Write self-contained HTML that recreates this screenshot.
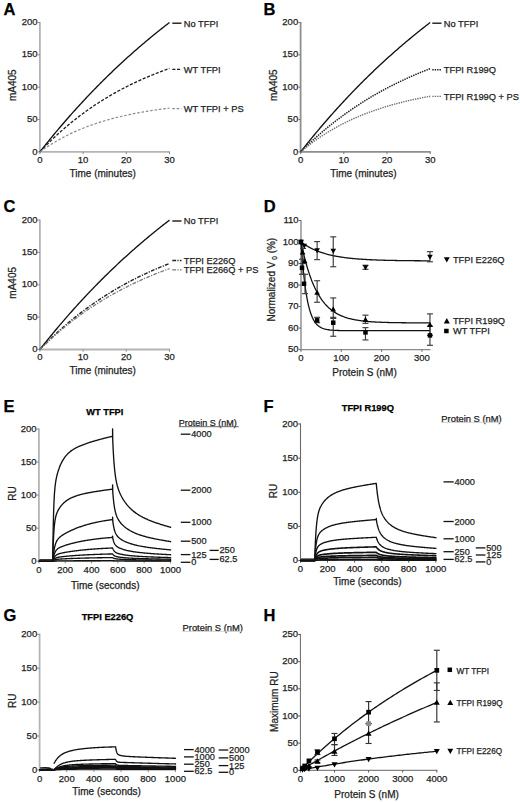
<!DOCTYPE html>
<html><head><meta charset="utf-8"><style>
html,body{margin:0;padding:0;background:#fff;}
svg{display:block;font-family:"Liberation Sans",sans-serif;}
</style></head><body>
<svg width="520" height="802" viewBox="0 0 520 802">
<rect width="520" height="802" fill="#fff"/>
<text x="3.4" y="14.8" font-size="16.5" text-anchor="start" font-weight="bold" fill="#000" stroke="#000" stroke-width="0.25">A</text>
<line x1="39.9" y1="21.9" x2="39.9" y2="152.5" stroke="#b4b4b4" stroke-width="1.8"/>
<line x1="37.7" y1="22.5" x2="39.9" y2="22.5" stroke="#8a8a8a" stroke-width="1"/>
<text x="37.5" y="25.12" font-size="9.5" text-anchor="end" font-weight="normal" fill="#1e1e1e" stroke="#1e1e1e" stroke-width="0.25">200</text>
<line x1="37.7" y1="54.85" x2="39.9" y2="54.85" stroke="#8a8a8a" stroke-width="1"/>
<text x="37.5" y="57.47" font-size="9.5" text-anchor="end" font-weight="normal" fill="#1e1e1e" stroke="#1e1e1e" stroke-width="0.25">150</text>
<line x1="37.7" y1="87.2" x2="39.9" y2="87.2" stroke="#8a8a8a" stroke-width="1"/>
<text x="37.5" y="89.82" font-size="9.5" text-anchor="end" font-weight="normal" fill="#1e1e1e" stroke="#1e1e1e" stroke-width="0.25">100</text>
<line x1="37.7" y1="119.55" x2="39.9" y2="119.55" stroke="#8a8a8a" stroke-width="1"/>
<text x="37.5" y="122.17" font-size="9.5" text-anchor="end" font-weight="normal" fill="#1e1e1e" stroke="#1e1e1e" stroke-width="0.25">50</text>
<line x1="37.7" y1="151.9" x2="39.9" y2="151.9" stroke="#8a8a8a" stroke-width="1"/>
<text x="37.5" y="154.52" font-size="9.5" text-anchor="end" font-weight="normal" fill="#1e1e1e" stroke="#1e1e1e" stroke-width="0.25">0</text>
<line x1="39.3" y1="151.9" x2="170.1" y2="151.9" stroke="#b4b4b4" stroke-width="1.8"/>
<line x1="39.9" y1="151.9" x2="39.9" y2="154.1" stroke="#8a8a8a" stroke-width="1"/>
<text x="39.9" y="162.7" font-size="9.5" text-anchor="middle" font-weight="normal" fill="#1e1e1e" stroke="#1e1e1e" stroke-width="0.25">0</text>
<line x1="83.1" y1="151.9" x2="83.1" y2="154.1" stroke="#8a8a8a" stroke-width="1"/>
<text x="83.1" y="162.7" font-size="9.5" text-anchor="middle" font-weight="normal" fill="#1e1e1e" stroke="#1e1e1e" stroke-width="0.25">10</text>
<line x1="126.3" y1="151.9" x2="126.3" y2="154.1" stroke="#8a8a8a" stroke-width="1"/>
<text x="126.3" y="162.7" font-size="9.5" text-anchor="middle" font-weight="normal" fill="#1e1e1e" stroke="#1e1e1e" stroke-width="0.25">20</text>
<line x1="169.5" y1="151.9" x2="169.5" y2="154.1" stroke="#8a8a8a" stroke-width="1"/>
<text x="169.5" y="162.7" font-size="9.5" text-anchor="middle" font-weight="normal" fill="#1e1e1e" stroke="#1e1e1e" stroke-width="0.25">30</text>
<text x="102.7" y="176.5" font-size="10" text-anchor="middle" font-weight="normal" fill="#1e1e1e" stroke="#1e1e1e" stroke-width="0.25">Time (minutes)</text>
<text transform="translate(16.2 85.2) rotate(-90)" font-size="10" text-anchor="middle" fill="#1e1e1e" stroke="#1e1e1e" stroke-width="0.25">mA405</text>
<path d="M39.9 151.9 L40.98 150.53 L42.06 149.16 L43.14 147.8 L44.22 146.44 L45.3 145.09 L46.38 143.75 L47.46 142.41 L48.54 141.07 L49.62 139.75 L50.7 138.42 L51.78 137.11 L52.86 135.8 L53.94 134.49 L55.02 133.19 L56.1 131.9 L57.18 130.61 L58.26 129.32 L59.34 128.05 L60.42 126.77 L61.5 125.51 L62.58 124.25 L63.66 122.99 L64.74 121.74 L65.82 120.49 L66.9 119.25 L67.98 118.02 L69.06 116.79 L70.14 115.56 L71.22 114.34 L72.3 113.13 L73.38 111.92 L74.46 110.72 L75.54 109.52 L76.62 108.32 L77.7 107.13 L78.78 105.95 L79.86 104.77 L80.94 103.6 L82.02 102.43 L83.1 101.26 L84.18 100.11 L85.26 98.95 L86.34 97.8 L87.42 96.66 L88.5 95.52 L89.58 94.39 L90.66 93.26 L91.74 92.13 L92.82 91.01 L93.9 89.89 L94.98 88.78 L96.06 87.68 L97.14 86.58 L98.22 85.48 L99.3 84.39 L100.38 83.3 L101.46 82.22 L102.54 81.14 L103.62 80.07 L104.7 79 L105.78 77.93 L106.86 76.87 L107.94 75.82 L109.02 74.77 L110.1 73.72 L111.18 72.68 L112.26 71.64 L113.34 70.61 L114.42 69.58 L115.5 68.55 L116.58 67.53 L117.66 66.52 L118.74 65.51 L119.82 64.5 L120.9 63.5 L121.98 62.5 L123.06 61.5 L124.14 60.51 L125.22 59.53 L126.3 58.55 L127.38 57.57 L128.46 56.59 L129.54 55.63 L130.62 54.66 L131.7 53.7 L132.78 52.74 L133.86 51.79 L134.94 50.84 L136.02 49.89 L137.1 48.95 L138.18 48.02 L139.26 47.08 L140.34 46.15 L141.42 45.23 L142.5 44.31 L143.58 43.39 L144.66 42.48 L145.74 41.57 L146.82 40.66 L147.9 39.76 L148.98 38.86 L150.06 37.97 L151.14 37.08 L152.22 36.19 L153.3 35.31 L154.38 34.43 L155.46 33.55 L156.54 32.68 L157.62 31.81 L158.7 30.95 L159.78 30.09 L160.86 29.23 L161.94 28.38 L163.02 27.53 L164.1 26.68 L165.18 25.84 L166.26 25 L167.34 24.17 L168.42 23.33 L169.5 22.51" fill="none" stroke="#111" stroke-width="1.35" stroke-linejoin="round"/>
<path d="M39.9 151.9 L40.98 150.75 L42.06 149.62 L43.14 148.49 L44.22 147.38 L45.3 146.27 L46.38 145.18 L47.46 144.1 L48.54 143.02 L49.62 141.96 L50.7 140.9 L51.78 139.86 L52.86 138.82 L53.94 137.8 L55.02 136.78 L56.1 135.77 L57.18 134.78 L58.26 133.79 L59.34 132.81 L60.42 131.84 L61.5 130.88 L62.58 129.92 L63.66 128.98 L64.74 128.04 L65.82 127.12 L66.9 126.2 L67.98 125.29 L69.06 124.39 L70.14 123.5 L71.22 122.61 L72.3 121.73 L73.38 120.87 L74.46 120.01 L75.54 119.15 L76.62 118.31 L77.7 117.47 L78.78 116.64 L79.86 115.82 L80.94 115.01 L82.02 114.2 L83.1 113.4 L84.18 112.61 L85.26 111.83 L86.34 111.05 L87.42 110.28 L88.5 109.52 L89.58 108.76 L90.66 108.01 L91.74 107.27 L92.82 106.53 L93.9 105.8 L94.98 105.08 L96.06 104.37 L97.14 103.66 L98.22 102.96 L99.3 102.26 L100.38 101.57 L101.46 100.89 L102.54 100.21 L103.62 99.54 L104.7 98.88 L105.78 98.22 L106.86 97.57 L107.94 96.92 L109.02 96.28 L110.1 95.65 L111.18 95.02 L112.26 94.4 L113.34 93.78 L114.42 93.17 L115.5 92.57 L116.58 91.97 L117.66 91.37 L118.74 90.78 L119.82 90.2 L120.9 89.62 L121.98 89.05 L123.06 88.48 L124.14 87.92 L125.22 87.36 L126.3 86.81 L127.38 86.26 L128.46 85.72 L129.54 85.18 L130.62 84.65 L131.7 84.13 L132.78 83.6 L133.86 83.09 L134.94 82.57 L136.02 82.07 L137.1 81.56 L138.18 81.06 L139.26 80.57 L140.34 80.08 L141.42 79.6 L142.5 79.12 L143.58 78.64 L144.66 78.17 L145.74 77.7 L146.82 77.24 L147.9 76.78 L148.98 76.32 L150.06 75.87 L151.14 75.43 L152.22 74.99 L153.3 74.55 L154.38 74.11 L155.46 73.68 L156.54 73.26 L157.62 72.84 L158.7 72.42 L159.78 72 L160.86 71.59 L161.94 71.19 L163.02 70.78 L164.1 70.38 L165.18 69.99 L166.26 69.6 L167.34 69.21 L168.42 68.82 L169.5 68.44" fill="none" stroke="#1a1a1a" stroke-width="1.3" stroke-dasharray="3.1 1.6" stroke-linejoin="round"/>
<path d="M39.9 151.9 L40.98 151.12 L42.06 150.35 L43.14 149.59 L44.22 148.84 L45.3 148.11 L46.38 147.38 L47.46 146.67 L48.54 145.97 L49.62 145.27 L50.7 144.59 L51.78 143.92 L52.86 143.26 L53.94 142.6 L55.02 141.96 L56.1 141.33 L57.18 140.7 L58.26 140.09 L59.34 139.48 L60.42 138.89 L61.5 138.3 L62.58 137.72 L63.66 137.15 L64.74 136.59 L65.82 136.04 L66.9 135.49 L67.98 134.95 L69.06 134.43 L70.14 133.9 L71.22 133.39 L72.3 132.89 L73.38 132.39 L74.46 131.9 L75.54 131.41 L76.62 130.94 L77.7 130.47 L78.78 130.01 L79.86 129.55 L80.94 129.1 L82.02 128.66 L83.1 128.23 L84.18 127.8 L85.26 127.37 L86.34 126.96 L87.42 126.55 L88.5 126.14 L89.58 125.75 L90.66 125.36 L91.74 124.97 L92.82 124.59 L93.9 124.21 L94.98 123.85 L96.06 123.48 L97.14 123.12 L98.22 122.77 L99.3 122.42 L100.38 122.08 L101.46 121.74 L102.54 121.41 L103.62 121.08 L104.7 120.76 L105.78 120.44 L106.86 120.13 L107.94 119.82 L109.02 119.52 L110.1 119.22 L111.18 118.93 L112.26 118.64 L113.34 118.35 L114.42 118.07 L115.5 117.79 L116.58 117.52 L117.66 117.25 L118.74 116.98 L119.82 116.72 L120.9 116.46 L121.98 116.21 L123.06 115.96 L124.14 115.71 L125.22 115.47 L126.3 115.23 L127.38 115 L128.46 114.77 L129.54 114.54 L130.62 114.31 L131.7 114.09 L132.78 113.87 L133.86 113.66 L134.94 113.45 L136.02 113.24 L137.1 113.03 L138.18 112.83 L139.26 112.63 L140.34 112.43 L141.42 112.24 L142.5 112.05 L143.58 111.86 L144.66 111.68 L145.74 111.49 L146.82 111.31 L147.9 111.14 L148.98 110.96 L150.06 110.79 L151.14 110.62 L152.22 110.45 L153.3 110.29 L154.38 110.13 L155.46 109.97 L156.54 109.81 L157.62 109.66 L158.7 109.51 L159.78 109.36 L160.86 109.21 L161.94 109.06 L163.02 108.92 L164.1 108.78 L165.18 108.64 L166.26 108.5 L167.34 108.37 L168.42 108.23 L169.5 108.1" fill="none" stroke="#8a8a8a" stroke-width="1.2" stroke-dasharray="2.6 1.8" stroke-linejoin="round"/>
<line x1="172.3" y1="23.2" x2="181.5" y2="23.2" stroke="#111" stroke-width="1.35"/>
<text x="183.8" y="26.55" font-size="9.3" text-anchor="start" font-weight="normal" fill="#1e1e1e" stroke="#1e1e1e" stroke-width="0.25">No TFPI</text>
<line x1="172.3" y1="69.3" x2="181.5" y2="69.3" stroke="#1a1a1a" stroke-width="1.3" stroke-dasharray="3.1 1.6"/>
<text x="183.8" y="72.65" font-size="9.3" text-anchor="start" font-weight="normal" fill="#1e1e1e" stroke="#1e1e1e" stroke-width="0.25">WT TFPI</text>
<line x1="172.3" y1="108.6" x2="181.5" y2="108.6" stroke="#8a8a8a" stroke-width="1.2" stroke-dasharray="2.6 1.8"/>
<text x="183.8" y="111.95" font-size="9.3" text-anchor="start" font-weight="normal" fill="#1e1e1e" stroke="#1e1e1e" stroke-width="0.25">WT TFPI + PS</text>
<text x="263.4" y="14.8" font-size="16.5" text-anchor="start" font-weight="bold" fill="#000" stroke="#000" stroke-width="0.25">B</text>
<line x1="300.6" y1="21.9" x2="300.6" y2="152.5" stroke="#8e8e8e" stroke-width="1.8"/>
<line x1="298.4" y1="22.5" x2="300.6" y2="22.5" stroke="#777" stroke-width="1"/>
<text x="298.2" y="25.12" font-size="9.5" text-anchor="end" font-weight="normal" fill="#1e1e1e" stroke="#1e1e1e" stroke-width="0.25">200</text>
<line x1="298.4" y1="54.85" x2="300.6" y2="54.85" stroke="#777" stroke-width="1"/>
<text x="298.2" y="57.47" font-size="9.5" text-anchor="end" font-weight="normal" fill="#1e1e1e" stroke="#1e1e1e" stroke-width="0.25">150</text>
<line x1="298.4" y1="87.2" x2="300.6" y2="87.2" stroke="#777" stroke-width="1"/>
<text x="298.2" y="89.82" font-size="9.5" text-anchor="end" font-weight="normal" fill="#1e1e1e" stroke="#1e1e1e" stroke-width="0.25">100</text>
<line x1="298.4" y1="119.55" x2="300.6" y2="119.55" stroke="#777" stroke-width="1"/>
<text x="298.2" y="122.17" font-size="9.5" text-anchor="end" font-weight="normal" fill="#1e1e1e" stroke="#1e1e1e" stroke-width="0.25">50</text>
<line x1="298.4" y1="151.9" x2="300.6" y2="151.9" stroke="#777" stroke-width="1"/>
<text x="298.2" y="154.52" font-size="9.5" text-anchor="end" font-weight="normal" fill="#1e1e1e" stroke="#1e1e1e" stroke-width="0.25">0</text>
<line x1="300" y1="151.9" x2="430.8" y2="151.9" stroke="#8e8e8e" stroke-width="1.8"/>
<line x1="300.6" y1="151.9" x2="300.6" y2="154.1" stroke="#777" stroke-width="1"/>
<text x="300.6" y="162.7" font-size="9.5" text-anchor="middle" font-weight="normal" fill="#1e1e1e" stroke="#1e1e1e" stroke-width="0.25">0</text>
<line x1="343.8" y1="151.9" x2="343.8" y2="154.1" stroke="#777" stroke-width="1"/>
<text x="343.8" y="162.7" font-size="9.5" text-anchor="middle" font-weight="normal" fill="#1e1e1e" stroke="#1e1e1e" stroke-width="0.25">10</text>
<line x1="387" y1="151.9" x2="387" y2="154.1" stroke="#777" stroke-width="1"/>
<text x="387" y="162.7" font-size="9.5" text-anchor="middle" font-weight="normal" fill="#1e1e1e" stroke="#1e1e1e" stroke-width="0.25">20</text>
<line x1="430.2" y1="151.9" x2="430.2" y2="154.1" stroke="#777" stroke-width="1"/>
<text x="430.2" y="162.7" font-size="9.5" text-anchor="middle" font-weight="normal" fill="#1e1e1e" stroke="#1e1e1e" stroke-width="0.25">30</text>
<text x="363.4" y="176.5" font-size="10" text-anchor="middle" font-weight="normal" fill="#1e1e1e" stroke="#1e1e1e" stroke-width="0.25">Time (minutes)</text>
<text transform="translate(277.2 85.2) rotate(-90)" font-size="10" text-anchor="middle" fill="#1e1e1e" stroke="#1e1e1e" stroke-width="0.25">mA405</text>
<path d="M300.6 151.9 L301.68 150.53 L302.76 149.16 L303.84 147.8 L304.92 146.44 L306 145.09 L307.08 143.75 L308.16 142.41 L309.24 141.07 L310.32 139.75 L311.4 138.42 L312.48 137.11 L313.56 135.8 L314.64 134.49 L315.72 133.19 L316.8 131.9 L317.88 130.61 L318.96 129.32 L320.04 128.05 L321.12 126.77 L322.2 125.51 L323.28 124.25 L324.36 122.99 L325.44 121.74 L326.52 120.49 L327.6 119.25 L328.68 118.02 L329.76 116.79 L330.84 115.56 L331.92 114.34 L333 113.13 L334.08 111.92 L335.16 110.72 L336.24 109.52 L337.32 108.32 L338.4 107.13 L339.48 105.95 L340.56 104.77 L341.64 103.6 L342.72 102.43 L343.8 101.26 L344.88 100.11 L345.96 98.95 L347.04 97.8 L348.12 96.66 L349.2 95.52 L350.28 94.39 L351.36 93.26 L352.44 92.13 L353.52 91.01 L354.6 89.89 L355.68 88.78 L356.76 87.68 L357.84 86.58 L358.92 85.48 L360 84.39 L361.08 83.3 L362.16 82.22 L363.24 81.14 L364.32 80.07 L365.4 79 L366.48 77.93 L367.56 76.87 L368.64 75.82 L369.72 74.77 L370.8 73.72 L371.88 72.68 L372.96 71.64 L374.04 70.61 L375.12 69.58 L376.2 68.55 L377.28 67.53 L378.36 66.52 L379.44 65.51 L380.52 64.5 L381.6 63.5 L382.68 62.5 L383.76 61.5 L384.84 60.51 L385.92 59.53 L387 58.55 L388.08 57.57 L389.16 56.59 L390.24 55.63 L391.32 54.66 L392.4 53.7 L393.48 52.74 L394.56 51.79 L395.64 50.84 L396.72 49.89 L397.8 48.95 L398.88 48.02 L399.96 47.08 L401.04 46.15 L402.12 45.23 L403.2 44.31 L404.28 43.39 L405.36 42.48 L406.44 41.57 L407.52 40.66 L408.6 39.76 L409.68 38.86 L410.76 37.97 L411.84 37.08 L412.92 36.19 L414 35.31 L415.08 34.43 L416.16 33.55 L417.24 32.68 L418.32 31.81 L419.4 30.95 L420.48 30.09 L421.56 29.23 L422.64 28.38 L423.72 27.53 L424.8 26.68 L425.88 25.84 L426.96 25 L428.04 24.17 L429.12 23.33 L430.2 22.51" fill="none" stroke="#111" stroke-width="1.35" stroke-linejoin="round"/>
<path d="M300.6 151.9 L301.68 150.83 L302.76 149.76 L303.84 148.7 L304.92 147.65 L306 146.61 L307.08 145.58 L308.16 144.55 L309.24 143.54 L310.32 142.53 L311.4 141.53 L312.48 140.54 L313.56 139.55 L314.64 138.58 L315.72 137.61 L316.8 136.65 L317.88 135.69 L318.96 134.75 L320.04 133.81 L321.12 132.88 L322.2 131.95 L323.28 131.04 L324.36 130.13 L325.44 129.23 L326.52 128.33 L327.6 127.45 L328.68 126.57 L329.76 125.69 L330.84 124.83 L331.92 123.97 L333 123.12 L334.08 122.27 L335.16 121.43 L336.24 120.6 L337.32 119.77 L338.4 118.96 L339.48 118.14 L340.56 117.34 L341.64 116.54 L342.72 115.74 L343.8 114.96 L344.88 114.18 L345.96 113.4 L347.04 112.63 L348.12 111.87 L349.2 111.12 L350.28 110.37 L351.36 109.62 L352.44 108.88 L353.52 108.15 L354.6 107.43 L355.68 106.71 L356.76 105.99 L357.84 105.28 L358.92 104.58 L360 103.88 L361.08 103.19 L362.16 102.5 L363.24 101.82 L364.32 101.14 L365.4 100.47 L366.48 99.81 L367.56 99.15 L368.64 98.49 L369.72 97.85 L370.8 97.2 L371.88 96.56 L372.96 95.93 L374.04 95.3 L375.12 94.68 L376.2 94.06 L377.28 93.44 L378.36 92.83 L379.44 92.23 L380.52 91.63 L381.6 91.03 L382.68 90.45 L383.76 89.86 L384.84 89.28 L385.92 88.7 L387 88.13 L388.08 87.57 L389.16 87 L390.24 86.45 L391.32 85.89 L392.4 85.34 L393.48 84.8 L394.56 84.26 L395.64 83.72 L396.72 83.19 L397.8 82.66 L398.88 82.14 L399.96 81.62 L401.04 81.11 L402.12 80.6 L403.2 80.09 L404.28 79.59 L405.36 79.09 L406.44 78.59 L407.52 78.1 L408.6 77.61 L409.68 77.13 L410.76 76.65 L411.84 76.18 L412.92 75.71 L414 75.24 L415.08 74.77 L416.16 74.31 L417.24 73.86 L418.32 73.4 L419.4 72.95 L420.48 72.51 L421.56 72.07 L422.64 71.63 L423.72 71.19 L424.8 70.76 L425.88 70.33 L426.96 69.91 L428.04 69.49 L429.12 69.07 L430.2 68.65" fill="none" stroke="#1a1a1a" stroke-width="1.5" stroke-dasharray="1.4 1.0" stroke-linejoin="round"/>
<path d="M300.6 151.9 L301.68 150.99 L302.76 150.09 L303.84 149.21 L304.92 148.33 L306 147.47 L307.08 146.61 L308.16 145.77 L309.24 144.94 L310.32 144.12 L311.4 143.31 L312.48 142.51 L313.56 141.72 L314.64 140.94 L315.72 140.18 L316.8 139.42 L317.88 138.67 L318.96 137.93 L320.04 137.2 L321.12 136.48 L322.2 135.77 L323.28 135.07 L324.36 134.37 L325.44 133.69 L326.52 133.02 L327.6 132.35 L328.68 131.69 L329.76 131.04 L330.84 130.4 L331.92 129.77 L333 129.15 L334.08 128.53 L335.16 127.92 L336.24 127.32 L337.32 126.73 L338.4 126.14 L339.48 125.57 L340.56 125 L341.64 124.43 L342.72 123.88 L343.8 123.33 L344.88 122.79 L345.96 122.26 L347.04 121.73 L348.12 121.21 L349.2 120.69 L350.28 120.19 L351.36 119.69 L352.44 119.19 L353.52 118.71 L354.6 118.22 L355.68 117.75 L356.76 117.28 L357.84 116.82 L358.92 116.36 L360 115.91 L361.08 115.46 L362.16 115.02 L363.24 114.59 L364.32 114.16 L365.4 113.74 L366.48 113.32 L367.56 112.91 L368.64 112.5 L369.72 112.1 L370.8 111.71 L371.88 111.32 L372.96 110.93 L374.04 110.55 L375.12 110.17 L376.2 109.8 L377.28 109.44 L378.36 109.07 L379.44 108.72 L380.52 108.37 L381.6 108.02 L382.68 107.67 L383.76 107.34 L384.84 107 L385.92 106.67 L387 106.35 L388.08 106.02 L389.16 105.71 L390.24 105.39 L391.32 105.08 L392.4 104.78 L393.48 104.48 L394.56 104.18 L395.64 103.89 L396.72 103.6 L397.8 103.31 L398.88 103.03 L399.96 102.75 L401.04 102.47 L402.12 102.2 L403.2 101.93 L404.28 101.67 L405.36 101.41 L406.44 101.15 L407.52 100.9 L408.6 100.64 L409.68 100.4 L410.76 100.15 L411.84 99.91 L412.92 99.67 L414 99.44 L415.08 99.2 L416.16 98.97 L417.24 98.75 L418.32 98.52 L419.4 98.3 L420.48 98.09 L421.56 97.87 L422.64 97.66 L423.72 97.45 L424.8 97.24 L425.88 97.04 L426.96 96.84 L428.04 96.64 L429.12 96.44 L430.2 96.25" fill="none" stroke="#707070" stroke-width="1.4" stroke-dasharray="1.4 1.0" stroke-linejoin="round"/>
<line x1="432.3" y1="23.2" x2="441.5" y2="23.2" stroke="#111" stroke-width="1.35"/>
<text x="443.8" y="26.55" font-size="9.3" text-anchor="start" font-weight="normal" fill="#1e1e1e" stroke="#1e1e1e" stroke-width="0.25">No TFPI</text>
<line x1="432.3" y1="69.8" x2="441.5" y2="69.8" stroke="#1a1a1a" stroke-width="1.5" stroke-dasharray="1.4 1.0"/>
<text x="443.8" y="73.15" font-size="9.3" text-anchor="start" font-weight="normal" fill="#1e1e1e" stroke="#1e1e1e" stroke-width="0.25">TFPI R199Q</text>
<line x1="432.3" y1="96.4" x2="441.5" y2="96.4" stroke="#707070" stroke-width="1.4" stroke-dasharray="1.4 1.0"/>
<text x="443.8" y="99.75" font-size="9.3" text-anchor="start" font-weight="normal" fill="#1e1e1e" stroke="#1e1e1e" stroke-width="0.25">TFPI R199Q + PS</text>
<text x="3.4" y="212.4" font-size="16.5" text-anchor="start" font-weight="bold" fill="#000" stroke="#000" stroke-width="0.25">C</text>
<line x1="39.9" y1="219.5" x2="39.9" y2="350.1" stroke="#b4b4b4" stroke-width="1.8"/>
<line x1="37.7" y1="220.1" x2="39.9" y2="220.1" stroke="#8a8a8a" stroke-width="1"/>
<text x="37.5" y="222.72" font-size="9.5" text-anchor="end" font-weight="normal" fill="#1e1e1e" stroke="#1e1e1e" stroke-width="0.25">200</text>
<line x1="37.7" y1="252.45" x2="39.9" y2="252.45" stroke="#8a8a8a" stroke-width="1"/>
<text x="37.5" y="255.07" font-size="9.5" text-anchor="end" font-weight="normal" fill="#1e1e1e" stroke="#1e1e1e" stroke-width="0.25">150</text>
<line x1="37.7" y1="284.8" x2="39.9" y2="284.8" stroke="#8a8a8a" stroke-width="1"/>
<text x="37.5" y="287.42" font-size="9.5" text-anchor="end" font-weight="normal" fill="#1e1e1e" stroke="#1e1e1e" stroke-width="0.25">100</text>
<line x1="37.7" y1="317.15" x2="39.9" y2="317.15" stroke="#8a8a8a" stroke-width="1"/>
<text x="37.5" y="319.77" font-size="9.5" text-anchor="end" font-weight="normal" fill="#1e1e1e" stroke="#1e1e1e" stroke-width="0.25">50</text>
<line x1="37.7" y1="349.5" x2="39.9" y2="349.5" stroke="#8a8a8a" stroke-width="1"/>
<text x="37.5" y="352.12" font-size="9.5" text-anchor="end" font-weight="normal" fill="#1e1e1e" stroke="#1e1e1e" stroke-width="0.25">0</text>
<line x1="39.3" y1="349.5" x2="170.1" y2="349.5" stroke="#b4b4b4" stroke-width="1.8"/>
<line x1="39.9" y1="349.5" x2="39.9" y2="351.7" stroke="#8a8a8a" stroke-width="1"/>
<text x="39.9" y="360.3" font-size="9.5" text-anchor="middle" font-weight="normal" fill="#1e1e1e" stroke="#1e1e1e" stroke-width="0.25">0</text>
<line x1="83.1" y1="349.5" x2="83.1" y2="351.7" stroke="#8a8a8a" stroke-width="1"/>
<text x="83.1" y="360.3" font-size="9.5" text-anchor="middle" font-weight="normal" fill="#1e1e1e" stroke="#1e1e1e" stroke-width="0.25">10</text>
<line x1="126.3" y1="349.5" x2="126.3" y2="351.7" stroke="#8a8a8a" stroke-width="1"/>
<text x="126.3" y="360.3" font-size="9.5" text-anchor="middle" font-weight="normal" fill="#1e1e1e" stroke="#1e1e1e" stroke-width="0.25">20</text>
<line x1="169.5" y1="349.5" x2="169.5" y2="351.7" stroke="#8a8a8a" stroke-width="1"/>
<text x="169.5" y="360.3" font-size="9.5" text-anchor="middle" font-weight="normal" fill="#1e1e1e" stroke="#1e1e1e" stroke-width="0.25">30</text>
<text x="102.7" y="374.1" font-size="10" text-anchor="middle" font-weight="normal" fill="#1e1e1e" stroke="#1e1e1e" stroke-width="0.25">Time (minutes)</text>
<text transform="translate(16.2 282.8) rotate(-90)" font-size="10" text-anchor="middle" fill="#1e1e1e" stroke="#1e1e1e" stroke-width="0.25">mA405</text>
<path d="M39.9 349.5 L40.98 348.13 L42.06 346.76 L43.14 345.4 L44.22 344.04 L45.3 342.69 L46.38 341.35 L47.46 340.01 L48.54 338.67 L49.62 337.35 L50.7 336.02 L51.78 334.71 L52.86 333.4 L53.94 332.09 L55.02 330.79 L56.1 329.5 L57.18 328.21 L58.26 326.92 L59.34 325.65 L60.42 324.37 L61.5 323.11 L62.58 321.85 L63.66 320.59 L64.74 319.34 L65.82 318.09 L66.9 316.85 L67.98 315.62 L69.06 314.39 L70.14 313.16 L71.22 311.94 L72.3 310.73 L73.38 309.52 L74.46 308.32 L75.54 307.12 L76.62 305.92 L77.7 304.73 L78.78 303.55 L79.86 302.37 L80.94 301.2 L82.02 300.03 L83.1 298.86 L84.18 297.71 L85.26 296.55 L86.34 295.4 L87.42 294.26 L88.5 293.12 L89.58 291.99 L90.66 290.86 L91.74 289.73 L92.82 288.61 L93.9 287.49 L94.98 286.38 L96.06 285.28 L97.14 284.18 L98.22 283.08 L99.3 281.99 L100.38 280.9 L101.46 279.82 L102.54 278.74 L103.62 277.67 L104.7 276.6 L105.78 275.53 L106.86 274.47 L107.94 273.42 L109.02 272.37 L110.1 271.32 L111.18 270.28 L112.26 269.24 L113.34 268.21 L114.42 267.18 L115.5 266.15 L116.58 265.13 L117.66 264.12 L118.74 263.11 L119.82 262.1 L120.9 261.1 L121.98 260.1 L123.06 259.1 L124.14 258.11 L125.22 257.13 L126.3 256.15 L127.38 255.17 L128.46 254.19 L129.54 253.23 L130.62 252.26 L131.7 251.3 L132.78 250.34 L133.86 249.39 L134.94 248.44 L136.02 247.49 L137.1 246.55 L138.18 245.62 L139.26 244.68 L140.34 243.75 L141.42 242.83 L142.5 241.91 L143.58 240.99 L144.66 240.08 L145.74 239.17 L146.82 238.26 L147.9 237.36 L148.98 236.46 L150.06 235.57 L151.14 234.68 L152.22 233.79 L153.3 232.91 L154.38 232.03 L155.46 231.15 L156.54 230.28 L157.62 229.41 L158.7 228.55 L159.78 227.69 L160.86 226.83 L161.94 225.98 L163.02 225.13 L164.1 224.28 L165.18 223.44 L166.26 222.6 L167.34 221.77 L168.42 220.93 L169.5 220.11" fill="none" stroke="#111" stroke-width="1.35" stroke-linejoin="round"/>
<path d="M39.9 349.5 L40.98 348.38 L42.06 347.26 L43.14 346.15 L44.22 345.06 L45.3 343.97 L46.38 342.89 L47.46 341.82 L48.54 340.76 L49.62 339.7 L50.7 338.66 L51.78 337.62 L52.86 336.6 L53.94 335.58 L55.02 334.57 L56.1 333.56 L57.18 332.57 L58.26 331.58 L59.34 330.61 L60.42 329.64 L61.5 328.68 L62.58 327.72 L63.66 326.78 L64.74 325.84 L65.82 324.91 L66.9 323.98 L67.98 323.07 L69.06 322.16 L70.14 321.26 L71.22 320.37 L72.3 319.48 L73.38 318.61 L74.46 317.73 L75.54 316.87 L76.62 316.01 L77.7 315.16 L78.78 314.32 L79.86 313.49 L80.94 312.66 L82.02 311.83 L83.1 311.02 L84.18 310.21 L85.26 309.41 L86.34 308.61 L87.42 307.82 L88.5 307.04 L89.58 306.27 L90.66 305.5 L91.74 304.73 L92.82 303.98 L93.9 303.23 L94.98 302.48 L96.06 301.74 L97.14 301.01 L98.22 300.28 L99.3 299.56 L100.38 298.85 L101.46 298.14 L102.54 297.44 L103.62 296.74 L104.7 296.05 L105.78 295.36 L106.86 294.68 L107.94 294.01 L109.02 293.34 L110.1 292.68 L111.18 292.02 L112.26 291.37 L113.34 290.72 L114.42 290.08 L115.5 289.44 L116.58 288.81 L117.66 288.18 L118.74 287.56 L119.82 286.95 L120.9 286.33 L121.98 285.73 L123.06 285.13 L124.14 284.53 L125.22 283.94 L126.3 283.35 L127.38 282.77 L128.46 282.2 L129.54 281.62 L130.62 281.06 L131.7 280.49 L132.78 279.94 L133.86 279.38 L134.94 278.84 L136.02 278.29 L137.1 277.75 L138.18 277.22 L139.26 276.68 L140.34 276.16 L141.42 275.64 L142.5 275.12 L143.58 274.6 L144.66 274.09 L145.74 273.59 L146.82 273.09 L147.9 272.59 L148.98 272.1 L150.06 271.61 L151.14 271.12 L152.22 270.64 L153.3 270.17 L154.38 269.69 L155.46 269.22 L156.54 268.76 L157.62 268.3 L158.7 267.84 L159.78 267.39 L160.86 266.94 L161.94 266.49 L163.02 266.05 L164.1 265.61 L165.18 265.17 L166.26 264.74 L167.34 264.31 L168.42 263.89 L169.5 263.47" fill="none" stroke="#222" stroke-width="1.4" stroke-dasharray="3.8 1.3 1.2 1.3" stroke-linejoin="round"/>
<path d="M39.9 349.5 L40.98 348.43 L42.06 347.37 L43.14 346.32 L44.22 345.27 L45.3 344.24 L46.38 343.21 L47.46 342.19 L48.54 341.18 L49.62 340.18 L50.7 339.19 L51.78 338.21 L52.86 337.23 L53.94 336.27 L55.02 335.31 L56.1 334.36 L57.18 333.42 L58.26 332.48 L59.34 331.56 L60.42 330.64 L61.5 329.73 L62.58 328.82 L63.66 327.93 L64.74 327.04 L65.82 326.16 L66.9 325.29 L67.98 324.42 L69.06 323.56 L70.14 322.71 L71.22 321.87 L72.3 321.03 L73.38 320.2 L74.46 319.38 L75.54 318.56 L76.62 317.75 L77.7 316.95 L78.78 316.16 L79.86 315.37 L80.94 314.59 L82.02 313.81 L83.1 313.04 L84.18 312.28 L85.26 311.52 L86.34 310.78 L87.42 310.03 L88.5 309.3 L89.58 308.57 L90.66 307.84 L91.74 307.12 L92.82 306.41 L93.9 305.71 L94.98 305.01 L96.06 304.31 L97.14 303.62 L98.22 302.94 L99.3 302.26 L100.38 301.59 L101.46 300.93 L102.54 300.27 L103.62 299.62 L104.7 298.97 L105.78 298.32 L106.86 297.69 L107.94 297.05 L109.02 296.43 L110.1 295.81 L111.18 295.19 L112.26 294.58 L113.34 293.97 L114.42 293.37 L115.5 292.78 L116.58 292.19 L117.66 291.6 L118.74 291.02 L119.82 290.45 L120.9 289.87 L121.98 289.31 L123.06 288.75 L124.14 288.19 L125.22 287.64 L126.3 287.09 L127.38 286.55 L128.46 286.01 L129.54 285.48 L130.62 284.95 L131.7 284.43 L132.78 283.91 L133.86 283.39 L134.94 282.88 L136.02 282.37 L137.1 281.87 L138.18 281.37 L139.26 280.88 L140.34 280.39 L141.42 279.9 L142.5 279.42 L143.58 278.94 L144.66 278.47 L145.74 278 L146.82 277.54 L147.9 277.07 L148.98 276.62 L150.06 276.16 L151.14 275.71 L152.22 275.27 L153.3 274.83 L154.38 274.39 L155.46 273.95 L156.54 273.52 L157.62 273.09 L158.7 272.67 L159.78 272.25 L160.86 271.83 L161.94 271.42 L163.02 271.01 L164.1 270.6 L165.18 270.2 L166.26 269.8 L167.34 269.4 L168.42 269.01 L169.5 268.62" fill="none" stroke="#7a7a7a" stroke-width="1.3" stroke-dasharray="3.8 1.3 1.2 1.3" stroke-linejoin="round"/>
<line x1="172.3" y1="221" x2="181.5" y2="221" stroke="#111" stroke-width="1.35"/>
<text x="183.8" y="224.35" font-size="9.3" text-anchor="start" font-weight="normal" fill="#1e1e1e" stroke="#1e1e1e" stroke-width="0.25">No TFPI</text>
<line x1="172.3" y1="260.5" x2="181.5" y2="260.5" stroke="#222" stroke-width="1.4" stroke-dasharray="3.8 1.3 1.2 1.3"/>
<text x="183.8" y="263.85" font-size="9.3" text-anchor="start" font-weight="normal" fill="#1e1e1e" stroke="#1e1e1e" stroke-width="0.25">TFPI E226Q</text>
<line x1="172.3" y1="269.8" x2="181.5" y2="269.8" stroke="#7a7a7a" stroke-width="1.3" stroke-dasharray="3.8 1.3 1.2 1.3"/>
<text x="183.8" y="273.15" font-size="9.3" text-anchor="start" font-weight="normal" fill="#1e1e1e" stroke="#1e1e1e" stroke-width="0.25">TFPI E266Q + PS</text>
<text x="263.8" y="211.6" font-size="16.5" text-anchor="start" font-weight="bold" fill="#000" stroke="#000" stroke-width="0.25">D</text>
<line x1="301" y1="219.88" x2="301" y2="350.2" stroke="#8a8a8a" stroke-width="1.4"/>
<line x1="298.8" y1="220.48" x2="301" y2="220.48" stroke="#666" stroke-width="1"/>
<text x="298.6" y="223.1" font-size="9.5" text-anchor="end" font-weight="normal" fill="#1e1e1e" stroke="#1e1e1e" stroke-width="0.25">110</text>
<line x1="298.8" y1="242" x2="301" y2="242" stroke="#666" stroke-width="1"/>
<text x="298.6" y="244.62" font-size="9.5" text-anchor="end" font-weight="normal" fill="#1e1e1e" stroke="#1e1e1e" stroke-width="0.25">100</text>
<line x1="298.8" y1="263.52" x2="301" y2="263.52" stroke="#666" stroke-width="1"/>
<text x="298.6" y="266.14" font-size="9.5" text-anchor="end" font-weight="normal" fill="#1e1e1e" stroke="#1e1e1e" stroke-width="0.25">90</text>
<line x1="298.8" y1="285.04" x2="301" y2="285.04" stroke="#666" stroke-width="1"/>
<text x="298.6" y="287.66" font-size="9.5" text-anchor="end" font-weight="normal" fill="#1e1e1e" stroke="#1e1e1e" stroke-width="0.25">80</text>
<line x1="298.8" y1="306.56" x2="301" y2="306.56" stroke="#666" stroke-width="1"/>
<text x="298.6" y="309.18" font-size="9.5" text-anchor="end" font-weight="normal" fill="#1e1e1e" stroke="#1e1e1e" stroke-width="0.25">70</text>
<line x1="298.8" y1="328.08" x2="301" y2="328.08" stroke="#666" stroke-width="1"/>
<text x="298.6" y="330.7" font-size="9.5" text-anchor="end" font-weight="normal" fill="#1e1e1e" stroke="#1e1e1e" stroke-width="0.25">60</text>
<line x1="298.8" y1="349.6" x2="301" y2="349.6" stroke="#666" stroke-width="1"/>
<text x="298.6" y="352.22" font-size="9.5" text-anchor="end" font-weight="normal" fill="#1e1e1e" stroke="#1e1e1e" stroke-width="0.25">50</text>
<line x1="300.4" y1="349.6" x2="430.56" y2="349.6" stroke="#8a8a8a" stroke-width="1.4"/>
<line x1="301" y1="349.6" x2="301" y2="351.8" stroke="#666" stroke-width="1"/>
<text x="301" y="361.1" font-size="9.5" text-anchor="middle" font-weight="normal" fill="#1e1e1e" stroke="#1e1e1e" stroke-width="0.25">0</text>
<line x1="341.3" y1="349.6" x2="341.3" y2="351.8" stroke="#666" stroke-width="1"/>
<text x="341.3" y="361.1" font-size="9.5" text-anchor="middle" font-weight="normal" fill="#1e1e1e" stroke="#1e1e1e" stroke-width="0.25">100</text>
<line x1="381.6" y1="349.6" x2="381.6" y2="351.8" stroke="#666" stroke-width="1"/>
<text x="381.6" y="361.1" font-size="9.5" text-anchor="middle" font-weight="normal" fill="#1e1e1e" stroke="#1e1e1e" stroke-width="0.25">200</text>
<line x1="421.9" y1="349.6" x2="421.9" y2="351.8" stroke="#666" stroke-width="1"/>
<text x="421.9" y="361.1" font-size="9.5" text-anchor="middle" font-weight="normal" fill="#1e1e1e" stroke="#1e1e1e" stroke-width="0.25">300</text>
<text x="364.5" y="375.7" font-size="10" text-anchor="middle" font-weight="normal" fill="#1e1e1e" stroke="#1e1e1e" stroke-width="0.25">Protein S (nM)</text>
<text transform="translate(274.5 279.7) rotate(-90)" font-size="10" text-anchor="middle" fill="#1e1e1e" stroke="#1e1e1e" stroke-width="0.25">Normalized V<tspan font-size="6.5" dy="2.2"> 0</tspan><tspan dy="-2.2"> (%)</tspan></text>
<path d="M301 242 L301.2 242.15 L301.4 242.3 L301.6 242.45 L301.81 242.6 L302.01 242.74 L302.21 242.89 L302.41 243.03 L302.61 243.17 L302.81 243.32 L303.01 243.46 L303.22 243.6 L303.42 243.73 L303.62 243.87 L303.82 244.01 L304.02 244.14 L304.22 244.28 L304.43 244.41 L304.63 244.54 L304.83 244.67 L305.03 244.8 L305.23 244.93 L305.43 245.06 L305.63 245.18 L305.84 245.31 L306.04 245.43 L306.24 245.56 L306.44 245.68 L306.64 245.8 L306.84 245.92 L307.05 246.04 L307.25 246.16 L307.45 246.28 L307.65 246.39 L307.85 246.51 L308.05 246.62 L308.25 246.74 L308.46 246.85 L308.66 246.96 L308.86 247.08 L309.06 247.19 L309.26 247.3 L309.46 247.4 L309.66 247.51 L309.87 247.62 L310.07 247.73 L310.27 247.83 L310.47 247.93 L310.67 248.04 L310.87 248.14 L311.07 248.24 L311.28 248.34 L311.48 248.44 L311.68 248.54 L311.88 248.64 L312.08 248.74 L312.28 248.84 L312.49 248.93 L312.69 249.03 L312.89 249.13 L313.09 249.22 L313.29 249.31 L313.49 249.41 L313.69 249.5 L313.9 249.59 L314.1 249.68 L314.3 249.77 L314.5 249.86 L314.7 249.95 L314.9 250.03 L315.11 250.12 L315.31 250.21 L315.51 250.29 L315.71 250.38 L315.91 250.46 L316.11 250.54 L316.31 250.63 L316.52 250.71 L316.72 250.79 L316.92 250.87 L317.12 250.95 L317.93 251.27 L318.73 251.57 L319.54 251.87 L320.34 252.15 L321.15 252.43 L321.96 252.7 L322.76 252.96 L323.57 253.21 L324.37 253.45 L325.18 253.69 L325.99 253.91 L326.79 254.14 L327.6 254.35 L328.4 254.56 L329.21 254.76 L330.02 254.95 L330.82 255.14 L331.63 255.32 L332.43 255.5 L333.24 255.67 L334.05 255.84 L334.85 256 L335.66 256.15 L336.46 256.3 L337.27 256.45 L338.08 256.59 L338.88 256.73 L339.69 256.86 L340.49 256.99 L341.3 257.11 L342.11 257.23 L342.91 257.35 L343.72 257.46 L344.52 257.57 L345.33 257.68 L346.14 257.78 L346.94 257.88 L347.75 257.98 L348.55 258.07 L349.36 258.16 L350.17 258.25 L350.97 258.33 L351.78 258.42 L352.58 258.49 L353.39 258.57 L354.2 258.65 L355 258.72 L355.81 258.79 L356.61 258.86 L357.42 258.92 L358.23 258.99 L359.03 259.05 L359.84 259.11 L360.64 259.16 L361.45 259.22 L362.26 259.27 L363.06 259.33 L363.87 259.38 L364.67 259.43 L365.48 259.47 L366.29 259.52 L367.09 259.56 L367.9 259.61 L368.7 259.65 L369.51 259.69 L370.32 259.73 L371.12 259.77 L371.93 259.8 L372.73 259.84 L373.54 259.87 L374.35 259.91 L375.15 259.94 L375.96 259.97 L376.76 260 L377.57 260.03 L378.38 260.06 L379.18 260.09 L379.99 260.11 L380.79 260.14 L381.6 260.17 L382.41 260.19 L383.21 260.21 L384.02 260.24 L384.82 260.26 L385.63 260.28 L386.44 260.3 L387.24 260.32 L388.05 260.34 L388.85 260.36 L389.66 260.38 L390.47 260.39 L391.27 260.41 L392.08 260.43 L392.88 260.44 L393.69 260.46 L394.5 260.47 L395.3 260.49 L396.11 260.5 L396.91 260.52 L397.72 260.53 L398.53 260.54 L399.33 260.56 L400.14 260.57 L400.94 260.58 L401.75 260.59 L402.56 260.6 L403.36 260.61 L404.17 260.62 L404.97 260.63 L405.78 260.64 L406.59 260.65 L407.39 260.66 L408.2 260.67 L409 260.68 L409.81 260.69 L410.62 260.69 L411.42 260.7 L412.23 260.71 L413.03 260.72 L413.84 260.72 L414.65 260.73 L415.45 260.74 L416.26 260.74 L417.06 260.75 L417.87 260.75 L418.68 260.76 L419.48 260.77 L420.29 260.77 L421.09 260.78 L421.9 260.78 L422.71 260.79 L423.51 260.79 L424.32 260.8 L425.12 260.8 L425.93 260.8 L426.74 260.81 L427.54 260.81 L428.35 260.82 L429.15 260.82 L429.96 260.82" fill="none" stroke="#111" stroke-width="1.3" stroke-linejoin="round"/>
<path d="M301 242 L301.2 242.98 L301.4 243.94 L301.6 244.9 L301.81 245.84 L302.01 246.77 L302.21 247.69 L302.41 248.6 L302.61 249.49 L302.81 250.38 L303.01 251.26 L303.22 252.12 L303.42 252.98 L303.62 253.82 L303.82 254.66 L304.02 255.48 L304.22 256.3 L304.43 257.1 L304.63 257.89 L304.83 258.68 L305.03 259.46 L305.23 260.22 L305.43 260.98 L305.63 261.73 L305.84 262.47 L306.04 263.2 L306.24 263.92 L306.44 264.63 L306.64 265.33 L306.84 266.03 L307.05 266.72 L307.25 267.39 L307.45 268.07 L307.65 268.73 L307.85 269.38 L308.05 270.03 L308.25 270.67 L308.46 271.3 L308.66 271.92 L308.86 272.54 L309.06 273.15 L309.26 273.75 L309.46 274.34 L309.66 274.93 L309.87 275.51 L310.07 276.08 L310.27 276.64 L310.47 277.2 L310.67 277.76 L310.87 278.3 L311.07 278.84 L311.28 279.37 L311.48 279.9 L311.68 280.42 L311.88 280.93 L312.08 281.44 L312.28 281.94 L312.49 282.43 L312.69 282.92 L312.89 283.41 L313.09 283.88 L313.29 284.35 L313.49 284.82 L313.69 285.28 L313.9 285.73 L314.1 286.18 L314.3 286.63 L314.5 287.06 L314.7 287.5 L314.9 287.93 L315.11 288.35 L315.31 288.77 L315.51 289.18 L315.71 289.59 L315.91 289.99 L316.11 290.39 L316.31 290.78 L316.52 291.17 L316.72 291.55 L316.92 291.93 L317.12 292.3 L317.93 293.76 L318.73 295.14 L319.54 296.46 L320.34 297.71 L321.15 298.91 L321.96 300.05 L322.76 301.13 L323.57 302.16 L324.37 303.15 L325.18 304.09 L325.99 304.98 L326.79 305.83 L327.6 306.64 L328.4 307.41 L329.21 308.15 L330.02 308.85 L330.82 309.52 L331.63 310.15 L332.43 310.76 L333.24 311.33 L334.05 311.88 L334.85 312.41 L335.66 312.91 L336.46 313.38 L337.27 313.83 L338.08 314.26 L338.88 314.67 L339.69 315.06 L340.49 315.44 L341.3 315.79 L342.11 316.13 L342.91 316.45 L343.72 316.76 L344.52 317.05 L345.33 317.33 L346.14 317.59 L346.94 317.85 L347.75 318.09 L348.55 318.32 L349.36 318.53 L350.17 318.74 L350.97 318.94 L351.78 319.13 L352.58 319.31 L353.39 319.48 L354.2 319.64 L355 319.8 L355.81 319.95 L356.61 320.09 L357.42 320.22 L358.23 320.35 L359.03 320.47 L359.84 320.59 L360.64 320.7 L361.45 320.8 L362.26 320.9 L363.06 321 L363.87 321.09 L364.67 321.17 L365.48 321.26 L366.29 321.34 L367.09 321.41 L367.9 321.48 L368.7 321.55 L369.51 321.62 L370.32 321.68 L371.12 321.74 L371.93 321.79 L372.73 321.84 L373.54 321.9 L374.35 321.94 L375.15 321.99 L375.96 322.03 L376.76 322.08 L377.57 322.12 L378.38 322.15 L379.18 322.19 L379.99 322.22 L380.79 322.26 L381.6 322.29 L382.41 322.32 L383.21 322.35 L384.02 322.37 L384.82 322.4 L385.63 322.42 L386.44 322.45 L387.24 322.47 L388.05 322.49 L388.85 322.51 L389.66 322.53 L390.47 322.55 L391.27 322.57 L392.08 322.58 L392.88 322.6 L393.69 322.61 L394.5 322.63 L395.3 322.64 L396.11 322.65 L396.91 322.67 L397.72 322.68 L398.53 322.69 L399.33 322.7 L400.14 322.71 L400.94 322.72 L401.75 322.73 L402.56 322.74 L403.36 322.75 L404.17 322.75 L404.97 322.76 L405.78 322.77 L406.59 322.78 L407.39 322.78 L408.2 322.79 L409 322.8 L409.81 322.8 L410.62 322.81 L411.42 322.81 L412.23 322.82 L413.03 322.82 L413.84 322.83 L414.65 322.83 L415.45 322.83 L416.26 322.84 L417.06 322.84 L417.87 322.84 L418.68 322.85 L419.48 322.85 L420.29 322.85 L421.09 322.86 L421.9 322.86 L422.71 322.86 L423.51 322.87 L424.32 322.87 L425.12 322.87 L425.93 322.87 L426.74 322.87 L427.54 322.88 L428.35 322.88 L429.15 322.88 L429.96 322.88" fill="none" stroke="#111" stroke-width="1.3" stroke-linejoin="round"/>
<path d="M301 242 L301.2 244.94 L301.4 247.79 L301.6 250.54 L301.81 253.2 L302.01 255.77 L302.21 258.25 L302.41 260.66 L302.61 262.98 L302.81 265.23 L303.01 267.4 L303.22 269.5 L303.42 271.53 L303.62 273.49 L303.82 275.39 L304.02 277.22 L304.22 278.99 L304.43 280.71 L304.63 282.37 L304.83 283.97 L305.03 285.52 L305.23 287.02 L305.43 288.47 L305.63 289.87 L305.84 291.22 L306.04 292.53 L306.24 293.79 L306.44 295.02 L306.64 296.2 L306.84 297.34 L307.05 298.45 L307.25 299.52 L307.45 300.55 L307.65 301.55 L307.85 302.52 L308.05 303.45 L308.25 304.36 L308.46 305.23 L308.66 306.07 L308.86 306.89 L309.06 307.68 L309.26 308.44 L309.46 309.18 L309.66 309.89 L309.87 310.58 L310.07 311.25 L310.27 311.89 L310.47 312.51 L310.67 313.12 L310.87 313.7 L311.07 314.26 L311.28 314.81 L311.48 315.33 L311.68 315.84 L311.88 316.33 L312.08 316.81 L312.28 317.27 L312.49 317.71 L312.69 318.14 L312.89 318.56 L313.09 318.96 L313.29 319.35 L313.49 319.72 L313.69 320.09 L313.9 320.44 L314.1 320.78 L314.3 321.1 L314.5 321.42 L314.7 321.73 L314.9 322.03 L315.11 322.31 L315.31 322.59 L315.51 322.86 L315.71 323.12 L315.91 323.37 L316.11 323.61 L316.31 323.84 L316.52 324.07 L316.72 324.29 L316.92 324.5 L317.12 324.7 L317.93 325.46 L318.73 326.11 L319.54 326.69 L320.34 327.19 L321.15 327.63 L321.96 328.01 L322.76 328.35 L323.57 328.64 L324.37 328.89 L325.18 329.12 L325.99 329.31 L326.79 329.48 L327.6 329.63 L328.4 329.76 L329.21 329.88 L330.02 329.98 L330.82 330.06 L331.63 330.14 L332.43 330.2 L333.24 330.26 L334.05 330.31 L334.85 330.36 L335.66 330.4 L336.46 330.43 L337.27 330.46 L338.08 330.48 L338.88 330.51 L339.69 330.53 L340.49 330.54 L341.3 330.56 L342.11 330.57 L342.91 330.58 L343.72 330.59 L344.52 330.6 L345.33 330.61 L346.14 330.62 L346.94 330.62 L347.75 330.63 L348.55 330.63 L349.36 330.64 L350.17 330.64 L350.97 330.64 L351.78 330.64 L352.58 330.65 L353.39 330.65 L354.2 330.65 L355 330.65 L355.81 330.65 L356.61 330.65 L357.42 330.66 L358.23 330.66 L359.03 330.66 L359.84 330.66 L360.64 330.66 L361.45 330.66 L362.26 330.66 L363.06 330.66 L363.87 330.66 L364.67 330.66 L365.48 330.66 L366.29 330.66 L367.09 330.66 L367.9 330.66 L368.7 330.66 L369.51 330.66 L370.32 330.66 L371.12 330.66 L371.93 330.66 L372.73 330.66 L373.54 330.66 L374.35 330.66 L375.15 330.66 L375.96 330.66 L376.76 330.66 L377.57 330.66 L378.38 330.66 L379.18 330.66 L379.99 330.66 L380.79 330.66 L381.6 330.66 L382.41 330.66 L383.21 330.66 L384.02 330.66 L384.82 330.66 L385.63 330.66 L386.44 330.66 L387.24 330.66 L388.05 330.66 L388.85 330.66 L389.66 330.66 L390.47 330.66 L391.27 330.66 L392.08 330.66 L392.88 330.66 L393.69 330.66 L394.5 330.66 L395.3 330.66 L396.11 330.66 L396.91 330.66 L397.72 330.66 L398.53 330.66 L399.33 330.66 L400.14 330.66 L400.94 330.66 L401.75 330.66 L402.56 330.66 L403.36 330.66 L404.17 330.66 L404.97 330.66 L405.78 330.66 L406.59 330.66 L407.39 330.66 L408.2 330.66 L409 330.66 L409.81 330.66 L410.62 330.66 L411.42 330.66 L412.23 330.66 L413.03 330.66 L413.84 330.66 L414.65 330.66 L415.45 330.66 L416.26 330.66 L417.06 330.66 L417.87 330.66 L418.68 330.66 L419.48 330.66 L420.29 330.66 L421.09 330.66 L421.9 330.66 L422.71 330.66 L423.51 330.66 L424.32 330.66 L425.12 330.66 L425.93 330.66 L426.74 330.66 L427.54 330.66 L428.35 330.66 L429.15 330.66 L429.96 330.66" fill="none" stroke="#111" stroke-width="1.3" stroke-linejoin="round"/>
<line x1="317.12" y1="241.57" x2="317.12" y2="259.65" stroke="#3a3a3a" stroke-width="1.15"/>
<line x1="314.12" y1="241.57" x2="320.12" y2="241.57" stroke="#3a3a3a" stroke-width="1.15"/>
<line x1="314.12" y1="259.65" x2="320.12" y2="259.65" stroke="#3a3a3a" stroke-width="1.15"/>
<line x1="333.24" y1="236.84" x2="333.24" y2="266.75" stroke="#3a3a3a" stroke-width="1.15"/>
<line x1="330.24" y1="236.84" x2="336.24" y2="236.84" stroke="#3a3a3a" stroke-width="1.15"/>
<line x1="330.24" y1="266.75" x2="336.24" y2="266.75" stroke="#3a3a3a" stroke-width="1.15"/>
<line x1="365.48" y1="265.24" x2="365.48" y2="269.33" stroke="#3a3a3a" stroke-width="1.15"/>
<line x1="362.48" y1="265.24" x2="368.48" y2="265.24" stroke="#3a3a3a" stroke-width="1.15"/>
<line x1="362.48" y1="269.33" x2="368.48" y2="269.33" stroke="#3a3a3a" stroke-width="1.15"/>
<line x1="429.96" y1="251.68" x2="429.96" y2="261.8" stroke="#3a3a3a" stroke-width="1.15"/>
<line x1="426.96" y1="251.68" x2="432.96" y2="251.68" stroke="#3a3a3a" stroke-width="1.15"/>
<line x1="426.96" y1="261.8" x2="432.96" y2="261.8" stroke="#3a3a3a" stroke-width="1.15"/>
<line x1="317.12" y1="280.74" x2="317.12" y2="302.26" stroke="#3a3a3a" stroke-width="1.15"/>
<line x1="314.12" y1="280.74" x2="320.12" y2="280.74" stroke="#3a3a3a" stroke-width="1.15"/>
<line x1="314.12" y1="302.26" x2="320.12" y2="302.26" stroke="#3a3a3a" stroke-width="1.15"/>
<line x1="333.24" y1="297.95" x2="333.24" y2="318.4" stroke="#3a3a3a" stroke-width="1.15"/>
<line x1="330.24" y1="297.95" x2="336.24" y2="297.95" stroke="#3a3a3a" stroke-width="1.15"/>
<line x1="330.24" y1="318.4" x2="336.24" y2="318.4" stroke="#3a3a3a" stroke-width="1.15"/>
<line x1="365.48" y1="315.17" x2="365.48" y2="323.35" stroke="#3a3a3a" stroke-width="1.15"/>
<line x1="362.48" y1="315.17" x2="368.48" y2="315.17" stroke="#3a3a3a" stroke-width="1.15"/>
<line x1="362.48" y1="323.35" x2="368.48" y2="323.35" stroke="#3a3a3a" stroke-width="1.15"/>
<line x1="429.96" y1="313.88" x2="429.96" y2="335.4" stroke="#3a3a3a" stroke-width="1.15"/>
<line x1="426.96" y1="313.88" x2="432.96" y2="313.88" stroke="#3a3a3a" stroke-width="1.15"/>
<line x1="426.96" y1="335.4" x2="432.96" y2="335.4" stroke="#3a3a3a" stroke-width="1.15"/>
<line x1="305.03" y1="274.28" x2="305.03" y2="293.65" stroke="#3a3a3a" stroke-width="1.15"/>
<line x1="302.03" y1="274.28" x2="308.03" y2="274.28" stroke="#3a3a3a" stroke-width="1.15"/>
<line x1="302.03" y1="293.65" x2="308.03" y2="293.65" stroke="#3a3a3a" stroke-width="1.15"/>
<line x1="317.12" y1="317.32" x2="317.12" y2="322.7" stroke="#3a3a3a" stroke-width="1.15"/>
<line x1="314.12" y1="317.32" x2="320.12" y2="317.32" stroke="#3a3a3a" stroke-width="1.15"/>
<line x1="314.12" y1="322.7" x2="320.12" y2="322.7" stroke="#3a3a3a" stroke-width="1.15"/>
<line x1="333.24" y1="317.32" x2="333.24" y2="336.26" stroke="#3a3a3a" stroke-width="1.15"/>
<line x1="330.24" y1="317.32" x2="336.24" y2="317.32" stroke="#3a3a3a" stroke-width="1.15"/>
<line x1="330.24" y1="336.26" x2="336.24" y2="336.26" stroke="#3a3a3a" stroke-width="1.15"/>
<line x1="365.48" y1="327.65" x2="365.48" y2="339.92" stroke="#3a3a3a" stroke-width="1.15"/>
<line x1="362.48" y1="327.65" x2="368.48" y2="327.65" stroke="#3a3a3a" stroke-width="1.15"/>
<line x1="362.48" y1="339.92" x2="368.48" y2="339.92" stroke="#3a3a3a" stroke-width="1.15"/>
<line x1="429.96" y1="326.14" x2="429.96" y2="345.3" stroke="#3a3a3a" stroke-width="1.15"/>
<line x1="426.96" y1="326.14" x2="432.96" y2="326.14" stroke="#3a3a3a" stroke-width="1.15"/>
<line x1="426.96" y1="345.3" x2="432.96" y2="345.3" stroke="#3a3a3a" stroke-width="1.15"/>
<line x1="302.01" y1="259.22" x2="302.01" y2="274.28" stroke="#3a3a3a" stroke-width="1.15"/>
<line x1="299.01" y1="259.22" x2="305.01" y2="259.22" stroke="#3a3a3a" stroke-width="1.15"/>
<line x1="299.01" y1="274.28" x2="305.01" y2="274.28" stroke="#3a3a3a" stroke-width="1.15"/>
<line x1="303.01" y1="248.46" x2="303.01" y2="263.52" stroke="#3a3a3a" stroke-width="1.15"/>
<line x1="300.01" y1="248.46" x2="306.01" y2="248.46" stroke="#3a3a3a" stroke-width="1.15"/>
<line x1="300.01" y1="263.52" x2="306.01" y2="263.52" stroke="#3a3a3a" stroke-width="1.15"/>
<path d="M301 244.81 L303.81 239.76 L298.19 239.76 Z" fill="#000"/>
<path d="M304.22 248.68 L307.03 243.63 L301.42 243.63 Z" fill="#000"/>
<path d="M317.12 253.2 L319.93 248.15 L314.31 248.15 Z" fill="#000"/>
<path d="M333.24 253.84 L336.05 248.79 L330.44 248.79 Z" fill="#000"/>
<path d="M365.48 270.2 L368.29 265.15 L362.68 265.15 Z" fill="#000"/>
<path d="M429.96 259.87 L432.77 254.82 L427.16 254.82 Z" fill="#000"/>
<path d="M301 239.19 L303.81 244.24 L298.19 244.24 Z" fill="#000"/>
<path d="M302.61 249.52 L305.42 254.57 L299.81 254.57 Z" fill="#000"/>
<path d="M304.63 258.13 L307.43 263.18 L301.82 263.18 Z" fill="#000"/>
<path d="M317.12 289.77 L319.93 294.82 L314.31 294.82 Z" fill="#000"/>
<path d="M333.24 306.34 L336.05 311.39 L330.44 311.39 Z" fill="#000"/>
<path d="M365.48 316.67 L368.29 321.72 L362.68 321.72 Z" fill="#000"/>
<path d="M429.96 321.83 L432.77 326.88 L427.16 326.88 Z" fill="#000"/>
<rect x="298.75" y="239.75" width="4.5" height="4.5" fill="#000"/>
<rect x="299.76" y="265.57" width="4.5" height="4.5" fill="#000"/>
<rect x="301.77" y="281.5" width="4.5" height="4.5" fill="#000"/>
<rect x="314.87" y="318.08" width="4.5" height="4.5" fill="#000"/>
<rect x="330.99" y="320.45" width="4.5" height="4.5" fill="#000"/>
<rect x="363.23" y="330.13" width="4.5" height="4.5" fill="#000"/>
<rect x="427.71" y="333.15" width="4.5" height="4.5" fill="#000"/>
<path d="M446.8 262.57 L449.77 257.22 L443.83 257.22 Z" fill="#000"/>
<text x="452.9" y="262.7" font-size="9.3" text-anchor="start" font-weight="normal" fill="#1e1e1e" stroke="#1e1e1e" stroke-width="0.25">TFPI E226Q</text>
<path d="M446.8 318.03 L449.77 323.38 L443.83 323.38 Z" fill="#000"/>
<text x="452.9" y="323.6" font-size="9.3" text-anchor="start" font-weight="normal" fill="#1e1e1e" stroke="#1e1e1e" stroke-width="0.25">TFPI R199Q</text>
<rect x="444.15" y="328.75" width="4.5" height="4.5" fill="#000"/>
<text x="452.9" y="333.9" font-size="9.3" text-anchor="start" font-weight="normal" fill="#1e1e1e" stroke="#1e1e1e" stroke-width="0.25">WT TFPI</text>
<text x="3.6" y="412.2" font-size="16.5" text-anchor="start" font-weight="bold" fill="#000" stroke="#000" stroke-width="0.25">E</text>
<line x1="38.9" y1="428.4" x2="38.9" y2="561.8" stroke="#b4b4b4" stroke-width="1.8"/>
<line x1="36.7" y1="429" x2="38.9" y2="429" stroke="#8a8a8a" stroke-width="1"/>
<text x="36.5" y="431.62" font-size="9.5" text-anchor="end" font-weight="normal" fill="#1e1e1e" stroke="#1e1e1e" stroke-width="0.25">200</text>
<line x1="36.7" y1="462.05" x2="38.9" y2="462.05" stroke="#8a8a8a" stroke-width="1"/>
<text x="36.5" y="464.67" font-size="9.5" text-anchor="end" font-weight="normal" fill="#1e1e1e" stroke="#1e1e1e" stroke-width="0.25">150</text>
<line x1="36.7" y1="495.1" x2="38.9" y2="495.1" stroke="#8a8a8a" stroke-width="1"/>
<text x="36.5" y="497.72" font-size="9.5" text-anchor="end" font-weight="normal" fill="#1e1e1e" stroke="#1e1e1e" stroke-width="0.25">100</text>
<line x1="36.7" y1="528.15" x2="38.9" y2="528.15" stroke="#8a8a8a" stroke-width="1"/>
<text x="36.5" y="530.77" font-size="9.5" text-anchor="end" font-weight="normal" fill="#1e1e1e" stroke="#1e1e1e" stroke-width="0.25">50</text>
<line x1="36.7" y1="561.2" x2="38.9" y2="561.2" stroke="#8a8a8a" stroke-width="1"/>
<text x="36.5" y="563.82" font-size="9.5" text-anchor="end" font-weight="normal" fill="#1e1e1e" stroke="#1e1e1e" stroke-width="0.25">0</text>
<line x1="38.3" y1="561.2" x2="171.1" y2="561.2" stroke="#b4b4b4" stroke-width="1.8"/>
<line x1="38.9" y1="561.2" x2="38.9" y2="563.4" stroke="#8a8a8a" stroke-width="1"/>
<text x="38.9" y="572.5" font-size="9.5" text-anchor="middle" font-weight="normal" fill="#1e1e1e" stroke="#1e1e1e" stroke-width="0.25">0</text>
<line x1="65.22" y1="561.2" x2="65.22" y2="563.4" stroke="#8a8a8a" stroke-width="1"/>
<text x="65.22" y="572.5" font-size="9.5" text-anchor="middle" font-weight="normal" fill="#1e1e1e" stroke="#1e1e1e" stroke-width="0.25">200</text>
<line x1="91.54" y1="561.2" x2="91.54" y2="563.4" stroke="#8a8a8a" stroke-width="1"/>
<text x="91.54" y="572.5" font-size="9.5" text-anchor="middle" font-weight="normal" fill="#1e1e1e" stroke="#1e1e1e" stroke-width="0.25">400</text>
<line x1="117.86" y1="561.2" x2="117.86" y2="563.4" stroke="#8a8a8a" stroke-width="1"/>
<text x="117.86" y="572.5" font-size="9.5" text-anchor="middle" font-weight="normal" fill="#1e1e1e" stroke="#1e1e1e" stroke-width="0.25">600</text>
<line x1="144.18" y1="561.2" x2="144.18" y2="563.4" stroke="#8a8a8a" stroke-width="1"/>
<text x="144.18" y="572.5" font-size="9.5" text-anchor="middle" font-weight="normal" fill="#1e1e1e" stroke="#1e1e1e" stroke-width="0.25">800</text>
<line x1="170.5" y1="561.2" x2="170.5" y2="563.4" stroke="#8a8a8a" stroke-width="1"/>
<text x="170.5" y="572.5" font-size="9.5" text-anchor="middle" font-weight="normal" fill="#1e1e1e" stroke="#1e1e1e" stroke-width="0.25">1000</text>
<text x="104.8" y="415.3" font-size="9.3" text-anchor="middle" font-weight="bold" fill="#000" stroke="#000" stroke-width="0.25">WT TFPI</text>
<path d="M38.9 561.2 L39.56 561.2 L40.22 561.2 L40.87 561.2 L41.53 561.2 L42.19 561.2 L42.85 561.2 L43.51 561.2 L44.16 561.2 L44.82 561.2 L45.48 561.2 L46.14 561.2 L46.8 561.2 L47.45 561.2 L48.11 561.2 L48.77 561.2 L49.43 561.2 L50.09 561.2 L50.74 561.2 L51.4 561.2 L52.06 561.2 L52.72 561.2 L52.85 550.7 L52.98 541.64 L53.11 533.81 L53.24 527.03 L53.38 521.15 L53.51 516.04 L53.64 511.58 L53.77 507.68 L53.9 504.27 L54.03 501.26 L54.17 498.61 L54.3 496.25 L54.43 494.16 L54.56 492.28 L54.69 490.6 L54.82 489.08 L54.96 487.7 L55.09 486.44 L55.22 485.29 L55.35 484.23 L55.48 483.25 L55.61 482.34 L55.74 481.49 L55.88 480.69 L56.01 479.93 L56.14 479.22 L56.27 478.54 L56.4 477.9 L56.53 477.28 L56.67 476.68 L56.8 476.11 L56.93 475.56 L57.06 475.03 L57.19 474.52 L57.32 474.02 L57.46 473.53 L57.59 473.06 L57.72 472.6 L57.85 472.16 L57.98 471.72 L58.11 471.29 L58.25 470.87 L58.38 470.46 L58.51 470.06 L58.64 469.67 L58.77 469.29 L58.9 468.91 L59.03 468.54 L59.17 468.18 L59.3 467.82 L59.43 467.47 L59.56 467.13 L59.69 466.79 L59.82 466.46 L59.96 466.14 L60.09 465.82 L60.22 465.5 L60.35 465.19 L60.48 464.89 L60.61 464.59 L61.27 463.17 L61.93 461.87 L62.59 460.66 L63.25 459.55 L63.9 458.52 L64.56 457.56 L65.22 456.67 L65.88 455.85 L66.54 455.08 L67.19 454.36 L67.85 453.68 L68.51 453.05 L69.17 452.46 L69.83 451.9 L70.48 451.37 L71.14 450.87 L71.8 450.4 L72.46 449.95 L73.12 449.52 L73.77 449.12 L74.43 448.73 L75.09 448.35 L75.75 448 L76.41 447.65 L77.06 447.32 L77.72 447 L78.38 446.69 L79.04 446.39 L79.7 446.1 L80.35 445.82 L81.01 445.55 L81.67 445.28 L82.33 445.02 L82.99 444.76 L83.64 444.51 L84.3 444.27 L84.96 444.03 L85.62 443.8 L86.28 443.56 L86.93 443.34 L87.59 443.12 L88.25 442.9 L88.91 442.68 L89.57 442.47 L90.22 442.26 L90.88 442.05 L91.54 441.85 L92.2 441.64 L92.86 441.44 L93.51 441.25 L94.17 441.05 L94.83 440.86 L95.49 440.67 L96.15 440.48 L96.8 440.29 L97.46 440.11 L98.12 439.92 L98.78 439.74 L99.44 439.56 L100.09 439.38 L100.75 439.21 L101.41 439.03 L102.07 438.86 L102.73 438.69 L103.38 438.52 L104.04 438.35 L104.7 438.18 L105.36 438.01 L106.02 437.85 L106.67 437.69 L107.33 437.52 L107.99 437.36 L108.65 437.2 L109.31 437.04 L109.96 436.89 L110.62 436.73 L111.28 436.58 L111.94 436.42 L112.6 436.27 L112.6 429 L112.73 439.62 L112.86 442.75 L112.99 445.66 L113.12 448.38 L113.25 450.93 L113.39 453.3 L113.52 455.53 L113.65 457.61 L113.78 459.56 L113.91 461.39 L114.04 463.1 L114.18 464.72 L114.31 466.23 L114.44 467.66 L114.57 469 L114.7 470.27 L114.83 471.47 L114.96 472.6 L115.1 473.67 L115.23 474.69 L115.36 475.65 L115.49 476.56 L115.62 477.43 L115.75 478.25 L115.89 479.04 L116.02 479.79 L116.15 480.51 L116.28 481.19 L116.41 481.85 L116.54 482.48 L116.68 483.08 L116.81 483.66 L116.94 484.22 L117.07 484.75 L117.2 485.27 L117.33 485.77 L117.47 486.26 L117.6 486.72 L117.73 487.18 L117.86 487.61 L117.99 488.04 L118.12 488.45 L118.25 488.86 L118.39 489.25 L118.52 489.63 L118.65 490 L118.78 490.37 L118.91 490.72 L119.04 491.07 L119.18 491.4 L119.31 491.74 L119.44 492.06 L119.57 492.38 L119.7 492.69 L119.83 493 L119.97 493.3 L120.1 493.59 L120.23 493.88 L120.36 494.17 L120.49 494.45 L121.15 495.79 L121.81 497.04 L122.47 498.21 L123.12 499.31 L123.78 500.35 L124.44 501.34 L125.1 502.28 L125.76 503.17 L126.41 504.03 L127.07 504.85 L127.73 505.63 L128.39 506.37 L129.05 507.09 L129.7 507.77 L130.36 508.43 L131.02 509.06 L131.68 509.67 L132.34 510.26 L132.99 510.82 L133.65 511.36 L134.31 511.88 L134.97 512.38 L135.63 512.87 L136.28 513.34 L136.94 513.79 L137.6 514.23 L138.26 514.66 L138.92 515.07 L139.57 515.47 L140.23 515.85 L140.89 516.23 L141.55 516.6 L142.21 516.95 L142.86 517.3 L143.52 517.63 L144.18 517.96 L144.84 518.28 L145.5 518.59 L146.15 518.9 L146.81 519.2 L147.47 519.49 L148.13 519.78 L148.79 520.05 L149.44 520.33 L150.1 520.6 L150.76 520.86 L151.42 521.12 L152.08 521.37 L152.73 521.62 L153.39 521.87 L154.05 522.11 L154.71 522.35 L155.37 522.58 L156.02 522.81 L156.68 523.04 L157.34 523.26 L158 523.48 L158.66 523.7 L159.31 523.92 L159.97 524.13 L160.63 524.34 L161.29 524.54 L161.95 524.75 L162.6 524.95 L163.26 525.15 L163.92 525.35 L164.58 525.55 L165.24 525.74 L165.89 525.93 L166.55 526.12 L167.21 526.31 L167.87 526.5 L168.53 526.68 L169.18 526.87 L169.84 527.05 L170.5 527.23 L171.16 527.41" fill="none" stroke="#111" stroke-width="1.35" stroke-linejoin="round"/>
<path d="M38.9 561.2 L39.56 561.2 L40.22 561.2 L40.87 561.2 L41.53 561.2 L42.19 561.2 L42.85 561.2 L43.51 561.2 L44.16 561.2 L44.82 561.2 L45.48 561.2 L46.14 561.2 L46.8 561.2 L47.45 561.2 L48.11 561.2 L48.77 561.2 L49.43 561.2 L50.09 561.2 L50.74 561.2 L51.4 561.2 L52.06 561.2 L52.72 561.2 L52.85 556.16 L52.98 551.69 L53.11 547.71 L53.24 544.17 L53.38 541.01 L53.51 538.2 L53.64 535.68 L53.77 533.42 L53.9 531.4 L54.03 529.58 L54.17 527.95 L54.3 526.47 L54.43 525.14 L54.56 523.93 L54.69 522.83 L54.82 521.83 L54.96 520.91 L55.09 520.08 L55.22 519.3 L55.35 518.59 L55.48 517.94 L55.61 517.33 L55.74 516.76 L55.88 516.23 L56.01 515.73 L56.14 515.26 L56.27 514.82 L56.4 514.41 L56.53 514.01 L56.67 513.64 L56.8 513.28 L56.93 512.93 L57.06 512.61 L57.19 512.29 L57.32 511.99 L57.46 511.69 L57.59 511.41 L57.72 511.13 L57.85 510.87 L57.98 510.61 L58.11 510.36 L58.25 510.11 L58.38 509.87 L58.51 509.64 L58.64 509.41 L58.77 509.19 L58.9 508.97 L59.03 508.75 L59.17 508.54 L59.3 508.34 L59.43 508.13 L59.56 507.93 L59.69 507.74 L59.82 507.55 L59.96 507.36 L60.09 507.17 L60.22 506.99 L60.35 506.81 L60.48 506.63 L60.61 506.46 L61.27 505.63 L61.93 504.85 L62.59 504.13 L63.25 503.45 L63.9 502.82 L64.56 502.23 L65.22 501.67 L65.88 501.15 L66.54 500.66 L67.19 500.19 L67.85 499.76 L68.51 499.35 L69.17 498.96 L69.83 498.59 L70.48 498.25 L71.14 497.92 L71.8 497.6 L72.46 497.31 L73.12 497.03 L73.77 496.76 L74.43 496.5 L75.09 496.26 L75.75 496.02 L76.41 495.8 L77.06 495.58 L77.72 495.37 L78.38 495.18 L79.04 494.98 L79.7 494.8 L80.35 494.62 L81.01 494.45 L81.67 494.28 L82.33 494.12 L82.99 493.96 L83.64 493.81 L84.3 493.66 L84.96 493.52 L85.62 493.37 L86.28 493.24 L86.93 493.1 L87.59 492.97 L88.25 492.84 L88.91 492.72 L89.57 492.59 L90.22 492.47 L90.88 492.35 L91.54 492.24 L92.2 492.12 L92.86 492.01 L93.51 491.9 L94.17 491.79 L94.83 491.68 L95.49 491.57 L96.15 491.46 L96.8 491.36 L97.46 491.26 L98.12 491.16 L98.78 491.06 L99.44 490.96 L100.09 490.86 L100.75 490.76 L101.41 490.66 L102.07 490.57 L102.73 490.47 L103.38 490.38 L104.04 490.29 L104.7 490.2 L105.36 490.11 L106.02 490.02 L106.67 489.93 L107.33 489.84 L107.99 489.75 L108.65 489.66 L109.31 489.57 L109.96 489.49 L110.62 489.4 L111.28 489.32 L111.94 489.23 L112.6 489.15 L112.6 484.85 L112.73 491.08 L112.86 492.89 L112.99 494.57 L113.12 496.14 L113.25 497.6 L113.39 498.97 L113.52 500.26 L113.65 501.46 L113.78 502.58 L113.91 503.64 L114.04 504.63 L114.18 505.56 L114.31 506.43 L114.44 507.25 L114.57 508.03 L114.7 508.76 L114.83 509.45 L114.96 510.1 L115.1 510.72 L115.23 511.31 L115.36 511.86 L115.49 512.39 L115.62 512.89 L115.75 513.36 L115.89 513.82 L116.02 514.25 L116.15 514.66 L116.28 515.06 L116.41 515.44 L116.54 515.8 L116.68 516.15 L116.81 516.48 L116.94 516.8 L117.07 517.11 L117.2 517.41 L117.33 517.7 L117.47 517.98 L117.6 518.25 L117.73 518.51 L117.86 518.76 L117.99 519.01 L118.12 519.25 L118.25 519.48 L118.39 519.7 L118.52 519.92 L118.65 520.14 L118.78 520.35 L118.91 520.55 L119.04 520.75 L119.18 520.95 L119.31 521.14 L119.44 521.33 L119.57 521.51 L119.7 521.69 L119.83 521.87 L119.97 522.04 L120.1 522.21 L120.23 522.38 L120.36 522.54 L120.49 522.7 L121.15 523.48 L121.81 524.2 L122.47 524.87 L123.12 525.51 L123.78 526.11 L124.44 526.68 L125.1 527.22 L125.76 527.74 L126.41 528.23 L127.07 528.7 L127.73 529.15 L128.39 529.58 L129.05 529.99 L129.7 530.39 L130.36 530.77 L131.02 531.13 L131.68 531.48 L132.34 531.82 L132.99 532.14 L133.65 532.46 L134.31 532.76 L134.97 533.05 L135.63 533.33 L136.28 533.6 L136.94 533.86 L137.6 534.11 L138.26 534.36 L138.92 534.59 L139.57 534.82 L140.23 535.05 L140.89 535.26 L141.55 535.48 L142.21 535.68 L142.86 535.88 L143.52 536.07 L144.18 536.26 L144.84 536.45 L145.5 536.63 L146.15 536.8 L146.81 536.98 L147.47 537.14 L148.13 537.31 L148.79 537.47 L149.44 537.63 L150.1 537.78 L150.76 537.94 L151.42 538.08 L152.08 538.23 L152.73 538.38 L153.39 538.52 L154.05 538.66 L154.71 538.79 L155.37 538.93 L156.02 539.06 L156.68 539.19 L157.34 539.32 L158 539.45 L158.66 539.57 L159.31 539.7 L159.97 539.82 L160.63 539.94 L161.29 540.06 L161.95 540.18 L162.6 540.29 L163.26 540.41 L163.92 540.52 L164.58 540.64 L165.24 540.75 L165.89 540.86 L166.55 540.97 L167.21 541.08 L167.87 541.19 L168.53 541.29 L169.18 541.4 L169.84 541.5 L170.5 541.61 L171.16 541.71" fill="none" stroke="#111" stroke-width="1.35" stroke-linejoin="round"/>
<path d="M38.9 561.2 L39.56 561.2 L40.22 561.2 L40.87 561.2 L41.53 561.2 L42.19 561.2 L42.85 561.2 L43.51 561.2 L44.16 561.2 L44.82 561.2 L45.48 561.2 L46.14 561.2 L46.8 561.2 L47.45 561.2 L48.11 561.2 L48.77 561.2 L49.43 561.2 L50.09 561.2 L50.74 561.2 L51.4 561.2 L52.06 561.2 L52.72 561.2 L52.85 559.77 L52.98 558.43 L53.11 557.18 L53.24 556 L53.38 554.9 L53.51 553.87 L53.64 552.9 L53.77 552 L53.9 551.14 L54.03 550.34 L54.17 549.59 L54.3 548.88 L54.43 548.22 L54.56 547.59 L54.69 547 L54.82 546.44 L54.96 545.92 L55.09 545.42 L55.22 544.95 L55.35 544.51 L55.48 544.09 L55.61 543.7 L55.74 543.32 L55.88 542.97 L56.01 542.63 L56.14 542.31 L56.27 542.01 L56.4 541.72 L56.53 541.44 L56.67 541.18 L56.8 540.92 L56.93 540.68 L57.06 540.45 L57.19 540.23 L57.32 540.02 L57.46 539.82 L57.59 539.62 L57.72 539.44 L57.85 539.26 L57.98 539.08 L58.11 538.91 L58.25 538.75 L58.38 538.59 L58.51 538.44 L58.64 538.3 L58.77 538.15 L58.9 538.01 L59.03 537.88 L59.17 537.75 L59.3 537.62 L59.43 537.49 L59.56 537.37 L59.69 537.25 L59.82 537.13 L59.96 537.02 L60.09 536.91 L60.22 536.8 L60.35 536.69 L60.48 536.58 L60.61 536.48 L61.27 535.98 L61.93 535.52 L62.59 535.08 L63.25 534.66 L63.9 534.26 L64.56 533.87 L65.22 533.49 L65.88 533.12 L66.54 532.76 L67.19 532.41 L67.85 532.07 L68.51 531.74 L69.17 531.41 L69.83 531.09 L70.48 530.77 L71.14 530.47 L71.8 530.16 L72.46 529.87 L73.12 529.58 L73.77 529.29 L74.43 529.02 L75.09 528.74 L75.75 528.48 L76.41 528.21 L77.06 527.96 L77.72 527.7 L78.38 527.46 L79.04 527.22 L79.7 526.98 L80.35 526.75 L81.01 526.52 L81.67 526.3 L82.33 526.08 L82.99 525.86 L83.64 525.65 L84.3 525.44 L84.96 525.24 L85.62 525.04 L86.28 524.85 L86.93 524.66 L87.59 524.47 L88.25 524.29 L88.91 524.11 L89.57 523.94 L90.22 523.76 L90.88 523.59 L91.54 523.43 L92.2 523.27 L92.86 523.11 L93.51 522.95 L94.17 522.8 L94.83 522.65 L95.49 522.5 L96.15 522.36 L96.8 522.22 L97.46 522.08 L98.12 521.94 L98.78 521.81 L99.44 521.68 L100.09 521.55 L100.75 521.43 L101.41 521.31 L102.07 521.19 L102.73 521.07 L103.38 520.95 L104.04 520.84 L104.7 520.73 L105.36 520.62 L106.02 520.51 L106.67 520.41 L107.33 520.31 L107.99 520.21 L108.65 520.11 L109.31 520.01 L109.96 519.92 L110.62 519.82 L111.28 519.73 L111.94 519.64 L112.6 519.56 L112.6 517.24 L112.73 520.67 L112.86 521.72 L112.99 522.69 L113.12 523.59 L113.25 524.44 L113.39 525.23 L113.52 525.98 L113.65 526.67 L113.78 527.32 L113.91 527.93 L114.04 528.5 L114.18 529.04 L114.31 529.54 L114.44 530.02 L114.57 530.47 L114.7 530.89 L114.83 531.29 L114.96 531.67 L115.1 532.02 L115.23 532.36 L115.36 532.68 L115.49 532.99 L115.62 533.28 L115.75 533.55 L115.89 533.81 L116.02 534.06 L116.15 534.3 L116.28 534.53 L116.41 534.75 L116.54 534.96 L116.68 535.16 L116.81 535.35 L116.94 535.54 L117.07 535.72 L117.2 535.89 L117.33 536.06 L117.47 536.22 L117.6 536.37 L117.73 536.53 L117.86 536.67 L117.99 536.81 L118.12 536.95 L118.25 537.09 L118.39 537.22 L118.52 537.34 L118.65 537.47 L118.78 537.59 L118.91 537.71 L119.04 537.82 L119.18 537.93 L119.31 538.05 L119.44 538.15 L119.57 538.26 L119.7 538.36 L119.83 538.47 L119.97 538.57 L120.1 538.66 L120.23 538.76 L120.36 538.86 L120.49 538.95 L121.15 539.4 L121.81 539.81 L122.47 540.2 L123.12 540.57 L123.78 540.92 L124.44 541.25 L125.1 541.56 L125.76 541.86 L126.41 542.14 L127.07 542.42 L127.73 542.68 L128.39 542.92 L129.05 543.16 L129.7 543.39 L130.36 543.61 L131.02 543.82 L131.68 544.02 L132.34 544.22 L132.99 544.41 L133.65 544.59 L134.31 544.76 L134.97 544.93 L135.63 545.09 L136.28 545.25 L136.94 545.4 L137.6 545.54 L138.26 545.69 L138.92 545.82 L139.57 545.96 L140.23 546.08 L140.89 546.21 L141.55 546.33 L142.21 546.45 L142.86 546.57 L143.52 546.68 L144.18 546.79 L144.84 546.89 L145.5 547 L146.15 547.1 L146.81 547.2 L147.47 547.3 L148.13 547.39 L148.79 547.48 L149.44 547.58 L150.1 547.67 L150.76 547.75 L151.42 547.84 L152.08 547.92 L152.73 548.01 L153.39 548.09 L154.05 548.17 L154.71 548.25 L155.37 548.33 L156.02 548.4 L156.68 548.48 L157.34 548.55 L158 548.63 L158.66 548.7 L159.31 548.77 L159.97 548.84 L160.63 548.91 L161.29 548.98 L161.95 549.05 L162.6 549.12 L163.26 549.18 L163.92 549.25 L164.58 549.32 L165.24 549.38 L165.89 549.44 L166.55 549.51 L167.21 549.57 L167.87 549.63 L168.53 549.69 L169.18 549.76 L169.84 549.82 L170.5 549.88 L171.16 549.94" fill="none" stroke="#111" stroke-width="1.35" stroke-linejoin="round"/>
<path d="M38.9 561.2 L39.56 561.2 L40.22 561.2 L40.87 561.2 L41.53 561.2 L42.19 561.2 L42.85 561.2 L43.51 561.2 L44.16 561.2 L44.82 561.2 L45.48 561.2 L46.14 561.2 L46.8 561.2 L47.45 561.2 L48.11 561.2 L48.77 561.2 L49.43 561.2 L50.09 561.2 L50.74 561.2 L51.4 561.2 L52.06 561.2 L52.72 561.2 L52.85 560.38 L52.98 559.62 L53.11 558.9 L53.24 558.23 L53.38 557.6 L53.51 557.01 L53.64 556.46 L53.77 555.94 L53.9 555.45 L54.03 555 L54.17 554.56 L54.3 554.16 L54.43 553.78 L54.56 553.42 L54.69 553.08 L54.82 552.77 L54.96 552.47 L55.09 552.18 L55.22 551.92 L55.35 551.66 L55.48 551.43 L55.61 551.2 L55.74 550.98 L55.88 550.78 L56.01 550.59 L56.14 550.41 L56.27 550.23 L56.4 550.07 L56.53 549.91 L56.67 549.76 L56.8 549.61 L56.93 549.48 L57.06 549.34 L57.19 549.22 L57.32 549.1 L57.46 548.98 L57.59 548.87 L57.72 548.76 L57.85 548.66 L57.98 548.56 L58.11 548.47 L58.25 548.37 L58.38 548.28 L58.51 548.2 L58.64 548.11 L58.77 548.03 L58.9 547.95 L59.03 547.87 L59.17 547.8 L59.3 547.72 L59.43 547.65 L59.56 547.58 L59.69 547.52 L59.82 547.45 L59.96 547.38 L60.09 547.32 L60.22 547.26 L60.35 547.19 L60.48 547.13 L60.61 547.07 L61.27 546.79 L61.93 546.53 L62.59 546.27 L63.25 546.04 L63.9 545.8 L64.56 545.58 L65.22 545.37 L65.88 545.16 L66.54 544.95 L67.19 544.75 L67.85 544.56 L68.51 544.36 L69.17 544.18 L69.83 543.99 L70.48 543.81 L71.14 543.64 L71.8 543.47 L72.46 543.3 L73.12 543.13 L73.77 542.97 L74.43 542.81 L75.09 542.65 L75.75 542.5 L76.41 542.35 L77.06 542.2 L77.72 542.06 L78.38 541.92 L79.04 541.78 L79.7 541.65 L80.35 541.51 L81.01 541.38 L81.67 541.25 L82.33 541.13 L82.99 541.01 L83.64 540.89 L84.3 540.77 L84.96 540.65 L85.62 540.54 L86.28 540.43 L86.93 540.32 L87.59 540.21 L88.25 540.11 L88.91 540.01 L89.57 539.91 L90.22 539.81 L90.88 539.71 L91.54 539.62 L92.2 539.52 L92.86 539.43 L93.51 539.34 L94.17 539.26 L94.83 539.17 L95.49 539.09 L96.15 539.01 L96.8 538.92 L97.46 538.85 L98.12 538.77 L98.78 538.69 L99.44 538.62 L100.09 538.54 L100.75 538.47 L101.41 538.4 L102.07 538.33 L102.73 538.27 L103.38 538.2 L104.04 538.14 L104.7 538.07 L105.36 538.01 L106.02 537.95 L106.67 537.89 L107.33 537.83 L107.99 537.77 L108.65 537.72 L109.31 537.66 L109.96 537.61 L110.62 537.56 L111.28 537.5 L111.94 537.45 L112.6 537.4 L112.6 536.08 L112.73 538.04 L112.86 538.64 L112.99 539.19 L113.12 539.71 L113.25 540.2 L113.39 540.65 L113.52 541.07 L113.65 541.47 L113.78 541.84 L113.91 542.19 L114.04 542.52 L114.18 542.82 L114.31 543.11 L114.44 543.38 L114.57 543.64 L114.7 543.88 L114.83 544.11 L114.96 544.32 L115.1 544.53 L115.23 544.72 L115.36 544.9 L115.49 545.08 L115.62 545.24 L115.75 545.4 L115.89 545.55 L116.02 545.69 L116.15 545.83 L116.28 545.96 L116.41 546.09 L116.54 546.2 L116.68 546.32 L116.81 546.43 L116.94 546.54 L117.07 546.64 L117.2 546.74 L117.33 546.83 L117.47 546.92 L117.6 547.01 L117.73 547.1 L117.86 547.18 L117.99 547.26 L118.12 547.34 L118.25 547.42 L118.39 547.49 L118.52 547.57 L118.65 547.64 L118.78 547.71 L118.91 547.78 L119.04 547.84 L119.18 547.91 L119.31 547.97 L119.44 548.03 L119.57 548.09 L119.7 548.15 L119.83 548.21 L119.97 548.27 L120.1 548.32 L120.23 548.38 L120.36 548.43 L120.49 548.49 L121.15 548.74 L121.81 548.98 L122.47 549.2 L123.12 549.41 L123.78 549.61 L124.44 549.8 L125.1 549.98 L125.76 550.15 L126.41 550.31 L127.07 550.47 L127.73 550.61 L128.39 550.76 L129.05 550.89 L129.7 551.02 L130.36 551.15 L131.02 551.27 L131.68 551.39 L132.34 551.5 L132.99 551.6 L133.65 551.71 L134.31 551.81 L134.97 551.9 L135.63 551.99 L136.28 552.08 L136.94 552.17 L137.6 552.25 L138.26 552.33 L138.92 552.41 L139.57 552.49 L140.23 552.56 L140.89 552.63 L141.55 552.7 L142.21 552.77 L142.86 552.84 L143.52 552.9 L144.18 552.96 L144.84 553.03 L145.5 553.08 L146.15 553.14 L146.81 553.2 L147.47 553.26 L148.13 553.31 L148.79 553.36 L149.44 553.42 L150.1 553.47 L150.76 553.52 L151.42 553.57 L152.08 553.61 L152.73 553.66 L153.39 553.71 L154.05 553.75 L154.71 553.8 L155.37 553.84 L156.02 553.89 L156.68 553.93 L157.34 553.97 L158 554.02 L158.66 554.06 L159.31 554.1 L159.97 554.14 L160.63 554.18 L161.29 554.22 L161.95 554.26 L162.6 554.3 L163.26 554.33 L163.92 554.37 L164.58 554.41 L165.24 554.45 L165.89 554.48 L166.55 554.52 L167.21 554.55 L167.87 554.59 L168.53 554.63 L169.18 554.66 L169.84 554.7 L170.5 554.73 L171.16 554.76" fill="none" stroke="#111" stroke-width="1.35" stroke-linejoin="round"/>
<path d="M38.9 561.2 L39.56 561.2 L40.22 561.2 L40.87 561.2 L41.53 561.2 L42.19 561.2 L42.85 561.2 L43.51 561.2 L44.16 561.2 L44.82 561.2 L45.48 561.2 L46.14 561.2 L46.8 561.2 L47.45 561.2 L48.11 561.2 L48.77 561.2 L49.43 561.2 L50.09 561.2 L50.74 561.2 L51.4 561.2 L52.06 561.2 L52.72 561.2 L52.85 560.75 L52.98 560.32 L53.11 559.92 L53.24 559.55 L53.38 559.2 L53.51 558.87 L53.64 558.57 L53.77 558.28 L53.9 558.01 L54.03 557.75 L54.17 557.51 L54.3 557.29 L54.43 557.08 L54.56 556.88 L54.69 556.69 L54.82 556.51 L54.96 556.35 L55.09 556.19 L55.22 556.04 L55.35 555.9 L55.48 555.77 L55.61 555.64 L55.74 555.52 L55.88 555.41 L56.01 555.3 L56.14 555.2 L56.27 555.11 L56.4 555.01 L56.53 554.93 L56.67 554.84 L56.8 554.76 L56.93 554.69 L57.06 554.61 L57.19 554.54 L57.32 554.48 L57.46 554.41 L57.59 554.35 L57.72 554.29 L57.85 554.23 L57.98 554.18 L58.11 554.13 L58.25 554.07 L58.38 554.02 L58.51 553.98 L58.64 553.93 L58.77 553.88 L58.9 553.84 L59.03 553.8 L59.17 553.75 L59.3 553.71 L59.43 553.67 L59.56 553.64 L59.69 553.6 L59.82 553.56 L59.96 553.52 L60.09 553.49 L60.22 553.45 L60.35 553.42 L60.48 553.39 L60.61 553.35 L61.27 553.19 L61.93 553.05 L62.59 552.91 L63.25 552.78 L63.9 552.65 L64.56 552.52 L65.22 552.4 L65.88 552.29 L66.54 552.17 L67.19 552.06 L67.85 551.95 L68.51 551.85 L69.17 551.74 L69.83 551.64 L70.48 551.54 L71.14 551.44 L71.8 551.35 L72.46 551.25 L73.12 551.16 L73.77 551.07 L74.43 550.98 L75.09 550.9 L75.75 550.81 L76.41 550.73 L77.06 550.65 L77.72 550.57 L78.38 550.49 L79.04 550.41 L79.7 550.34 L80.35 550.26 L81.01 550.19 L81.67 550.12 L82.33 550.05 L82.99 549.98 L83.64 549.91 L84.3 549.85 L84.96 549.79 L85.62 549.72 L86.28 549.66 L86.93 549.6 L87.59 549.54 L88.25 549.48 L88.91 549.43 L89.57 549.37 L90.22 549.32 L90.88 549.26 L91.54 549.21 L92.2 549.16 L92.86 549.11 L93.51 549.06 L94.17 549.01 L94.83 548.96 L95.49 548.92 L96.15 548.87 L96.8 548.82 L97.46 548.78 L98.12 548.74 L98.78 548.7 L99.44 548.65 L100.09 548.61 L100.75 548.57 L101.41 548.54 L102.07 548.5 L102.73 548.46 L103.38 548.42 L104.04 548.39 L104.7 548.35 L105.36 548.32 L106.02 548.28 L106.67 548.25 L107.33 548.22 L107.99 548.19 L108.65 548.15 L109.31 548.12 L109.96 548.09 L110.62 548.06 L111.28 548.04 L111.94 548.01 L112.6 547.98 L112.73 548.33 L112.86 548.67 L112.99 548.97 L113.12 549.26 L113.25 549.53 L113.39 549.78 L113.52 550.02 L113.65 550.24 L113.78 550.44 L113.91 550.64 L114.04 550.82 L114.18 550.99 L114.31 551.15 L114.44 551.3 L114.57 551.44 L114.7 551.58 L114.83 551.7 L114.96 551.82 L115.1 551.94 L115.23 552.05 L115.36 552.15 L115.49 552.24 L115.62 552.34 L115.75 552.42 L115.89 552.51 L116.02 552.59 L116.15 552.66 L116.28 552.73 L116.41 552.8 L116.54 552.87 L116.68 552.93 L116.81 552.99 L116.94 553.05 L117.07 553.11 L117.2 553.17 L117.33 553.22 L117.47 553.27 L117.6 553.32 L117.73 553.37 L117.86 553.41 L117.99 553.46 L118.12 553.5 L118.25 553.54 L118.39 553.59 L118.52 553.63 L118.65 553.67 L118.78 553.7 L118.91 553.74 L119.04 553.78 L119.18 553.81 L119.31 553.85 L119.44 553.88 L119.57 553.92 L119.7 553.95 L119.83 553.98 L119.97 554.01 L120.1 554.05 L120.23 554.08 L120.36 554.11 L120.49 554.14 L121.15 554.28 L121.81 554.41 L122.47 554.53 L123.12 554.65 L123.78 554.76 L124.44 554.87 L125.1 554.96 L125.76 555.06 L126.41 555.15 L127.07 555.24 L127.73 555.32 L128.39 555.4 L129.05 555.47 L129.7 555.55 L130.36 555.62 L131.02 555.68 L131.68 555.75 L132.34 555.81 L132.99 555.87 L133.65 555.93 L134.31 555.98 L134.97 556.03 L135.63 556.09 L136.28 556.14 L136.94 556.18 L137.6 556.23 L138.26 556.27 L138.92 556.32 L139.57 556.36 L140.23 556.4 L140.89 556.44 L141.55 556.48 L142.21 556.52 L142.86 556.55 L143.52 556.59 L144.18 556.62 L144.84 556.66 L145.5 556.69 L146.15 556.72 L146.81 556.76 L147.47 556.79 L148.13 556.82 L148.79 556.85 L149.44 556.88 L150.1 556.9 L150.76 556.93 L151.42 556.96 L152.08 556.99 L152.73 557.01 L153.39 557.04 L154.05 557.06 L154.71 557.09 L155.37 557.11 L156.02 557.14 L156.68 557.16 L157.34 557.19 L158 557.21 L158.66 557.23 L159.31 557.25 L159.97 557.28 L160.63 557.3 L161.29 557.32 L161.95 557.34 L162.6 557.36 L163.26 557.39 L163.92 557.41 L164.58 557.43 L165.24 557.45 L165.89 557.47 L166.55 557.49 L167.21 557.51 L167.87 557.53 L168.53 557.55 L169.18 557.57 L169.84 557.59 L170.5 557.61 L171.16 557.62" fill="none" stroke="#111" stroke-width="1.35" stroke-linejoin="round"/>
<path d="M38.9 561.2 L39.56 561.2 L40.22 561.2 L40.87 561.2 L41.53 561.2 L42.19 561.2 L42.85 561.2 L43.51 561.2 L44.16 561.2 L44.82 561.2 L45.48 561.2 L46.14 561.2 L46.8 561.2 L47.45 561.2 L48.11 561.2 L48.77 561.2 L49.43 561.2 L50.09 561.2 L50.74 561.2 L51.4 561.2 L52.06 561.2 L52.72 561.2 L52.85 560.95 L52.98 560.72 L53.11 560.5 L53.24 560.29 L53.38 560.1 L53.51 559.92 L53.64 559.75 L53.77 559.59 L53.9 559.44 L54.03 559.3 L54.17 559.17 L54.3 559.05 L54.43 558.93 L54.56 558.82 L54.69 558.72 L54.82 558.62 L54.96 558.53 L55.09 558.45 L55.22 558.36 L55.35 558.29 L55.48 558.21 L55.61 558.14 L55.74 558.08 L55.88 558.02 L56.01 557.96 L56.14 557.9 L56.27 557.85 L56.4 557.8 L56.53 557.75 L56.67 557.7 L56.8 557.66 L56.93 557.62 L57.06 557.58 L57.19 557.54 L57.32 557.5 L57.46 557.47 L57.59 557.43 L57.72 557.4 L57.85 557.37 L57.98 557.34 L58.11 557.31 L58.25 557.28 L58.38 557.25 L58.51 557.23 L58.64 557.2 L58.77 557.18 L58.9 557.15 L59.03 557.13 L59.17 557.1 L59.3 557.08 L59.43 557.06 L59.56 557.04 L59.69 557.02 L59.82 557 L59.96 556.98 L60.09 556.96 L60.22 556.94 L60.35 556.92 L60.48 556.9 L60.61 556.88 L61.27 556.8 L61.93 556.72 L62.59 556.64 L63.25 556.57 L63.9 556.5 L64.56 556.43 L65.22 556.36 L65.88 556.3 L66.54 556.24 L67.19 556.17 L67.85 556.11 L68.51 556.06 L69.17 556 L69.83 555.94 L70.48 555.89 L71.14 555.83 L71.8 555.78 L72.46 555.73 L73.12 555.68 L73.77 555.63 L74.43 555.58 L75.09 555.53 L75.75 555.49 L76.41 555.44 L77.06 555.4 L77.72 555.35 L78.38 555.31 L79.04 555.27 L79.7 555.22 L80.35 555.18 L81.01 555.14 L81.67 555.11 L82.33 555.07 L82.99 555.03 L83.64 554.99 L84.3 554.96 L84.96 554.92 L85.62 554.89 L86.28 554.85 L86.93 554.82 L87.59 554.79 L88.25 554.76 L88.91 554.72 L89.57 554.69 L90.22 554.66 L90.88 554.63 L91.54 554.61 L92.2 554.58 L92.86 554.55 L93.51 554.52 L94.17 554.5 L94.83 554.47 L95.49 554.44 L96.15 554.42 L96.8 554.39 L97.46 554.37 L98.12 554.35 L98.78 554.32 L99.44 554.3 L100.09 554.28 L100.75 554.26 L101.41 554.23 L102.07 554.21 L102.73 554.19 L103.38 554.17 L104.04 554.15 L104.7 554.13 L105.36 554.11 L106.02 554.1 L106.67 554.08 L107.33 554.06 L107.99 554.04 L108.65 554.03 L109.31 554.01 L109.96 553.99 L110.62 553.98 L111.28 553.96 L111.94 553.94 L112.6 553.93 L112.73 554.12 L112.86 554.31 L112.99 554.48 L113.12 554.63 L113.25 554.78 L113.39 554.92 L113.52 555.05 L113.65 555.17 L113.78 555.28 L113.91 555.39 L114.04 555.49 L114.18 555.58 L114.31 555.67 L114.44 555.76 L114.57 555.83 L114.7 555.91 L114.83 555.98 L114.96 556.04 L115.1 556.11 L115.23 556.16 L115.36 556.22 L115.49 556.27 L115.62 556.32 L115.75 556.37 L115.89 556.42 L116.02 556.46 L116.15 556.5 L116.28 556.54 L116.41 556.58 L116.54 556.62 L116.68 556.65 L116.81 556.69 L116.94 556.72 L117.07 556.75 L117.2 556.78 L117.33 556.81 L117.47 556.84 L117.6 556.87 L117.73 556.89 L117.86 556.92 L117.99 556.94 L118.12 556.97 L118.25 556.99 L118.39 557.01 L118.52 557.03 L118.65 557.06 L118.78 557.08 L118.91 557.1 L119.04 557.12 L119.18 557.14 L119.31 557.16 L119.44 557.18 L119.57 557.19 L119.7 557.21 L119.83 557.23 L119.97 557.25 L120.1 557.27 L120.23 557.28 L120.36 557.3 L120.49 557.32 L121.15 557.39 L121.81 557.47 L122.47 557.53 L123.12 557.6 L123.78 557.66 L124.44 557.72 L125.1 557.77 L125.76 557.82 L126.41 557.87 L127.07 557.92 L127.73 557.97 L128.39 558.01 L129.05 558.05 L129.7 558.09 L130.36 558.13 L131.02 558.17 L131.68 558.2 L132.34 558.24 L132.99 558.27 L133.65 558.3 L134.31 558.33 L134.97 558.36 L135.63 558.39 L136.28 558.41 L136.94 558.44 L137.6 558.47 L138.26 558.49 L138.92 558.52 L139.57 558.54 L140.23 558.56 L140.89 558.58 L141.55 558.6 L142.21 558.62 L142.86 558.64 L143.52 558.66 L144.18 558.68 L144.84 558.7 L145.5 558.72 L146.15 558.74 L146.81 558.76 L147.47 558.77 L148.13 558.79 L148.79 558.81 L149.44 558.82 L150.1 558.84 L150.76 558.85 L151.42 558.87 L152.08 558.88 L152.73 558.9 L153.39 558.91 L154.05 558.92 L154.71 558.94 L155.37 558.95 L156.02 558.97 L156.68 558.98 L157.34 558.99 L158 559 L158.66 559.02 L159.31 559.03 L159.97 559.04 L160.63 559.05 L161.29 559.07 L161.95 559.08 L162.6 559.09 L163.26 559.1 L163.92 559.11 L164.58 559.12 L165.24 559.14 L165.89 559.15 L166.55 559.16 L167.21 559.17 L167.87 559.18 L168.53 559.19 L169.18 559.2 L169.84 559.21 L170.5 559.22 L171.16 559.23" fill="none" stroke="#111" stroke-width="1.35" stroke-linejoin="round"/>
<path d="M38.9 561.2 L39.56 561.2 L40.22 561.2 L40.87 561.2 L41.53 561.2 L42.19 561.2 L42.85 561.2 L43.51 561.2 L44.16 561.2 L44.82 561.2 L45.48 561.2 L46.14 561.2 L46.8 561.2 L47.45 561.2 L48.11 561.2 L48.77 561.2 L49.43 561.2 L50.09 561.2 L50.74 561.2 L51.4 561.2 L52.06 561.2 L52.72 561.2 L52.85 561.08 L52.98 560.96 L53.11 560.85 L53.24 560.75 L53.38 560.65 L53.51 560.56 L53.64 560.48 L53.77 560.4 L53.9 560.32 L54.03 560.25 L54.17 560.19 L54.3 560.12 L54.43 560.07 L54.56 560.01 L54.69 559.96 L54.82 559.91 L54.96 559.87 L55.09 559.82 L55.22 559.78 L55.35 559.74 L55.48 559.71 L55.61 559.67 L55.74 559.64 L55.88 559.61 L56.01 559.58 L56.14 559.55 L56.27 559.52 L56.4 559.5 L56.53 559.47 L56.67 559.45 L56.8 559.43 L56.93 559.41 L57.06 559.39 L57.19 559.37 L57.32 559.35 L57.46 559.33 L57.59 559.32 L57.72 559.3 L57.85 559.28 L57.98 559.27 L58.11 559.25 L58.25 559.24 L58.38 559.23 L58.51 559.21 L58.64 559.2 L58.77 559.19 L58.9 559.18 L59.03 559.16 L59.17 559.15 L59.3 559.14 L59.43 559.13 L59.56 559.12 L59.69 559.11 L59.82 559.1 L59.96 559.09 L60.09 559.08 L60.22 559.07 L60.35 559.06 L60.48 559.05 L60.61 559.04 L61.27 559 L61.93 558.96 L62.59 558.92 L63.25 558.88 L63.9 558.85 L64.56 558.81 L65.22 558.78 L65.88 558.75 L66.54 558.72 L67.19 558.69 L67.85 558.66 L68.51 558.63 L69.17 558.6 L69.83 558.57 L70.48 558.54 L71.14 558.52 L71.8 558.49 L72.46 558.46 L73.12 558.44 L73.77 558.41 L74.43 558.39 L75.09 558.37 L75.75 558.34 L76.41 558.32 L77.06 558.3 L77.72 558.28 L78.38 558.25 L79.04 558.23 L79.7 558.21 L80.35 558.19 L81.01 558.17 L81.67 558.15 L82.33 558.13 L82.99 558.11 L83.64 558.1 L84.3 558.08 L84.96 558.06 L85.62 558.04 L86.28 558.03 L86.93 558.01 L87.59 557.99 L88.25 557.98 L88.91 557.96 L89.57 557.95 L90.22 557.93 L90.88 557.92 L91.54 557.9 L92.2 557.89 L92.86 557.87 L93.51 557.86 L94.17 557.85 L94.83 557.83 L95.49 557.82 L96.15 557.81 L96.8 557.8 L97.46 557.78 L98.12 557.77 L98.78 557.76 L99.44 557.75 L100.09 557.74 L100.75 557.73 L101.41 557.72 L102.07 557.71 L102.73 557.7 L103.38 557.69 L104.04 557.68 L104.7 557.67 L105.36 557.66 L106.02 557.65 L106.67 557.64 L107.33 557.63 L107.99 557.62 L108.65 557.61 L109.31 557.6 L109.96 557.6 L110.62 557.59 L111.28 557.58 L111.94 557.57 L112.6 557.56 L112.73 557.66 L112.86 557.75 L112.99 557.84 L113.12 557.92 L113.25 557.99 L113.39 558.06 L113.52 558.12 L113.65 558.19 L113.78 558.24 L113.91 558.3 L114.04 558.35 L114.18 558.39 L114.31 558.44 L114.44 558.48 L114.57 558.52 L114.7 558.55 L114.83 558.59 L114.96 558.62 L115.1 558.65 L115.23 558.68 L115.36 558.71 L115.49 558.74 L115.62 558.76 L115.75 558.79 L115.89 558.81 L116.02 558.83 L116.15 558.85 L116.28 558.87 L116.41 558.89 L116.54 558.91 L116.68 558.93 L116.81 558.94 L116.94 558.96 L117.07 558.98 L117.2 558.99 L117.33 559.01 L117.47 559.02 L117.6 559.03 L117.73 559.05 L117.86 559.06 L117.99 559.07 L118.12 559.08 L118.25 559.09 L118.39 559.11 L118.52 559.12 L118.65 559.13 L118.78 559.14 L118.91 559.15 L119.04 559.16 L119.18 559.17 L119.31 559.18 L119.44 559.19 L119.57 559.2 L119.7 559.21 L119.83 559.22 L119.97 559.22 L120.1 559.23 L120.23 559.24 L120.36 559.25 L120.49 559.26 L121.15 559.3 L121.81 559.33 L122.47 559.37 L123.12 559.4 L123.78 559.43 L124.44 559.46 L125.1 559.49 L125.76 559.51 L126.41 559.54 L127.07 559.56 L127.73 559.58 L128.39 559.6 L129.05 559.63 L129.7 559.65 L130.36 559.66 L131.02 559.68 L131.68 559.7 L132.34 559.72 L132.99 559.73 L133.65 559.75 L134.31 559.76 L134.97 559.78 L135.63 559.79 L136.28 559.81 L136.94 559.82 L137.6 559.83 L138.26 559.85 L138.92 559.86 L139.57 559.87 L140.23 559.88 L140.89 559.89 L141.55 559.9 L142.21 559.91 L142.86 559.92 L143.52 559.93 L144.18 559.94 L144.84 559.95 L145.5 559.96 L146.15 559.97 L146.81 559.98 L147.47 559.99 L148.13 559.99 L148.79 560 L149.44 560.01 L150.1 560.02 L150.76 560.03 L151.42 560.03 L152.08 560.04 L152.73 560.05 L153.39 560.06 L154.05 560.06 L154.71 560.07 L155.37 560.08 L156.02 560.08 L156.68 560.09 L157.34 560.1 L158 560.1 L158.66 560.11 L159.31 560.11 L159.97 560.12 L160.63 560.13 L161.29 560.13 L161.95 560.14 L162.6 560.15 L163.26 560.15 L163.92 560.16 L164.58 560.16 L165.24 560.17 L165.89 560.17 L166.55 560.18 L167.21 560.18 L167.87 560.19 L168.53 560.2 L169.18 560.2 L169.84 560.21 L170.5 560.21 L171.16 560.22" fill="none" stroke="#111" stroke-width="1.35" stroke-linejoin="round"/>
<path d="M38.9 561.2 L39.56 561.2 L40.22 561.2 L40.87 561.2 L41.53 561.2 L42.19 561.2 L42.85 561.2 L43.51 561.2 L44.16 561.2 L44.82 561.2 L45.48 561.2 L46.14 561.2 L46.8 561.2 L47.45 561.2 L48.11 561.2 L48.77 561.2 L49.43 561.2 L50.09 561.2 L50.74 561.2 L51.4 561.2 L52.06 561.2 L52.72 561.2 L52.85 561.18 L52.98 561.16 L53.11 561.15 L53.24 561.13 L53.38 561.12 L53.51 561.11 L53.64 561.09 L53.77 561.08 L53.9 561.07 L54.03 561.06 L54.17 561.05 L54.3 561.04 L54.43 561.04 L54.56 561.03 L54.69 561.02 L54.82 561.01 L54.96 561.01 L55.09 561 L55.22 560.99 L55.35 560.99 L55.48 560.98 L55.61 560.98 L55.74 560.97 L55.88 560.97 L56.01 560.96 L56.14 560.96 L56.27 560.96 L56.4 560.95 L56.53 560.95 L56.67 560.95 L56.8 560.94 L56.93 560.94 L57.06 560.94 L57.19 560.93 L57.32 560.93 L57.46 560.93 L57.59 560.93 L57.72 560.92 L57.85 560.92 L57.98 560.92 L58.11 560.92 L58.25 560.91 L58.38 560.91 L58.51 560.91 L58.64 560.91 L58.77 560.91 L58.9 560.91 L59.03 560.9 L59.17 560.9 L59.3 560.9 L59.43 560.9 L59.56 560.9 L59.69 560.9 L59.82 560.89 L59.96 560.89 L60.09 560.89 L60.22 560.89 L60.35 560.89 L60.48 560.89 L60.61 560.89 L61.27 560.88 L61.93 560.87 L62.59 560.87 L63.25 560.86 L63.9 560.86 L64.56 560.85 L65.22 560.85 L65.88 560.84 L66.54 560.84 L67.19 560.83 L67.85 560.83 L68.51 560.83 L69.17 560.82 L69.83 560.82 L70.48 560.81 L71.14 560.81 L71.8 560.81 L72.46 560.8 L73.12 560.8 L73.77 560.79 L74.43 560.79 L75.09 560.79 L75.75 560.78 L76.41 560.78 L77.06 560.78 L77.72 560.77 L78.38 560.77 L79.04 560.77 L79.7 560.77 L80.35 560.76 L81.01 560.76 L81.67 560.76 L82.33 560.75 L82.99 560.75 L83.64 560.75 L84.3 560.75 L84.96 560.74 L85.62 560.74 L86.28 560.74 L86.93 560.74 L87.59 560.73 L88.25 560.73 L88.91 560.73 L89.57 560.73 L90.22 560.72 L90.88 560.72 L91.54 560.72 L92.2 560.72 L92.86 560.72 L93.51 560.71 L94.17 560.71 L94.83 560.71 L95.49 560.71 L96.15 560.71 L96.8 560.7 L97.46 560.7 L98.12 560.7 L98.78 560.7 L99.44 560.7 L100.09 560.7 L100.75 560.69 L101.41 560.69 L102.07 560.69 L102.73 560.69 L103.38 560.69 L104.04 560.69 L104.7 560.69 L105.36 560.68 L106.02 560.68 L106.67 560.68 L107.33 560.68 L107.99 560.68 L108.65 560.68 L109.31 560.68 L109.96 560.68 L110.62 560.67 L111.28 560.67 L111.94 560.67 L112.6 560.67 L112.73 560.69 L112.86 560.7 L112.99 560.71 L113.12 560.72 L113.25 560.73 L113.39 560.74 L113.52 560.75 L113.65 560.76 L113.78 560.77 L113.91 560.78 L114.04 560.78 L114.18 560.79 L114.31 560.8 L114.44 560.8 L114.57 560.81 L114.7 560.82 L114.83 560.82 L114.96 560.82 L115.1 560.83 L115.23 560.83 L115.36 560.84 L115.49 560.84 L115.62 560.85 L115.75 560.85 L115.89 560.85 L116.02 560.86 L116.15 560.86 L116.28 560.86 L116.41 560.86 L116.54 560.87 L116.68 560.87 L116.81 560.87 L116.94 560.87 L117.07 560.88 L117.2 560.88 L117.33 560.88 L117.47 560.88 L117.6 560.88 L117.73 560.89 L117.86 560.89 L117.99 560.89 L118.12 560.89 L118.25 560.89 L118.39 560.9 L118.52 560.9 L118.65 560.9 L118.78 560.9 L118.91 560.9 L119.04 560.9 L119.18 560.9 L119.31 560.91 L119.44 560.91 L119.57 560.91 L119.7 560.91 L119.83 560.91 L119.97 560.91 L120.1 560.91 L120.23 560.92 L120.36 560.92 L120.49 560.92 L121.15 560.92 L121.81 560.93 L122.47 560.93 L123.12 560.94 L123.78 560.94 L124.44 560.95 L125.1 560.95 L125.76 560.95 L126.41 560.96 L127.07 560.96 L127.73 560.96 L128.39 560.97 L129.05 560.97 L129.7 560.97 L130.36 560.98 L131.02 560.98 L131.68 560.98 L132.34 560.98 L132.99 560.99 L133.65 560.99 L134.31 560.99 L134.97 560.99 L135.63 561 L136.28 561 L136.94 561 L137.6 561 L138.26 561 L138.92 561 L139.57 561.01 L140.23 561.01 L140.89 561.01 L141.55 561.01 L142.21 561.01 L142.86 561.01 L143.52 561.02 L144.18 561.02 L144.84 561.02 L145.5 561.02 L146.15 561.02 L146.81 561.02 L147.47 561.02 L148.13 561.02 L148.79 561.03 L149.44 561.03 L150.1 561.03 L150.76 561.03 L151.42 561.03 L152.08 561.03 L152.73 561.03 L153.39 561.03 L154.05 561.03 L154.71 561.04 L155.37 561.04 L156.02 561.04 L156.68 561.04 L157.34 561.04 L158 561.04 L158.66 561.04 L159.31 561.04 L159.97 561.04 L160.63 561.04 L161.29 561.04 L161.95 561.05 L162.6 561.05 L163.26 561.05 L163.92 561.05 L164.58 561.05 L165.24 561.05 L165.89 561.05 L166.55 561.05 L167.21 561.05 L167.87 561.05 L168.53 561.05 L169.18 561.05 L169.84 561.06 L170.5 561.06 L171.16 561.06" fill="none" stroke="#111" stroke-width="1.35" stroke-linejoin="round"/>
<line x1="39.4" y1="560" x2="52.59" y2="560" stroke="#222" stroke-width="1.8"/>
<text x="178.8" y="426.3" font-size="9" text-anchor="start" font-weight="normal" fill="#1e1e1e" stroke="#1e1e1e" stroke-width="0.25">Protein S (nM)</text>
<line x1="178.8" y1="426.7" x2="238.8" y2="426.7" stroke="#444" stroke-width="0.8"/>
<line x1="180.8" y1="434.2" x2="190.4" y2="434.2" stroke="#111" stroke-width="1.3"/>
<text x="191.2" y="437.2" font-size="9.2" text-anchor="start" font-weight="normal" fill="#1e1e1e" stroke="#1e1e1e" stroke-width="0.25">4000</text>
<line x1="180.8" y1="490.2" x2="190.4" y2="490.2" stroke="#111" stroke-width="1.3"/>
<text x="191.2" y="493.2" font-size="9.2" text-anchor="start" font-weight="normal" fill="#1e1e1e" stroke="#1e1e1e" stroke-width="0.25">2000</text>
<line x1="180.8" y1="522.3" x2="190.4" y2="522.3" stroke="#111" stroke-width="1.3"/>
<text x="191.2" y="525.3" font-size="9.2" text-anchor="start" font-weight="normal" fill="#1e1e1e" stroke="#1e1e1e" stroke-width="0.25">1000</text>
<line x1="180.8" y1="541.2" x2="190.4" y2="541.2" stroke="#111" stroke-width="1.3"/>
<text x="191.2" y="544.2" font-size="9.2" text-anchor="start" font-weight="normal" fill="#1e1e1e" stroke="#1e1e1e" stroke-width="0.25">500</text>
<line x1="180.8" y1="554.6" x2="190.4" y2="554.6" stroke="#111" stroke-width="1.3"/>
<text x="191.2" y="557.6" font-size="9.2" text-anchor="start" font-weight="normal" fill="#1e1e1e" stroke="#1e1e1e" stroke-width="0.25">125</text>
<line x1="180.8" y1="562.3" x2="190.4" y2="562.3" stroke="#111" stroke-width="1.3"/>
<text x="191.2" y="565.3" font-size="9.2" text-anchor="start" font-weight="normal" fill="#1e1e1e" stroke="#1e1e1e" stroke-width="0.25">0</text>
<line x1="209.6" y1="550.4" x2="218.7" y2="550.4" stroke="#111" stroke-width="1.3"/>
<text x="219.5" y="553.4" font-size="9.2" text-anchor="start" font-weight="normal" fill="#1e1e1e" stroke="#1e1e1e" stroke-width="0.25">250</text>
<line x1="209.6" y1="559.4" x2="218.7" y2="559.4" stroke="#111" stroke-width="1.3"/>
<text x="219.5" y="562.4" font-size="9.2" text-anchor="start" font-weight="normal" fill="#1e1e1e" stroke="#1e1e1e" stroke-width="0.25">62.5</text>
<text transform="translate(16 493.6) rotate(-90)" font-size="10" text-anchor="middle" fill="#1e1e1e" stroke="#1e1e1e" stroke-width="0.25">RU</text>
<text x="105.2" y="589.2" font-size="10" text-anchor="middle" font-weight="normal" fill="#1e1e1e" stroke="#1e1e1e" stroke-width="0.25">Time (seconds)</text>
<text x="263.6" y="411.6" font-size="16.5" text-anchor="start" font-weight="bold" fill="#000" stroke="#000" stroke-width="0.25">F</text>
<line x1="300.5" y1="423.4" x2="300.5" y2="561.1" stroke="#6a6a6a" stroke-width="1.1"/>
<line x1="298.3" y1="424" x2="300.5" y2="424" stroke="#555" stroke-width="1"/>
<text x="298.1" y="426.62" font-size="9.5" text-anchor="end" font-weight="normal" fill="#1e1e1e" stroke="#1e1e1e" stroke-width="0.25">200</text>
<line x1="298.3" y1="458.12" x2="300.5" y2="458.12" stroke="#555" stroke-width="1"/>
<text x="298.1" y="460.75" font-size="9.5" text-anchor="end" font-weight="normal" fill="#1e1e1e" stroke="#1e1e1e" stroke-width="0.25">150</text>
<line x1="298.3" y1="492.25" x2="300.5" y2="492.25" stroke="#555" stroke-width="1"/>
<text x="298.1" y="494.87" font-size="9.5" text-anchor="end" font-weight="normal" fill="#1e1e1e" stroke="#1e1e1e" stroke-width="0.25">100</text>
<line x1="298.3" y1="526.38" x2="300.5" y2="526.38" stroke="#555" stroke-width="1"/>
<text x="298.1" y="529" font-size="9.5" text-anchor="end" font-weight="normal" fill="#1e1e1e" stroke="#1e1e1e" stroke-width="0.25">50</text>
<line x1="298.3" y1="560.5" x2="300.5" y2="560.5" stroke="#555" stroke-width="1"/>
<text x="298.1" y="563.12" font-size="9.5" text-anchor="end" font-weight="normal" fill="#1e1e1e" stroke="#1e1e1e" stroke-width="0.25">0</text>
<line x1="299.9" y1="560.5" x2="436.4" y2="560.5" stroke="#6a6a6a" stroke-width="1.1"/>
<line x1="300.5" y1="560.5" x2="300.5" y2="562.7" stroke="#555" stroke-width="1"/>
<text x="300.5" y="571.5" font-size="9.5" text-anchor="middle" font-weight="normal" fill="#1e1e1e" stroke="#1e1e1e" stroke-width="0.25">0</text>
<line x1="327.56" y1="560.5" x2="327.56" y2="562.7" stroke="#555" stroke-width="1"/>
<text x="327.56" y="571.5" font-size="9.5" text-anchor="middle" font-weight="normal" fill="#1e1e1e" stroke="#1e1e1e" stroke-width="0.25">200</text>
<line x1="354.62" y1="560.5" x2="354.62" y2="562.7" stroke="#555" stroke-width="1"/>
<text x="354.62" y="571.5" font-size="9.5" text-anchor="middle" font-weight="normal" fill="#1e1e1e" stroke="#1e1e1e" stroke-width="0.25">400</text>
<line x1="381.68" y1="560.5" x2="381.68" y2="562.7" stroke="#555" stroke-width="1"/>
<text x="381.68" y="571.5" font-size="9.5" text-anchor="middle" font-weight="normal" fill="#1e1e1e" stroke="#1e1e1e" stroke-width="0.25">600</text>
<line x1="408.74" y1="560.5" x2="408.74" y2="562.7" stroke="#555" stroke-width="1"/>
<text x="408.74" y="571.5" font-size="9.5" text-anchor="middle" font-weight="normal" fill="#1e1e1e" stroke="#1e1e1e" stroke-width="0.25">800</text>
<line x1="435.8" y1="560.5" x2="435.8" y2="562.7" stroke="#555" stroke-width="1"/>
<text x="435.8" y="571.5" font-size="9.5" text-anchor="middle" font-weight="normal" fill="#1e1e1e" stroke="#1e1e1e" stroke-width="0.25">1000</text>
<text x="367.8" y="410.8" font-size="9.3" text-anchor="middle" font-weight="bold" fill="#000" stroke="#000" stroke-width="0.25">TFPI R199Q</text>
<path d="M300.5 560.5 L301.18 560.5 L301.85 560.5 L302.53 560.5 L303.21 560.5 L303.88 560.5 L304.56 560.5 L305.24 560.5 L305.91 560.5 L306.59 560.5 L307.26 560.5 L307.94 560.5 L308.62 560.5 L309.29 560.5 L309.97 560.5 L310.65 560.5 L311.32 560.5 L312 560.5 L312.68 560.5 L313.35 560.5 L314.03 560.5 L314.71 560.5 L314.84 556.18 L314.98 552.23 L315.11 548.63 L315.25 545.34 L315.38 542.33 L315.52 539.58 L315.65 537.06 L315.79 534.76 L315.92 532.64 L316.06 530.69 L316.19 528.9 L316.33 527.26 L316.47 525.74 L316.6 524.34 L316.74 523.05 L316.87 521.85 L317.01 520.74 L317.14 519.71 L317.28 518.75 L317.41 517.86 L317.55 517.03 L317.68 516.25 L317.82 515.53 L317.95 514.85 L318.09 514.21 L318.22 513.61 L318.36 513.04 L318.49 512.5 L318.63 511.99 L318.77 511.51 L318.9 511.06 L319.04 510.62 L319.17 510.21 L319.31 509.81 L319.44 509.43 L319.58 509.07 L319.71 508.72 L319.85 508.38 L319.98 508.06 L320.12 507.75 L320.25 507.45 L320.39 507.16 L320.52 506.88 L320.66 506.6 L320.8 506.34 L320.93 506.08 L321.07 505.83 L321.2 505.58 L321.34 505.35 L321.47 505.11 L321.61 504.89 L321.74 504.66 L321.88 504.45 L322.01 504.23 L322.15 504.02 L322.28 503.82 L322.42 503.62 L322.55 503.42 L322.69 503.23 L322.82 503.04 L323.5 502.14 L324.18 501.3 L324.85 500.53 L325.53 499.8 L326.21 499.12 L326.88 498.48 L327.56 497.88 L328.24 497.32 L328.91 496.78 L329.59 496.27 L330.27 495.8 L330.94 495.34 L331.62 494.91 L332.3 494.5 L332.97 494.12 L333.65 493.75 L334.32 493.39 L335 493.06 L335.68 492.74 L336.35 492.43 L337.03 492.14 L337.71 491.86 L338.38 491.59 L339.06 491.33 L339.74 491.08 L340.41 490.84 L341.09 490.61 L341.77 490.38 L342.44 490.17 L343.12 489.96 L343.8 489.75 L344.47 489.56 L345.15 489.36 L345.83 489.18 L346.5 489 L347.18 488.82 L347.86 488.65 L348.53 488.48 L349.21 488.32 L349.88 488.16 L350.56 488 L351.24 487.85 L351.91 487.7 L352.59 487.55 L353.27 487.4 L353.94 487.26 L354.62 487.12 L355.3 486.98 L355.97 486.84 L356.65 486.71 L357.33 486.58 L358 486.45 L358.68 486.32 L359.36 486.19 L360.03 486.07 L360.71 485.94 L361.38 485.82 L362.06 485.7 L362.74 485.58 L363.41 485.46 L364.09 485.34 L364.77 485.22 L365.44 485.11 L366.12 484.99 L366.8 484.88 L367.47 484.77 L368.15 484.66 L368.83 484.54 L369.5 484.43 L370.18 484.33 L370.86 484.22 L371.53 484.11 L372.21 484 L372.89 483.9 L373.56 483.79 L374.24 483.69 L374.92 483.58 L375.59 483.48 L376.27 483.38 L376.4 484.88 L376.54 486.31 L376.67 487.68 L376.81 488.98 L376.94 490.22 L377.08 491.41 L377.22 492.55 L377.35 493.63 L377.49 494.67 L377.62 495.66 L377.76 496.61 L377.89 497.52 L378.03 498.39 L378.16 499.23 L378.3 500.03 L378.43 500.8 L378.57 501.53 L378.7 502.24 L378.84 502.92 L378.97 503.58 L379.11 504.21 L379.24 504.82 L379.38 505.4 L379.52 505.97 L379.65 506.51 L379.79 507.04 L379.92 507.55 L380.06 508.04 L380.19 508.51 L380.33 508.97 L380.46 509.41 L380.6 509.84 L380.73 510.26 L380.87 510.66 L381 511.05 L381.14 511.43 L381.27 511.8 L381.41 512.16 L381.54 512.5 L381.68 512.84 L381.82 513.17 L381.95 513.49 L382.09 513.8 L382.22 514.11 L382.36 514.4 L382.49 514.69 L382.63 514.97 L382.76 515.25 L382.9 515.52 L383.03 515.78 L383.17 516.04 L383.3 516.29 L383.44 516.53 L383.57 516.77 L383.71 517.01 L383.84 517.24 L383.98 517.46 L384.12 517.68 L384.25 517.9 L384.39 518.11 L385.06 519.12 L385.74 520.03 L386.42 520.87 L387.09 521.65 L387.77 522.38 L388.44 523.05 L389.12 523.68 L389.8 524.28 L390.47 524.83 L391.15 525.35 L391.83 525.85 L392.5 526.32 L393.18 526.76 L393.86 527.18 L394.53 527.57 L395.21 527.95 L395.89 528.31 L396.56 528.65 L397.24 528.98 L397.92 529.29 L398.59 529.59 L399.27 529.87 L399.95 530.14 L400.62 530.4 L401.3 530.66 L401.98 530.9 L402.65 531.13 L403.33 531.35 L404 531.56 L404.68 531.77 L405.36 531.97 L406.03 532.17 L406.71 532.35 L407.39 532.54 L408.06 532.71 L408.74 532.88 L409.42 533.05 L410.09 533.21 L410.77 533.37 L411.45 533.52 L412.12 533.67 L412.8 533.82 L413.48 533.96 L414.15 534.1 L414.83 534.24 L415.5 534.38 L416.18 534.51 L416.86 534.64 L417.53 534.77 L418.21 534.89 L418.89 535.01 L419.56 535.14 L420.24 535.26 L420.92 535.37 L421.59 535.49 L422.27 535.6 L422.95 535.72 L423.62 535.83 L424.3 535.94 L424.98 536.05 L425.65 536.16 L426.33 536.26 L427.01 536.37 L427.68 536.48 L428.36 536.58 L429.03 536.68 L429.71 536.78 L430.39 536.88 L431.06 536.99 L431.74 537.08 L432.42 537.18 L433.09 537.28 L433.77 537.38 L434.45 537.47 L435.12 537.57 L435.8 537.67 L436.48 537.76" fill="none" stroke="#111" stroke-width="1.35" stroke-linejoin="round"/>
<path d="M300.5 560.5 L301.18 560.5 L301.85 560.5 L302.53 560.5 L303.21 560.5 L303.88 560.5 L304.56 560.5 L305.24 560.5 L305.91 560.5 L306.59 560.5 L307.26 560.5 L307.94 560.5 L308.62 560.5 L309.29 560.5 L309.97 560.5 L310.65 560.5 L311.32 560.5 L312 560.5 L312.68 560.5 L313.35 560.5 L314.03 560.5 L314.71 560.5 L314.84 558.2 L314.98 556.11 L315.11 554.2 L315.25 552.45 L315.38 550.85 L315.52 549.39 L315.65 548.06 L315.79 546.83 L315.92 545.71 L316.06 544.67 L316.19 543.72 L316.33 542.85 L316.47 542.04 L316.6 541.3 L316.74 540.61 L316.87 539.98 L317.01 539.39 L317.14 538.84 L317.28 538.33 L317.41 537.86 L317.55 537.42 L317.68 537.01 L317.82 536.62 L317.95 536.26 L318.09 535.92 L318.22 535.6 L318.36 535.3 L318.49 535.01 L318.63 534.74 L318.77 534.49 L318.9 534.25 L319.04 534.02 L319.17 533.8 L319.31 533.59 L319.44 533.38 L319.58 533.19 L319.71 533.01 L319.85 532.83 L319.98 532.66 L320.12 532.49 L320.25 532.33 L320.39 532.18 L320.52 532.03 L320.66 531.88 L320.8 531.74 L320.93 531.6 L321.07 531.47 L321.2 531.34 L321.34 531.21 L321.47 531.09 L321.61 530.97 L321.74 530.85 L321.88 530.74 L322.01 530.62 L322.15 530.51 L322.28 530.4 L322.42 530.3 L322.55 530.19 L322.69 530.09 L322.82 529.99 L323.5 529.51 L324.18 529.07 L324.85 528.66 L325.53 528.27 L326.21 527.91 L326.88 527.57 L327.56 527.25 L328.24 526.95 L328.91 526.67 L329.59 526.4 L330.27 526.14 L330.94 525.9 L331.62 525.67 L332.3 525.46 L332.97 525.25 L333.65 525.06 L334.32 524.87 L335 524.69 L335.68 524.52 L336.35 524.36 L337.03 524.2 L337.71 524.05 L338.38 523.91 L339.06 523.77 L339.74 523.64 L340.41 523.51 L341.09 523.39 L341.77 523.27 L342.44 523.15 L343.12 523.04 L343.8 522.94 L344.47 522.83 L345.15 522.73 L345.83 522.63 L346.5 522.53 L347.18 522.44 L347.86 522.35 L348.53 522.26 L349.21 522.17 L349.88 522.09 L350.56 522 L351.24 521.92 L351.91 521.84 L352.59 521.76 L353.27 521.69 L353.94 521.61 L354.62 521.54 L355.3 521.46 L355.97 521.39 L356.65 521.32 L357.33 521.25 L358 521.18 L358.68 521.11 L359.36 521.04 L360.03 520.98 L360.71 520.91 L361.38 520.85 L362.06 520.78 L362.74 520.72 L363.41 520.65 L364.09 520.59 L364.77 520.53 L365.44 520.47 L366.12 520.41 L366.8 520.35 L367.47 520.29 L368.15 520.23 L368.83 520.17 L369.5 520.11 L370.18 520.05 L370.86 520 L371.53 519.94 L372.21 519.88 L372.89 519.83 L373.56 519.77 L374.24 519.71 L374.92 519.66 L375.59 519.6 L376.27 519.55 L376.27 518.53 L376.4 520.35 L376.54 521.11 L376.67 521.83 L376.81 522.53 L376.94 523.19 L377.08 523.82 L377.22 524.42 L377.35 524.99 L377.49 525.54 L377.62 526.07 L377.76 526.58 L377.89 527.06 L378.03 527.52 L378.16 527.96 L378.3 528.39 L378.43 528.8 L378.57 529.19 L378.7 529.57 L378.84 529.93 L378.97 530.28 L379.11 530.61 L379.24 530.93 L379.38 531.25 L379.52 531.55 L379.65 531.83 L379.79 532.11 L379.92 532.38 L380.06 532.64 L380.19 532.89 L380.33 533.14 L380.46 533.37 L380.6 533.6 L380.73 533.82 L380.87 534.04 L381 534.24 L381.14 534.44 L381.27 534.64 L381.41 534.83 L381.54 535.02 L381.68 535.19 L381.82 535.37 L381.95 535.54 L382.09 535.71 L382.22 535.87 L382.36 536.02 L382.49 536.18 L382.63 536.33 L382.76 536.47 L382.9 536.62 L383.03 536.76 L383.17 536.89 L383.3 537.02 L383.44 537.15 L383.57 537.28 L383.71 537.41 L383.84 537.53 L383.98 537.65 L384.12 537.77 L384.25 537.88 L384.39 537.99 L385.06 538.53 L385.74 539.01 L386.42 539.46 L387.09 539.87 L387.77 540.26 L388.44 540.62 L389.12 540.95 L389.8 541.27 L390.47 541.56 L391.15 541.84 L391.83 542.1 L392.5 542.35 L393.18 542.58 L393.86 542.81 L394.53 543.02 L395.21 543.22 L395.89 543.41 L396.56 543.59 L397.24 543.76 L397.92 543.93 L398.59 544.09 L399.27 544.24 L399.95 544.38 L400.62 544.52 L401.3 544.65 L401.98 544.78 L402.65 544.9 L403.33 545.02 L404 545.14 L404.68 545.25 L405.36 545.35 L406.03 545.46 L406.71 545.56 L407.39 545.65 L408.06 545.75 L408.74 545.84 L409.42 545.92 L410.09 546.01 L410.77 546.09 L411.45 546.18 L412.12 546.26 L412.8 546.33 L413.48 546.41 L414.15 546.48 L414.83 546.56 L415.5 546.63 L416.18 546.7 L416.86 546.77 L417.53 546.84 L418.21 546.9 L418.89 546.97 L419.56 547.03 L420.24 547.1 L420.92 547.16 L421.59 547.22 L422.27 547.28 L422.95 547.34 L423.62 547.4 L424.3 547.46 L424.98 547.52 L425.65 547.57 L426.33 547.63 L427.01 547.69 L427.68 547.74 L428.36 547.8 L429.03 547.85 L429.71 547.91 L430.39 547.96 L431.06 548.01 L431.74 548.07 L432.42 548.12 L433.09 548.17 L433.77 548.22 L434.45 548.27 L435.12 548.33 L435.8 548.38 L436.48 548.43" fill="none" stroke="#111" stroke-width="1.35" stroke-linejoin="round"/>
<path d="M300.5 560.5 L301.18 560.5 L301.85 560.5 L302.53 560.5 L303.21 560.5 L303.88 560.5 L304.56 560.5 L305.24 560.5 L305.91 560.5 L306.59 560.5 L307.26 560.5 L307.94 560.5 L308.62 560.5 L309.29 560.5 L309.97 560.5 L310.65 560.5 L311.32 560.5 L312 560.5 L312.68 560.5 L313.35 560.5 L314.03 560.5 L314.71 560.5 L314.84 559.2 L314.98 558.01 L315.11 556.93 L315.25 555.94 L315.38 555.03 L315.52 554.21 L315.65 553.45 L315.79 552.75 L315.92 552.12 L316.06 551.53 L316.19 550.99 L316.33 550.5 L316.47 550.04 L316.6 549.62 L316.74 549.23 L316.87 548.87 L317.01 548.54 L317.14 548.23 L317.28 547.94 L317.41 547.67 L317.55 547.42 L317.68 547.19 L317.82 546.97 L317.95 546.76 L318.09 546.57 L318.22 546.39 L318.36 546.22 L318.49 546.06 L318.63 545.91 L318.77 545.76 L318.9 545.62 L319.04 545.49 L319.17 545.37 L319.31 545.25 L319.44 545.13 L319.58 545.03 L319.71 544.92 L319.85 544.82 L319.98 544.72 L320.12 544.63 L320.25 544.54 L320.39 544.45 L320.52 544.37 L320.66 544.28 L320.8 544.2 L320.93 544.13 L321.07 544.05 L321.2 543.98 L321.34 543.9 L321.47 543.83 L321.61 543.77 L321.74 543.7 L321.88 543.63 L322.01 543.57 L322.15 543.51 L322.28 543.45 L322.42 543.39 L322.55 543.33 L322.69 543.27 L322.82 543.21 L323.5 542.94 L324.18 542.69 L324.85 542.45 L325.53 542.24 L326.21 542.03 L326.88 541.84 L327.56 541.66 L328.24 541.49 L328.91 541.33 L329.59 541.18 L330.27 541.03 L330.94 540.9 L331.62 540.77 L332.3 540.64 L332.97 540.53 L333.65 540.41 L334.32 540.31 L335 540.21 L335.68 540.11 L336.35 540.02 L337.03 539.93 L337.71 539.85 L338.38 539.77 L339.06 539.69 L339.74 539.61 L340.41 539.54 L341.09 539.47 L341.77 539.4 L342.44 539.34 L343.12 539.27 L343.8 539.21 L344.47 539.15 L345.15 539.1 L345.83 539.04 L346.5 538.99 L347.18 538.93 L347.86 538.88 L348.53 538.83 L349.21 538.78 L349.88 538.73 L350.56 538.69 L351.24 538.64 L351.91 538.59 L352.59 538.55 L353.27 538.51 L353.94 538.46 L354.62 538.42 L355.3 538.38 L355.97 538.34 L356.65 538.3 L357.33 538.26 L358 538.22 L358.68 538.18 L359.36 538.14 L360.03 538.1 L360.71 538.07 L361.38 538.03 L362.06 537.99 L362.74 537.96 L363.41 537.92 L364.09 537.89 L364.77 537.85 L365.44 537.82 L366.12 537.78 L366.8 537.75 L367.47 537.71 L368.15 537.68 L368.83 537.65 L369.5 537.61 L370.18 537.58 L370.86 537.55 L371.53 537.52 L372.21 537.48 L372.89 537.45 L373.56 537.42 L374.24 537.39 L374.92 537.36 L375.59 537.33 L376.27 537.29 L376.4 537.75 L376.54 538.18 L376.67 538.59 L376.81 538.98 L376.94 539.36 L377.08 539.71 L377.22 540.05 L377.35 540.38 L377.49 540.69 L377.62 540.99 L377.76 541.28 L377.89 541.55 L378.03 541.81 L378.16 542.06 L378.3 542.3 L378.43 542.54 L378.57 542.76 L378.7 542.97 L378.84 543.18 L378.97 543.37 L379.11 543.56 L379.24 543.75 L379.38 543.92 L379.52 544.09 L379.65 544.26 L379.79 544.41 L379.92 544.57 L380.06 544.71 L380.19 544.86 L380.33 544.99 L380.46 545.13 L380.6 545.26 L380.73 545.38 L380.87 545.5 L381 545.62 L381.14 545.74 L381.27 545.85 L381.41 545.95 L381.54 546.06 L381.68 546.16 L381.82 546.26 L381.95 546.36 L382.09 546.45 L382.22 546.54 L382.36 546.63 L382.49 546.72 L382.63 546.8 L382.76 546.88 L382.9 546.97 L383.03 547.04 L383.17 547.12 L383.3 547.2 L383.44 547.27 L383.57 547.34 L383.71 547.41 L383.84 547.48 L383.98 547.55 L384.12 547.62 L384.25 547.68 L384.39 547.75 L385.06 548.05 L385.74 548.32 L386.42 548.58 L387.09 548.81 L387.77 549.03 L388.44 549.23 L389.12 549.42 L389.8 549.6 L390.47 549.77 L391.15 549.93 L391.83 550.07 L392.5 550.21 L393.18 550.35 L393.86 550.47 L394.53 550.59 L395.21 550.71 L395.89 550.81 L396.56 550.92 L397.24 551.02 L397.92 551.11 L398.59 551.2 L399.27 551.28 L399.95 551.37 L400.62 551.44 L401.3 551.52 L401.98 551.59 L402.65 551.66 L403.33 551.73 L404 551.79 L404.68 551.86 L405.36 551.92 L406.03 551.97 L406.71 552.03 L407.39 552.09 L408.06 552.14 L408.74 552.19 L409.42 552.24 L410.09 552.29 L410.77 552.34 L411.45 552.38 L412.12 552.43 L412.8 552.47 L413.48 552.52 L414.15 552.56 L414.83 552.6 L415.5 552.64 L416.18 552.68 L416.86 552.72 L417.53 552.76 L418.21 552.79 L418.89 552.83 L419.56 552.87 L420.24 552.9 L420.92 552.94 L421.59 552.97 L422.27 553.01 L422.95 553.04 L423.62 553.08 L424.3 553.11 L424.98 553.14 L425.65 553.18 L426.33 553.21 L427.01 553.24 L427.68 553.27 L428.36 553.3 L429.03 553.33 L429.71 553.36 L430.39 553.39 L431.06 553.42 L431.74 553.45 L432.42 553.48 L433.09 553.51 L433.77 553.54 L434.45 553.57 L435.12 553.6 L435.8 553.63 L436.48 553.66" fill="none" stroke="#111" stroke-width="1.35" stroke-linejoin="round"/>
<path d="M300.5 560.5 L301.18 560.5 L301.85 560.5 L302.53 560.5 L303.21 560.5 L303.88 560.5 L304.56 560.5 L305.24 560.5 L305.91 560.5 L306.59 560.5 L307.26 560.5 L307.94 560.5 L308.62 560.5 L309.29 560.5 L309.97 560.5 L310.65 560.5 L311.32 560.5 L312 560.5 L312.68 560.5 L313.35 560.5 L314.03 560.5 L314.71 560.5 L314.84 559.83 L314.98 559.21 L315.11 558.64 L315.25 558.11 L315.38 557.63 L315.52 557.17 L315.65 556.75 L315.79 556.36 L315.92 556 L316.06 555.66 L316.19 555.35 L316.33 555.06 L316.47 554.78 L316.6 554.53 L316.74 554.3 L316.87 554.07 L317.01 553.87 L317.14 553.68 L317.28 553.5 L317.41 553.33 L317.55 553.17 L317.68 553.02 L317.82 552.88 L317.95 552.75 L318.09 552.62 L318.22 552.5 L318.36 552.39 L318.49 552.29 L318.63 552.19 L318.77 552.09 L318.9 552 L319.04 551.92 L319.17 551.84 L319.31 551.76 L319.44 551.68 L319.58 551.61 L319.71 551.54 L319.85 551.48 L319.98 551.42 L320.12 551.35 L320.25 551.3 L320.39 551.24 L320.52 551.19 L320.66 551.13 L320.8 551.08 L320.93 551.03 L321.07 550.99 L321.2 550.94 L321.34 550.89 L321.47 550.85 L321.61 550.81 L321.74 550.77 L321.88 550.73 L322.01 550.69 L322.15 550.65 L322.28 550.61 L322.42 550.57 L322.55 550.54 L322.69 550.5 L322.82 550.47 L323.5 550.3 L324.18 550.15 L324.85 550.01 L325.53 549.88 L326.21 549.76 L326.88 549.64 L327.56 549.53 L328.24 549.43 L328.91 549.33 L329.59 549.23 L330.27 549.15 L330.94 549.06 L331.62 548.98 L332.3 548.9 L332.97 548.83 L333.65 548.76 L334.32 548.69 L335 548.63 L335.68 548.57 L336.35 548.51 L337.03 548.45 L337.71 548.4 L338.38 548.35 L339.06 548.3 L339.74 548.25 L340.41 548.2 L341.09 548.16 L341.77 548.12 L342.44 548.07 L343.12 548.03 L343.8 548 L344.47 547.96 L345.15 547.92 L345.83 547.89 L346.5 547.85 L347.18 547.82 L347.86 547.79 L348.53 547.75 L349.21 547.72 L349.88 547.69 L350.56 547.66 L351.24 547.64 L351.91 547.61 L352.59 547.58 L353.27 547.55 L353.94 547.53 L354.62 547.5 L355.3 547.48 L355.97 547.45 L356.65 547.43 L357.33 547.4 L358 547.38 L358.68 547.36 L359.36 547.34 L360.03 547.31 L360.71 547.29 L361.38 547.27 L362.06 547.25 L362.74 547.23 L363.41 547.21 L364.09 547.19 L364.77 547.17 L365.44 547.15 L366.12 547.13 L366.8 547.11 L367.47 547.09 L368.15 547.07 L368.83 547.05 L369.5 547.03 L370.18 547.01 L370.86 546.99 L371.53 546.97 L372.21 546.96 L372.89 546.94 L373.56 546.92 L374.24 546.9 L374.92 546.88 L375.59 546.87 L376.27 546.85 L376.4 547.07 L376.54 547.28 L376.67 547.48 L376.81 547.68 L376.94 547.86 L377.08 548.04 L377.22 548.21 L377.35 548.37 L377.49 548.52 L377.62 548.67 L377.76 548.81 L377.89 548.95 L378.03 549.08 L378.16 549.21 L378.3 549.33 L378.43 549.44 L378.57 549.56 L378.7 549.66 L378.84 549.77 L378.97 549.87 L379.11 549.96 L379.24 550.06 L379.38 550.14 L379.52 550.23 L379.65 550.32 L379.79 550.4 L379.92 550.47 L380.06 550.55 L380.19 550.62 L380.33 550.69 L380.46 550.76 L380.6 550.83 L380.73 550.9 L380.87 550.96 L381 551.02 L381.14 551.08 L381.27 551.14 L381.41 551.19 L381.54 551.25 L381.68 551.3 L381.82 551.36 L381.95 551.41 L382.09 551.46 L382.22 551.5 L382.36 551.55 L382.49 551.6 L382.63 551.64 L382.76 551.69 L382.9 551.73 L383.03 551.77 L383.17 551.81 L383.3 551.86 L383.44 551.89 L383.57 551.93 L383.71 551.97 L383.84 552.01 L383.98 552.05 L384.12 552.08 L384.25 552.12 L384.39 552.15 L385.06 552.32 L385.74 552.47 L386.42 552.61 L387.09 552.74 L387.77 552.86 L388.44 552.98 L389.12 553.08 L389.8 553.18 L390.47 553.28 L391.15 553.37 L391.83 553.45 L392.5 553.53 L393.18 553.61 L393.86 553.68 L394.53 553.75 L395.21 553.82 L395.89 553.88 L396.56 553.94 L397.24 554 L397.92 554.06 L398.59 554.11 L399.27 554.16 L399.95 554.21 L400.62 554.26 L401.3 554.31 L401.98 554.35 L402.65 554.39 L403.33 554.44 L404 554.48 L404.68 554.51 L405.36 554.55 L406.03 554.59 L406.71 554.62 L407.39 554.66 L408.06 554.69 L408.74 554.73 L409.42 554.76 L410.09 554.79 L410.77 554.82 L411.45 554.85 L412.12 554.88 L412.8 554.91 L413.48 554.94 L414.15 554.96 L414.83 554.99 L415.5 555.02 L416.18 555.04 L416.86 555.07 L417.53 555.1 L418.21 555.12 L418.89 555.15 L419.56 555.17 L420.24 555.19 L420.92 555.22 L421.59 555.24 L422.27 555.27 L422.95 555.29 L423.62 555.31 L424.3 555.33 L424.98 555.36 L425.65 555.38 L426.33 555.4 L427.01 555.42 L427.68 555.44 L428.36 555.47 L429.03 555.49 L429.71 555.51 L430.39 555.53 L431.06 555.55 L431.74 555.57 L432.42 555.59 L433.09 555.61 L433.77 555.63 L434.45 555.65 L435.12 555.67 L435.8 555.69 L436.48 555.71" fill="none" stroke="#111" stroke-width="1.6" stroke-linejoin="round"/>
<path d="M300.5 560.5 L301.18 560.5 L301.85 560.5 L302.53 560.5 L303.21 560.5 L303.88 560.5 L304.56 560.5 L305.24 560.5 L305.91 560.5 L306.59 560.5 L307.26 560.5 L307.94 560.5 L308.62 560.5 L309.29 560.5 L309.97 560.5 L310.65 560.5 L311.32 560.5 L312 560.5 L312.68 560.5 L313.35 560.5 L314.03 560.5 L314.71 560.5 L314.84 560.1 L314.98 559.73 L315.11 559.39 L315.25 559.07 L315.38 558.78 L315.52 558.5 L315.65 558.25 L315.79 558.02 L315.92 557.8 L316.06 557.6 L316.19 557.41 L316.33 557.23 L316.47 557.07 L316.6 556.92 L316.74 556.78 L316.87 556.64 L317.01 556.52 L317.14 556.41 L317.28 556.3 L317.41 556.2 L317.55 556.1 L317.68 556.01 L317.82 555.93 L317.95 555.85 L318.09 555.77 L318.22 555.7 L318.36 555.64 L318.49 555.57 L318.63 555.51 L318.77 555.46 L318.9 555.4 L319.04 555.35 L319.17 555.3 L319.31 555.25 L319.44 555.21 L319.58 555.17 L319.71 555.13 L319.85 555.09 L319.98 555.05 L320.12 555.01 L320.25 554.98 L320.39 554.94 L320.52 554.91 L320.66 554.88 L320.8 554.85 L320.93 554.82 L321.07 554.79 L321.2 554.76 L321.34 554.74 L321.47 554.71 L321.61 554.68 L321.74 554.66 L321.88 554.64 L322.01 554.61 L322.15 554.59 L322.28 554.57 L322.42 554.54 L322.55 554.52 L322.69 554.5 L322.82 554.48 L323.5 554.38 L324.18 554.29 L324.85 554.21 L325.53 554.13 L326.21 554.05 L326.88 553.98 L327.56 553.92 L328.24 553.86 L328.91 553.8 L329.59 553.74 L330.27 553.69 L330.94 553.64 L331.62 553.59 L332.3 553.54 L332.97 553.5 L333.65 553.46 L334.32 553.42 L335 553.38 L335.68 553.34 L336.35 553.31 L337.03 553.27 L337.71 553.24 L338.38 553.21 L339.06 553.18 L339.74 553.15 L340.41 553.12 L341.09 553.1 L341.77 553.07 L342.44 553.04 L343.12 553.02 L343.8 553 L344.47 552.97 L345.15 552.95 L345.83 552.93 L346.5 552.91 L347.18 552.89 L347.86 552.87 L348.53 552.85 L349.21 552.83 L349.88 552.82 L350.56 552.8 L351.24 552.78 L351.91 552.76 L352.59 552.75 L353.27 552.73 L353.94 552.72 L354.62 552.7 L355.3 552.69 L355.97 552.67 L356.65 552.66 L357.33 552.64 L358 552.63 L358.68 552.62 L359.36 552.6 L360.03 552.59 L360.71 552.57 L361.38 552.56 L362.06 552.55 L362.74 552.54 L363.41 552.52 L364.09 552.51 L364.77 552.5 L365.44 552.49 L366.12 552.48 L366.8 552.46 L367.47 552.45 L368.15 552.44 L368.83 552.43 L369.5 552.42 L370.18 552.41 L370.86 552.4 L371.53 552.38 L372.21 552.37 L372.89 552.36 L373.56 552.35 L374.24 552.34 L374.92 552.33 L375.59 552.32 L376.27 552.31 L376.4 552.44 L376.54 552.57 L376.67 552.69 L376.81 552.81 L376.94 552.92 L377.08 553.02 L377.22 553.12 L377.35 553.22 L377.49 553.31 L377.62 553.4 L377.76 553.49 L377.89 553.57 L378.03 553.65 L378.16 553.72 L378.3 553.8 L378.43 553.87 L378.57 553.93 L378.7 554 L378.84 554.06 L378.97 554.12 L379.11 554.18 L379.24 554.23 L379.38 554.29 L379.52 554.34 L379.65 554.39 L379.79 554.44 L379.92 554.48 L380.06 554.53 L380.19 554.57 L380.33 554.62 L380.46 554.66 L380.6 554.7 L380.73 554.74 L380.87 554.78 L381 554.81 L381.14 554.85 L381.27 554.88 L381.41 554.92 L381.54 554.95 L381.68 554.98 L381.82 555.01 L381.95 555.04 L382.09 555.07 L382.22 555.1 L382.36 555.13 L382.49 555.16 L382.63 555.19 L382.76 555.21 L382.9 555.24 L383.03 555.26 L383.17 555.29 L383.3 555.31 L383.44 555.34 L383.57 555.36 L383.71 555.38 L383.84 555.41 L383.98 555.43 L384.12 555.45 L384.25 555.47 L384.39 555.49 L385.06 555.59 L385.74 555.68 L386.42 555.77 L387.09 555.84 L387.77 555.92 L388.44 555.99 L389.12 556.05 L389.8 556.11 L390.47 556.17 L391.15 556.22 L391.83 556.27 L392.5 556.32 L393.18 556.37 L393.86 556.41 L394.53 556.45 L395.21 556.49 L395.89 556.53 L396.56 556.57 L397.24 556.6 L397.92 556.64 L398.59 556.67 L399.27 556.7 L399.95 556.73 L400.62 556.76 L401.3 556.78 L401.98 556.81 L402.65 556.84 L403.33 556.86 L404 556.89 L404.68 556.91 L405.36 556.93 L406.03 556.95 L406.71 556.97 L407.39 557 L408.06 557.02 L408.74 557.04 L409.42 557.05 L410.09 557.07 L410.77 557.09 L411.45 557.11 L412.12 557.13 L412.8 557.14 L413.48 557.16 L414.15 557.18 L414.83 557.19 L415.5 557.21 L416.18 557.23 L416.86 557.24 L417.53 557.26 L418.21 557.27 L418.89 557.29 L419.56 557.3 L420.24 557.32 L420.92 557.33 L421.59 557.35 L422.27 557.36 L422.95 557.37 L423.62 557.39 L424.3 557.4 L424.98 557.41 L425.65 557.43 L426.33 557.44 L427.01 557.45 L427.68 557.47 L428.36 557.48 L429.03 557.49 L429.71 557.5 L430.39 557.52 L431.06 557.53 L431.74 557.54 L432.42 557.55 L433.09 557.57 L433.77 557.58 L434.45 557.59 L435.12 557.6 L435.8 557.61 L436.48 557.63" fill="none" stroke="#111" stroke-width="1.7" stroke-linejoin="round"/>
<path d="M300.5 560.5 L301.18 560.5 L301.85 560.5 L302.53 560.5 L303.21 560.5 L303.88 560.5 L304.56 560.5 L305.24 560.5 L305.91 560.5 L306.59 560.5 L307.26 560.5 L307.94 560.5 L308.62 560.5 L309.29 560.5 L309.97 560.5 L310.65 560.5 L311.32 560.5 L312 560.5 L312.68 560.5 L313.35 560.5 L314.03 560.5 L314.71 560.5 L314.84 560.25 L314.98 560.02 L315.11 559.8 L315.25 559.61 L315.38 559.42 L315.52 559.25 L315.65 559.09 L315.79 558.95 L315.92 558.81 L316.06 558.69 L316.19 558.57 L316.33 558.46 L316.47 558.36 L316.6 558.26 L316.74 558.17 L316.87 558.09 L317.01 558.01 L317.14 557.94 L317.28 557.87 L317.41 557.81 L317.55 557.75 L317.68 557.69 L317.82 557.64 L317.95 557.59 L318.09 557.55 L318.22 557.5 L318.36 557.46 L318.49 557.42 L318.63 557.38 L318.77 557.35 L318.9 557.31 L319.04 557.28 L319.17 557.25 L319.31 557.22 L319.44 557.19 L319.58 557.17 L319.71 557.14 L319.85 557.12 L319.98 557.09 L320.12 557.07 L320.25 557.05 L320.39 557.03 L320.52 557.01 L320.66 556.99 L320.8 556.97 L320.93 556.95 L321.07 556.93 L321.2 556.91 L321.34 556.9 L321.47 556.88 L321.61 556.87 L321.74 556.85 L321.88 556.83 L322.01 556.82 L322.15 556.81 L322.28 556.79 L322.42 556.78 L322.55 556.76 L322.69 556.75 L322.82 556.74 L323.5 556.68 L324.18 556.62 L324.85 556.57 L325.53 556.52 L326.21 556.47 L326.88 556.43 L327.56 556.39 L328.24 556.35 L328.91 556.31 L329.59 556.28 L330.27 556.24 L330.94 556.21 L331.62 556.18 L332.3 556.15 L332.97 556.12 L333.65 556.1 L334.32 556.07 L335 556.05 L335.68 556.03 L336.35 556 L337.03 555.98 L337.71 555.96 L338.38 555.94 L339.06 555.92 L339.74 555.91 L340.41 555.89 L341.09 555.87 L341.77 555.86 L342.44 555.84 L343.12 555.83 L343.8 555.81 L344.47 555.8 L345.15 555.78 L345.83 555.77 L346.5 555.76 L347.18 555.74 L347.86 555.73 L348.53 555.72 L349.21 555.71 L349.88 555.7 L350.56 555.69 L351.24 555.68 L351.91 555.67 L352.59 555.66 L353.27 555.65 L353.94 555.64 L354.62 555.63 L355.3 555.62 L355.97 555.61 L356.65 555.6 L357.33 555.59 L358 555.58 L358.68 555.57 L359.36 555.56 L360.03 555.56 L360.71 555.55 L361.38 555.54 L362.06 555.53 L362.74 555.52 L363.41 555.52 L364.09 555.51 L364.77 555.5 L365.44 555.49 L366.12 555.48 L366.8 555.48 L367.47 555.47 L368.15 555.46 L368.83 555.46 L369.5 555.45 L370.18 555.44 L370.86 555.43 L371.53 555.43 L372.21 555.42 L372.89 555.41 L373.56 555.41 L374.24 555.4 L374.92 555.39 L375.59 555.39 L376.27 555.38 L376.4 555.46 L376.54 555.54 L376.67 555.62 L376.81 555.69 L376.94 555.76 L377.08 555.83 L377.22 555.89 L377.35 555.95 L377.49 556.01 L377.62 556.06 L377.76 556.12 L377.89 556.17 L378.03 556.22 L378.16 556.26 L378.3 556.31 L378.43 556.35 L378.57 556.4 L378.7 556.44 L378.84 556.47 L378.97 556.51 L379.11 556.55 L379.24 556.58 L379.38 556.62 L379.52 556.65 L379.65 556.68 L379.79 556.71 L379.92 556.74 L380.06 556.77 L380.19 556.8 L380.33 556.82 L380.46 556.85 L380.6 556.87 L380.73 556.9 L380.87 556.92 L381 556.95 L381.14 556.97 L381.27 556.99 L381.41 557.01 L381.54 557.03 L381.68 557.05 L381.82 557.07 L381.95 557.09 L382.09 557.11 L382.22 557.13 L382.36 557.14 L382.49 557.16 L382.63 557.18 L382.76 557.2 L382.9 557.21 L383.03 557.23 L383.17 557.24 L383.3 557.26 L383.44 557.27 L383.57 557.29 L383.71 557.3 L383.84 557.32 L383.98 557.33 L384.12 557.34 L384.25 557.36 L384.39 557.37 L385.06 557.43 L385.74 557.49 L386.42 557.54 L387.09 557.59 L387.77 557.64 L388.44 557.68 L389.12 557.72 L389.8 557.76 L390.47 557.79 L391.15 557.83 L391.83 557.86 L392.5 557.89 L393.18 557.92 L393.86 557.94 L394.53 557.97 L395.21 558 L395.89 558.02 L396.56 558.04 L397.24 558.06 L397.92 558.08 L398.59 558.1 L399.27 558.12 L399.95 558.14 L400.62 558.16 L401.3 558.18 L401.98 558.19 L402.65 558.21 L403.33 558.23 L404 558.24 L404.68 558.26 L405.36 558.27 L406.03 558.28 L406.71 558.3 L407.39 558.31 L408.06 558.32 L408.74 558.33 L409.42 558.35 L410.09 558.36 L410.77 558.37 L411.45 558.38 L412.12 558.39 L412.8 558.4 L413.48 558.41 L414.15 558.42 L414.83 558.43 L415.5 558.44 L416.18 558.45 L416.86 558.46 L417.53 558.47 L418.21 558.48 L418.89 558.49 L419.56 558.5 L420.24 558.51 L420.92 558.52 L421.59 558.53 L422.27 558.54 L422.95 558.55 L423.62 558.55 L424.3 558.56 L424.98 558.57 L425.65 558.58 L426.33 558.59 L427.01 558.6 L427.68 558.6 L428.36 558.61 L429.03 558.62 L429.71 558.63 L430.39 558.64 L431.06 558.64 L431.74 558.65 L432.42 558.66 L433.09 558.67 L433.77 558.67 L434.45 558.68 L435.12 558.69 L435.8 558.7 L436.48 558.7" fill="none" stroke="#111" stroke-width="1.7" stroke-linejoin="round"/>
<path d="M300.5 560.5 L301.18 560.5 L301.85 560.5 L302.53 560.5 L303.21 560.5 L303.88 560.5 L304.56 560.5 L305.24 560.5 L305.91 560.5 L306.59 560.5 L307.26 560.5 L307.94 560.5 L308.62 560.5 L309.29 560.5 L309.97 560.5 L310.65 560.5 L311.32 560.5 L312 560.5 L312.68 560.5 L313.35 560.5 L314.03 560.5 L314.71 560.5 L314.84 560.35 L314.98 560.21 L315.11 560.08 L315.25 559.96 L315.38 559.85 L315.52 559.75 L315.65 559.66 L315.79 559.57 L315.92 559.49 L316.06 559.41 L316.19 559.34 L316.33 559.27 L316.47 559.21 L316.6 559.16 L316.74 559.1 L316.87 559.05 L317.01 559.01 L317.14 558.96 L317.28 558.92 L317.41 558.89 L317.55 558.85 L317.68 558.82 L317.82 558.79 L317.95 558.76 L318.09 558.73 L318.22 558.7 L318.36 558.68 L318.49 558.65 L318.63 558.63 L318.77 558.61 L318.9 558.59 L319.04 558.57 L319.17 558.55 L319.31 558.53 L319.44 558.52 L319.58 558.5 L319.71 558.48 L319.85 558.47 L319.98 558.46 L320.12 558.44 L320.25 558.43 L320.39 558.42 L320.52 558.4 L320.66 558.39 L320.8 558.38 L320.93 558.37 L321.07 558.36 L321.2 558.35 L321.34 558.34 L321.47 558.33 L321.61 558.32 L321.74 558.31 L321.88 558.3 L322.01 558.29 L322.15 558.28 L322.28 558.27 L322.42 558.27 L322.55 558.26 L322.69 558.25 L322.82 558.24 L323.5 558.21 L324.18 558.17 L324.85 558.14 L325.53 558.11 L326.21 558.08 L326.88 558.06 L327.56 558.03 L328.24 558.01 L328.91 557.99 L329.59 557.97 L330.27 557.95 L330.94 557.93 L331.62 557.91 L332.3 557.89 L332.97 557.87 L333.65 557.86 L334.32 557.84 L335 557.83 L335.68 557.82 L336.35 557.8 L337.03 557.79 L337.71 557.78 L338.38 557.77 L339.06 557.75 L339.74 557.74 L340.41 557.73 L341.09 557.72 L341.77 557.71 L342.44 557.7 L343.12 557.7 L343.8 557.69 L344.47 557.68 L345.15 557.67 L345.83 557.66 L346.5 557.65 L347.18 557.65 L347.86 557.64 L348.53 557.63 L349.21 557.63 L349.88 557.62 L350.56 557.61 L351.24 557.61 L351.91 557.6 L352.59 557.59 L353.27 557.59 L353.94 557.58 L354.62 557.58 L355.3 557.57 L355.97 557.56 L356.65 557.56 L357.33 557.55 L358 557.55 L358.68 557.54 L359.36 557.54 L360.03 557.53 L360.71 557.53 L361.38 557.52 L362.06 557.52 L362.74 557.51 L363.41 557.51 L364.09 557.5 L364.77 557.5 L365.44 557.5 L366.12 557.49 L366.8 557.49 L367.47 557.48 L368.15 557.48 L368.83 557.47 L369.5 557.47 L370.18 557.47 L370.86 557.46 L371.53 557.46 L372.21 557.45 L372.89 557.45 L373.56 557.44 L374.24 557.44 L374.92 557.44 L375.59 557.43 L376.27 557.43 L376.4 557.48 L376.54 557.53 L376.67 557.57 L376.81 557.61 L376.94 557.66 L377.08 557.7 L377.22 557.73 L377.35 557.77 L377.49 557.81 L377.62 557.84 L377.76 557.87 L377.89 557.9 L378.03 557.93 L378.16 557.96 L378.3 557.99 L378.43 558.01 L378.57 558.04 L378.7 558.06 L378.84 558.08 L378.97 558.11 L379.11 558.13 L379.24 558.15 L379.38 558.17 L379.52 558.19 L379.65 558.21 L379.79 558.23 L379.92 558.24 L380.06 558.26 L380.19 558.28 L380.33 558.29 L380.46 558.31 L380.6 558.32 L380.73 558.34 L380.87 558.35 L381 558.37 L381.14 558.38 L381.27 558.39 L381.41 558.41 L381.54 558.42 L381.68 558.43 L381.82 558.44 L381.95 558.45 L382.09 558.47 L382.22 558.48 L382.36 558.49 L382.49 558.5 L382.63 558.51 L382.76 558.52 L382.9 558.53 L383.03 558.54 L383.17 558.55 L383.3 558.55 L383.44 558.56 L383.57 558.57 L383.71 558.58 L383.84 558.59 L383.98 558.6 L384.12 558.61 L384.25 558.61 L384.39 558.62 L385.06 558.66 L385.74 558.69 L386.42 558.72 L387.09 558.75 L387.77 558.78 L388.44 558.81 L389.12 558.83 L389.8 558.85 L390.47 558.88 L391.15 558.9 L391.83 558.91 L392.5 558.93 L393.18 558.95 L393.86 558.97 L394.53 558.98 L395.21 559 L395.89 559.01 L396.56 559.03 L397.24 559.04 L397.92 559.05 L398.59 559.06 L399.27 559.07 L399.95 559.09 L400.62 559.1 L401.3 559.11 L401.98 559.12 L402.65 559.13 L403.33 559.14 L404 559.14 L404.68 559.15 L405.36 559.16 L406.03 559.17 L406.71 559.18 L407.39 559.19 L408.06 559.19 L408.74 559.2 L409.42 559.21 L410.09 559.21 L410.77 559.22 L411.45 559.23 L412.12 559.24 L412.8 559.24 L413.48 559.25 L414.15 559.25 L414.83 559.26 L415.5 559.27 L416.18 559.27 L416.86 559.28 L417.53 559.28 L418.21 559.29 L418.89 559.3 L419.56 559.3 L420.24 559.31 L420.92 559.31 L421.59 559.32 L422.27 559.32 L422.95 559.33 L423.62 559.33 L424.3 559.34 L424.98 559.34 L425.65 559.35 L426.33 559.35 L427.01 559.36 L427.68 559.36 L428.36 559.37 L429.03 559.37 L429.71 559.38 L430.39 559.38 L431.06 559.39 L431.74 559.39 L432.42 559.4 L433.09 559.4 L433.77 559.4 L434.45 559.41 L435.12 559.41 L435.8 559.42 L436.48 559.42" fill="none" stroke="#111" stroke-width="1.7" stroke-linejoin="round"/>
<path d="M300.5 560.5 L301.18 560.5 L301.85 560.5 L302.53 560.5 L303.21 560.5 L303.88 560.5 L304.56 560.5 L305.24 560.5 L305.91 560.5 L306.59 560.5 L307.26 560.5 L307.94 560.5 L308.62 560.5 L309.29 560.5 L309.97 560.5 L310.65 560.5 L311.32 560.5 L312 560.5 L312.68 560.5 L313.35 560.5 L314.03 560.5 L314.71 560.5 L314.84 560.46 L314.98 560.42 L315.11 560.39 L315.25 560.36 L315.38 560.33 L315.52 560.3 L315.65 560.28 L315.79 560.25 L315.92 560.23 L316.06 560.21 L316.19 560.19 L316.33 560.17 L316.47 560.16 L316.6 560.14 L316.74 560.13 L316.87 560.11 L317.01 560.1 L317.14 560.09 L317.28 560.08 L317.41 560.07 L317.55 560.06 L317.68 560.05 L317.82 560.04 L317.95 560.03 L318.09 560.03 L318.22 560.02 L318.36 560.01 L318.49 560.01 L318.63 560 L318.77 560 L318.9 559.99 L319.04 559.99 L319.17 559.98 L319.31 559.98 L319.44 559.97 L319.58 559.97 L319.71 559.96 L319.85 559.96 L319.98 559.95 L320.12 559.95 L320.25 559.95 L320.39 559.94 L320.52 559.94 L320.66 559.94 L320.8 559.93 L320.93 559.93 L321.07 559.93 L321.2 559.93 L321.34 559.92 L321.47 559.92 L321.61 559.92 L321.74 559.92 L321.88 559.91 L322.01 559.91 L322.15 559.91 L322.28 559.91 L322.42 559.9 L322.55 559.9 L322.69 559.9 L322.82 559.9 L323.5 559.89 L324.18 559.88 L324.85 559.87 L325.53 559.86 L326.21 559.86 L326.88 559.85 L327.56 559.84 L328.24 559.84 L328.91 559.83 L329.59 559.82 L330.27 559.82 L330.94 559.81 L331.62 559.81 L332.3 559.8 L332.97 559.8 L333.65 559.8 L334.32 559.79 L335 559.79 L335.68 559.78 L336.35 559.78 L337.03 559.78 L337.71 559.77 L338.38 559.77 L339.06 559.77 L339.74 559.76 L340.41 559.76 L341.09 559.76 L341.77 559.76 L342.44 559.75 L343.12 559.75 L343.8 559.75 L344.47 559.75 L345.15 559.75 L345.83 559.74 L346.5 559.74 L347.18 559.74 L347.86 559.74 L348.53 559.74 L349.21 559.73 L349.88 559.73 L350.56 559.73 L351.24 559.73 L351.91 559.73 L352.59 559.72 L353.27 559.72 L353.94 559.72 L354.62 559.72 L355.3 559.72 L355.97 559.72 L356.65 559.72 L357.33 559.71 L358 559.71 L358.68 559.71 L359.36 559.71 L360.03 559.71 L360.71 559.71 L361.38 559.71 L362.06 559.7 L362.74 559.7 L363.41 559.7 L364.09 559.7 L364.77 559.7 L365.44 559.7 L366.12 559.7 L366.8 559.7 L367.47 559.7 L368.15 559.69 L368.83 559.69 L369.5 559.69 L370.18 559.69 L370.86 559.69 L371.53 559.69 L372.21 559.69 L372.89 559.69 L373.56 559.69 L374.24 559.68 L374.92 559.68 L375.59 559.68 L376.27 559.68 L376.4 559.69 L376.54 559.71 L376.67 559.72 L376.81 559.73 L376.94 559.74 L377.08 559.75 L377.22 559.76 L377.35 559.77 L377.49 559.78 L377.62 559.79 L377.76 559.8 L377.89 559.81 L378.03 559.81 L378.16 559.82 L378.3 559.83 L378.43 559.84 L378.57 559.84 L378.7 559.85 L378.84 559.86 L378.97 559.86 L379.11 559.87 L379.24 559.87 L379.38 559.88 L379.52 559.88 L379.65 559.89 L379.79 559.89 L379.92 559.9 L380.06 559.9 L380.19 559.91 L380.33 559.91 L380.46 559.92 L380.6 559.92 L380.73 559.92 L380.87 559.93 L381 559.93 L381.14 559.93 L381.27 559.94 L381.41 559.94 L381.54 559.94 L381.68 559.95 L381.82 559.95 L381.95 559.95 L382.09 559.96 L382.22 559.96 L382.36 559.96 L382.49 559.97 L382.63 559.97 L382.76 559.97 L382.9 559.97 L383.03 559.98 L383.17 559.98 L383.3 559.98 L383.44 559.98 L383.57 559.99 L383.71 559.99 L383.84 559.99 L383.98 559.99 L384.12 559.99 L384.25 560 L384.39 560 L385.06 560.01 L385.74 560.02 L386.42 560.03 L387.09 560.03 L387.77 560.04 L388.44 560.05 L389.12 560.05 L389.8 560.06 L390.47 560.07 L391.15 560.07 L391.83 560.08 L392.5 560.08 L393.18 560.09 L393.86 560.09 L394.53 560.1 L395.21 560.1 L395.89 560.1 L396.56 560.11 L397.24 560.11 L397.92 560.11 L398.59 560.12 L399.27 560.12 L399.95 560.12 L400.62 560.13 L401.3 560.13 L401.98 560.13 L402.65 560.13 L403.33 560.14 L404 560.14 L404.68 560.14 L405.36 560.14 L406.03 560.15 L406.71 560.15 L407.39 560.15 L408.06 560.15 L408.74 560.15 L409.42 560.16 L410.09 560.16 L410.77 560.16 L411.45 560.16 L412.12 560.16 L412.8 560.16 L413.48 560.17 L414.15 560.17 L414.83 560.17 L415.5 560.17 L416.18 560.17 L416.86 560.17 L417.53 560.18 L418.21 560.18 L418.89 560.18 L419.56 560.18 L420.24 560.18 L420.92 560.18 L421.59 560.18 L422.27 560.19 L422.95 560.19 L423.62 560.19 L424.3 560.19 L424.98 560.19 L425.65 560.19 L426.33 560.19 L427.01 560.2 L427.68 560.2 L428.36 560.2 L429.03 560.2 L429.71 560.2 L430.39 560.2 L431.06 560.2 L431.74 560.2 L432.42 560.21 L433.09 560.21 L433.77 560.21 L434.45 560.21 L435.12 560.21 L435.8 560.21 L436.48 560.21" fill="none" stroke="#111" stroke-width="1.7" stroke-linejoin="round"/>
<line x1="301" y1="559.3" x2="314.57" y2="559.3" stroke="#222" stroke-width="1.8"/>
<text x="441.3" y="422" font-size="9.4" text-anchor="start" font-weight="normal" fill="#1e1e1e" stroke="#1e1e1e" stroke-width="0.25">Protein S (nM)</text>
<line x1="441.3" y1="422.4" x2="501" y2="422.4" stroke="#c8c8c8" stroke-width="0.8"/>
<line x1="443.5" y1="481.9" x2="453.7" y2="481.9" stroke="#111" stroke-width="1.3"/>
<text x="454.5" y="484.9" font-size="9.2" text-anchor="start" font-weight="normal" fill="#1e1e1e" stroke="#1e1e1e" stroke-width="0.25">4000</text>
<line x1="443.5" y1="521.5" x2="453.7" y2="521.5" stroke="#111" stroke-width="1.3"/>
<text x="454.5" y="524.5" font-size="9.2" text-anchor="start" font-weight="normal" fill="#1e1e1e" stroke="#1e1e1e" stroke-width="0.25">2000</text>
<line x1="443.5" y1="538.8" x2="453.7" y2="538.8" stroke="#111" stroke-width="1.3"/>
<text x="454.5" y="541.8" font-size="9.2" text-anchor="start" font-weight="normal" fill="#1e1e1e" stroke="#1e1e1e" stroke-width="0.25">1000</text>
<line x1="443.5" y1="551.7" x2="453.7" y2="551.7" stroke="#111" stroke-width="1.3"/>
<text x="454.5" y="554.7" font-size="9.2" text-anchor="start" font-weight="normal" fill="#1e1e1e" stroke="#1e1e1e" stroke-width="0.25">250</text>
<line x1="443.5" y1="559.4" x2="453.7" y2="559.4" stroke="#111" stroke-width="1.3"/>
<text x="454.5" y="562.4" font-size="9.2" text-anchor="start" font-weight="normal" fill="#1e1e1e" stroke="#1e1e1e" stroke-width="0.25">62.5</text>
<line x1="475.8" y1="547.9" x2="485.4" y2="547.9" stroke="#111" stroke-width="1.3"/>
<text x="486.2" y="550.9" font-size="9.2" text-anchor="start" font-weight="normal" fill="#1e1e1e" stroke="#1e1e1e" stroke-width="0.25">500</text>
<line x1="475.8" y1="555" x2="485.4" y2="555" stroke="#111" stroke-width="1.3"/>
<text x="486.2" y="558" font-size="9.2" text-anchor="start" font-weight="normal" fill="#1e1e1e" stroke="#1e1e1e" stroke-width="0.25">125</text>
<line x1="475.8" y1="561.9" x2="485.4" y2="561.9" stroke="#111" stroke-width="1.3"/>
<text x="486.2" y="564.9" font-size="9.2" text-anchor="start" font-weight="normal" fill="#1e1e1e" stroke="#1e1e1e" stroke-width="0.25">0</text>
<text transform="translate(276.9 491) rotate(-90)" font-size="10" text-anchor="middle" fill="#1e1e1e" stroke="#1e1e1e" stroke-width="0.25">RU</text>
<text x="367.4" y="584.8" font-size="10" text-anchor="middle" font-weight="normal" fill="#1e1e1e" stroke="#1e1e1e" stroke-width="0.25">Time (seconds)</text>
<text x="3.6" y="621.4" font-size="16.5" text-anchor="start" font-weight="bold" fill="#000" stroke="#000" stroke-width="0.25">G</text>
<line x1="39.6" y1="633.7" x2="39.6" y2="770.5" stroke="#b4b4b4" stroke-width="1.8"/>
<line x1="37.4" y1="634.3" x2="39.6" y2="634.3" stroke="#8a8a8a" stroke-width="1"/>
<text x="37.2" y="636.92" font-size="9.5" text-anchor="end" font-weight="normal" fill="#1e1e1e" stroke="#1e1e1e" stroke-width="0.25">200</text>
<line x1="37.4" y1="668.2" x2="39.6" y2="668.2" stroke="#8a8a8a" stroke-width="1"/>
<text x="37.2" y="670.82" font-size="9.5" text-anchor="end" font-weight="normal" fill="#1e1e1e" stroke="#1e1e1e" stroke-width="0.25">150</text>
<line x1="37.4" y1="702.1" x2="39.6" y2="702.1" stroke="#8a8a8a" stroke-width="1"/>
<text x="37.2" y="704.72" font-size="9.5" text-anchor="end" font-weight="normal" fill="#1e1e1e" stroke="#1e1e1e" stroke-width="0.25">100</text>
<line x1="37.4" y1="736" x2="39.6" y2="736" stroke="#8a8a8a" stroke-width="1"/>
<text x="37.2" y="738.62" font-size="9.5" text-anchor="end" font-weight="normal" fill="#1e1e1e" stroke="#1e1e1e" stroke-width="0.25">50</text>
<line x1="37.4" y1="769.9" x2="39.6" y2="769.9" stroke="#8a8a8a" stroke-width="1"/>
<text x="37.2" y="772.52" font-size="9.5" text-anchor="end" font-weight="normal" fill="#1e1e1e" stroke="#1e1e1e" stroke-width="0.25">0</text>
<line x1="39" y1="769.9" x2="176" y2="769.9" stroke="#b4b4b4" stroke-width="1.8"/>
<line x1="39.6" y1="769.9" x2="39.6" y2="772.1" stroke="#8a8a8a" stroke-width="1"/>
<text x="39.6" y="781.5" font-size="9.5" text-anchor="middle" font-weight="normal" fill="#1e1e1e" stroke="#1e1e1e" stroke-width="0.25">0</text>
<line x1="66.76" y1="769.9" x2="66.76" y2="772.1" stroke="#8a8a8a" stroke-width="1"/>
<text x="66.76" y="781.5" font-size="9.5" text-anchor="middle" font-weight="normal" fill="#1e1e1e" stroke="#1e1e1e" stroke-width="0.25">200</text>
<line x1="93.92" y1="769.9" x2="93.92" y2="772.1" stroke="#8a8a8a" stroke-width="1"/>
<text x="93.92" y="781.5" font-size="9.5" text-anchor="middle" font-weight="normal" fill="#1e1e1e" stroke="#1e1e1e" stroke-width="0.25">400</text>
<line x1="121.08" y1="769.9" x2="121.08" y2="772.1" stroke="#8a8a8a" stroke-width="1"/>
<text x="121.08" y="781.5" font-size="9.5" text-anchor="middle" font-weight="normal" fill="#1e1e1e" stroke="#1e1e1e" stroke-width="0.25">600</text>
<line x1="148.24" y1="769.9" x2="148.24" y2="772.1" stroke="#8a8a8a" stroke-width="1"/>
<text x="148.24" y="781.5" font-size="9.5" text-anchor="middle" font-weight="normal" fill="#1e1e1e" stroke="#1e1e1e" stroke-width="0.25">800</text>
<line x1="175.4" y1="769.9" x2="175.4" y2="772.1" stroke="#8a8a8a" stroke-width="1"/>
<text x="175.4" y="781.5" font-size="9.5" text-anchor="middle" font-weight="normal" fill="#1e1e1e" stroke="#1e1e1e" stroke-width="0.25">1000</text>
<text x="107.5" y="620.2" font-size="9.3" text-anchor="middle" font-weight="bold" fill="#000" stroke="#000" stroke-width="0.25">TFPI E226Q</text>
<path d="M53.86 763.8 L53.99 763.53 L54.13 763.27 L54.27 763.01 L54.4 762.76 L54.54 762.51 L54.67 762.27 L54.81 762.03 L54.95 761.8 L55.08 761.57 L55.22 761.35 L55.35 761.13 L55.49 760.92 L55.62 760.71 L55.76 760.51 L55.9 760.3 L56.03 760.11 L56.17 759.92 L56.3 759.73 L56.44 759.54 L56.58 759.36 L56.71 759.18 L56.85 759.01 L56.98 758.84 L57.12 758.67 L57.25 758.51 L57.39 758.35 L57.53 758.19 L57.66 758.03 L57.8 757.88 L57.93 757.73 L58.07 757.59 L58.2 757.44 L58.34 757.3 L58.48 757.17 L58.61 757.03 L58.75 756.9 L58.88 756.77 L59.02 756.64 L59.16 756.51 L59.29 756.39 L59.43 756.27 L59.56 756.15 L59.7 756.04 L59.83 755.92 L59.97 755.81 L60.11 755.7 L60.24 755.59 L60.38 755.48 L60.51 755.38 L60.65 755.28 L60.78 755.18 L60.92 755.08 L61.06 754.98 L61.19 754.88 L61.33 754.79 L61.46 754.7 L61.6 754.61 L61.74 754.52 L61.87 754.43 L62.01 754.34 L62.69 753.93 L63.37 753.56 L64.04 753.21 L64.72 752.88 L65.4 752.58 L66.08 752.31 L66.76 752.05 L67.44 751.8 L68.12 751.58 L68.8 751.36 L69.48 751.16 L70.16 750.98 L70.83 750.8 L71.51 750.63 L72.19 750.47 L72.87 750.32 L73.55 750.18 L74.23 750.04 L74.91 749.91 L75.59 749.79 L76.27 749.67 L76.94 749.56 L77.62 749.45 L78.3 749.35 L78.98 749.25 L79.66 749.15 L80.34 749.06 L81.02 748.97 L81.7 748.89 L82.38 748.81 L83.06 748.73 L83.73 748.65 L84.41 748.58 L85.09 748.51 L85.77 748.44 L86.45 748.37 L87.13 748.31 L87.81 748.25 L88.49 748.19 L89.17 748.13 L89.85 748.07 L90.53 748.02 L91.2 747.97 L91.88 747.92 L92.56 747.87 L93.24 747.82 L93.92 747.77 L94.6 747.73 L95.28 747.69 L95.96 747.64 L96.64 747.6 L97.31 747.56 L97.99 747.53 L98.67 747.49 L99.35 747.45 L100.03 747.42 L100.71 747.38 L101.39 747.35 L102.07 747.32 L102.75 747.29 L103.43 747.26 L104.1 747.23 L104.78 747.2 L105.46 747.17 L106.14 747.15 L106.82 747.12 L107.5 747.1 L108.18 747.07 L108.86 747.05 L109.54 747.03 L110.22 747 L110.9 746.98 L111.57 746.96 L112.25 746.94 L112.93 746.92 L113.61 746.9 L114.29 746.88 L114.97 746.87 L115.65 746.85 L115.78 747.88 L115.92 748.79 L116.06 749.57 L116.19 750.25 L116.33 750.85 L116.46 751.36 L116.6 751.82 L116.73 752.22 L116.87 752.57 L117.01 752.87 L117.14 753.14 L117.28 753.38 L117.41 753.6 L117.55 753.78 L117.69 753.95 L117.82 754.1 L117.96 754.24 L118.09 754.36 L118.23 754.47 L118.36 754.57 L118.5 754.66 L118.64 754.74 L118.77 754.82 L118.91 754.89 L119.04 754.95 L119.18 755.02 L119.31 755.07 L119.45 755.12 L119.59 755.17 L119.72 755.22 L119.86 755.26 L119.99 755.31 L120.13 755.34 L120.27 755.38 L120.4 755.42 L120.54 755.45 L120.67 755.49 L120.81 755.52 L120.94 755.55 L121.08 755.58 L121.22 755.61 L121.35 755.63 L121.49 755.66 L121.62 755.68 L121.76 755.71 L121.89 755.73 L122.03 755.76 L122.17 755.78 L122.3 755.8 L122.44 755.82 L122.57 755.85 L122.71 755.87 L122.85 755.89 L122.98 755.91 L123.12 755.93 L123.25 755.94 L123.39 755.96 L123.52 755.98 L123.66 756 L123.8 756.01 L124.47 756.1 L125.15 756.17 L125.83 756.23 L126.51 756.3 L127.19 756.35 L127.87 756.4 L128.55 756.45 L129.23 756.5 L129.91 756.54 L130.59 756.58 L131.27 756.62 L131.94 756.65 L132.62 756.69 L133.3 756.72 L133.98 756.76 L134.66 756.79 L135.34 756.82 L136.02 756.85 L136.7 756.88 L137.38 756.91 L138.06 756.94 L138.73 756.96 L139.41 756.99 L140.09 757.02 L140.77 757.05 L141.45 757.07 L142.13 757.1 L142.81 757.13 L143.49 757.15 L144.17 757.18 L144.84 757.2 L145.52 757.23 L146.2 757.26 L146.88 757.28 L147.56 757.31 L148.24 757.33 L148.92 757.36 L149.6 757.38 L150.28 757.41 L150.96 757.43 L151.63 757.46 L152.31 757.48 L152.99 757.51 L153.67 757.53 L154.35 757.56 L155.03 757.58 L155.71 757.61 L156.39 757.63 L157.07 757.66 L157.75 757.68 L158.43 757.71 L159.1 757.73 L159.78 757.75 L160.46 757.78 L161.14 757.8 L161.82 757.83 L162.5 757.85 L163.18 757.88 L163.86 757.9 L164.54 757.92 L165.22 757.95 L165.89 757.97 L166.57 758 L167.25 758.02 L167.93 758.04 L168.61 758.07 L169.29 758.09 L169.97 758.11 L170.65 758.14 L171.33 758.16 L172 758.18 L172.68 758.21 L173.36 758.23 L174.04 758.25 L174.72 758.28 L175.4 758.3 L176.08 758.32" fill="none" stroke="#111" stroke-width="1.35" stroke-linejoin="round"/>
<path d="M39.6 769.9 L40.28 769.9 L40.96 769.9 L41.64 769.9 L42.32 769.9 L43 769.9 L43.67 769.9 L44.35 769.9 L45.03 769.9 L45.71 769.9 L46.39 769.9 L47.07 769.9 L47.75 769.9 L48.43 769.9 L49.11 769.9 L49.79 769.9 L50.46 769.9 L51.14 769.9 L51.82 769.9 L52.5 769.9 L53.18 769.9 L53.86 769.9 L53.99 769.73 L54.13 769.57 L54.27 769.4 L54.4 769.24 L54.54 769.09 L54.67 768.93 L54.81 768.78 L54.95 768.63 L55.08 768.49 L55.22 768.34 L55.35 768.2 L55.49 768.07 L55.62 767.93 L55.76 767.8 L55.9 767.67 L56.03 767.54 L56.17 767.42 L56.3 767.3 L56.44 767.17 L56.58 767.06 L56.71 766.94 L56.85 766.83 L56.98 766.71 L57.12 766.6 L57.25 766.5 L57.39 766.39 L57.53 766.29 L57.66 766.18 L57.8 766.08 L57.93 765.99 L58.07 765.89 L58.2 765.79 L58.34 765.7 L58.48 765.61 L58.61 765.52 L58.75 765.43 L58.88 765.35 L59.02 765.26 L59.16 765.18 L59.29 765.1 L59.43 765.02 L59.56 764.94 L59.7 764.86 L59.83 764.78 L59.97 764.71 L60.11 764.63 L60.24 764.56 L60.38 764.49 L60.51 764.42 L60.65 764.35 L60.78 764.29 L60.92 764.22 L61.06 764.15 L61.19 764.09 L61.33 764.03 L61.46 763.97 L61.6 763.91 L61.74 763.85 L61.87 763.79 L62.01 763.73 L62.69 763.46 L63.37 763.21 L64.04 762.98 L64.72 762.77 L65.4 762.57 L66.08 762.39 L66.76 762.23 L67.44 762.08 L68.12 761.93 L68.8 761.8 L69.48 761.68 L70.16 761.57 L70.83 761.46 L71.51 761.37 L72.19 761.28 L72.87 761.19 L73.55 761.11 L74.23 761.04 L74.91 760.96 L75.59 760.9 L76.27 760.84 L76.94 760.78 L77.62 760.72 L78.3 760.67 L78.98 760.62 L79.66 760.57 L80.34 760.52 L81.02 760.48 L81.7 760.44 L82.38 760.4 L83.06 760.36 L83.73 760.32 L84.41 760.28 L85.09 760.25 L85.77 760.22 L86.45 760.18 L87.13 760.15 L87.81 760.12 L88.49 760.09 L89.17 760.06 L89.85 760.04 L90.53 760.01 L91.2 759.98 L91.88 759.96 L92.56 759.93 L93.24 759.91 L93.92 759.88 L94.6 759.86 L95.28 759.84 L95.96 759.82 L96.64 759.8 L97.31 759.77 L97.99 759.75 L98.67 759.73 L99.35 759.71 L100.03 759.69 L100.71 759.67 L101.39 759.65 L102.07 759.64 L102.75 759.62 L103.43 759.6 L104.1 759.58 L104.78 759.56 L105.46 759.55 L106.14 759.53 L106.82 759.51 L107.5 759.5 L108.18 759.48 L108.86 759.47 L109.54 759.45 L110.22 759.44 L110.9 759.42 L111.57 759.41 L112.25 759.39 L112.93 759.38 L113.61 759.36 L114.29 759.35 L114.97 759.34 L115.65 759.32 L115.78 759.73 L115.92 760.07 L116.06 760.37 L116.19 760.63 L116.33 760.85 L116.46 761.05 L116.6 761.21 L116.73 761.36 L116.87 761.48 L117.01 761.59 L117.14 761.68 L117.28 761.76 L117.41 761.83 L117.55 761.89 L117.69 761.95 L117.82 761.99 L117.96 762.03 L118.09 762.07 L118.23 762.1 L118.36 762.13 L118.5 762.15 L118.64 762.17 L118.77 762.19 L118.91 762.21 L119.04 762.23 L119.18 762.24 L119.31 762.25 L119.45 762.26 L119.59 762.28 L119.72 762.28 L119.86 762.29 L119.99 762.3 L120.13 762.31 L120.27 762.32 L120.4 762.32 L120.54 762.33 L120.67 762.34 L120.81 762.34 L120.94 762.35 L121.08 762.35 L121.22 762.36 L121.35 762.37 L121.49 762.37 L121.62 762.38 L121.76 762.38 L121.89 762.39 L122.03 762.39 L122.17 762.4 L122.3 762.4 L122.44 762.41 L122.57 762.41 L122.71 762.41 L122.85 762.42 L122.98 762.42 L123.12 762.43 L123.25 762.43 L123.39 762.44 L123.52 762.44 L123.66 762.45 L123.8 762.45 L124.47 762.47 L125.15 762.5 L125.83 762.52 L126.51 762.54 L127.19 762.56 L127.87 762.58 L128.55 762.61 L129.23 762.63 L129.91 762.65 L130.59 762.67 L131.27 762.69 L131.94 762.72 L132.62 762.74 L133.3 762.76 L133.98 762.78 L134.66 762.8 L135.34 762.82 L136.02 762.84 L136.7 762.86 L137.38 762.89 L138.06 762.91 L138.73 762.93 L139.41 762.95 L140.09 762.97 L140.77 762.99 L141.45 763.01 L142.13 763.03 L142.81 763.05 L143.49 763.07 L144.17 763.09 L144.84 763.11 L145.52 763.13 L146.2 763.15 L146.88 763.17 L147.56 763.19 L148.24 763.21 L148.92 763.23 L149.6 763.25 L150.28 763.27 L150.96 763.29 L151.63 763.31 L152.31 763.33 L152.99 763.35 L153.67 763.37 L154.35 763.39 L155.03 763.41 L155.71 763.43 L156.39 763.45 L157.07 763.47 L157.75 763.49 L158.43 763.51 L159.1 763.53 L159.78 763.55 L160.46 763.57 L161.14 763.58 L161.82 763.6 L162.5 763.62 L163.18 763.64 L163.86 763.66 L164.54 763.68 L165.22 763.7 L165.89 763.72 L166.57 763.73 L167.25 763.75 L167.93 763.77 L168.61 763.79 L169.29 763.81 L169.97 763.83 L170.65 763.84 L171.33 763.86 L172 763.88 L172.68 763.9 L173.36 763.92 L174.04 763.93 L174.72 763.95 L175.4 763.97 L176.08 763.99" fill="none" stroke="#111" stroke-width="1.35" stroke-linejoin="round"/>
<path d="M39.6 769.9 L40.28 769.9 L40.96 769.9 L41.64 769.9 L42.32 769.9 L43 769.9 L43.67 769.9 L44.35 769.9 L45.03 769.9 L45.71 769.9 L46.39 769.9 L47.07 769.9 L47.75 769.9 L48.43 769.9 L49.11 769.9 L49.79 769.9 L50.46 769.9 L51.14 769.9 L51.82 769.9 L52.5 769.9 L53.18 769.9 L53.86 769.9 L53.99 769.8 L54.13 769.7 L54.27 769.6 L54.4 769.51 L54.54 769.41 L54.67 769.32 L54.81 769.23 L54.95 769.14 L55.08 769.06 L55.22 768.97 L55.35 768.89 L55.49 768.81 L55.62 768.73 L55.76 768.65 L55.9 768.57 L56.03 768.49 L56.17 768.42 L56.3 768.35 L56.44 768.28 L56.58 768.2 L56.71 768.14 L56.85 768.07 L56.98 768 L57.12 767.94 L57.25 767.87 L57.39 767.81 L57.53 767.75 L57.66 767.69 L57.8 767.63 L57.93 767.57 L58.07 767.51 L58.2 767.45 L58.34 767.4 L58.48 767.34 L58.61 767.29 L58.75 767.24 L58.88 767.19 L59.02 767.13 L59.16 767.08 L59.29 767.04 L59.43 766.99 L59.56 766.94 L59.7 766.89 L59.83 766.85 L59.97 766.8 L60.11 766.76 L60.24 766.72 L60.38 766.68 L60.51 766.63 L60.65 766.59 L60.78 766.55 L60.92 766.51 L61.06 766.47 L61.19 766.44 L61.33 766.4 L61.46 766.36 L61.6 766.33 L61.74 766.29 L61.87 766.26 L62.01 766.22 L62.69 766.06 L63.37 765.91 L64.04 765.77 L64.72 765.65 L65.4 765.53 L66.08 765.43 L66.76 765.33 L67.44 765.24 L68.12 765.15 L68.8 765.07 L69.48 765 L70.16 764.93 L70.83 764.87 L71.51 764.81 L72.19 764.76 L72.87 764.71 L73.55 764.66 L74.23 764.62 L74.91 764.57 L75.59 764.53 L76.27 764.5 L76.94 764.46 L77.62 764.43 L78.3 764.4 L78.98 764.37 L79.66 764.34 L80.34 764.31 L81.02 764.28 L81.7 764.26 L82.38 764.23 L83.06 764.21 L83.73 764.19 L84.41 764.17 L85.09 764.15 L85.77 764.13 L86.45 764.11 L87.13 764.09 L87.81 764.07 L88.49 764.05 L89.17 764.04 L89.85 764.02 L90.53 764 L91.2 763.99 L91.88 763.97 L92.56 763.96 L93.24 763.94 L93.92 763.93 L94.6 763.92 L95.28 763.9 L95.96 763.89 L96.64 763.88 L97.31 763.86 L97.99 763.85 L98.67 763.84 L99.35 763.83 L100.03 763.81 L100.71 763.8 L101.39 763.79 L102.07 763.78 L102.75 763.77 L103.43 763.76 L104.1 763.75 L104.78 763.74 L105.46 763.73 L106.14 763.72 L106.82 763.71 L107.5 763.7 L108.18 763.69 L108.86 763.68 L109.54 763.67 L110.22 763.66 L110.9 763.65 L111.57 763.64 L112.25 763.64 L112.93 763.63 L113.61 763.62 L114.29 763.61 L114.97 763.6 L115.65 763.59 L115.78 763.83 L115.92 764.04 L116.06 764.22 L116.19 764.37 L116.33 764.51 L116.46 764.62 L116.6 764.72 L116.73 764.81 L116.87 764.88 L117.01 764.94 L117.14 765 L117.28 765.05 L117.41 765.09 L117.55 765.13 L117.69 765.16 L117.82 765.19 L117.96 765.21 L118.09 765.23 L118.23 765.25 L118.36 765.27 L118.5 765.28 L118.64 765.29 L118.77 765.31 L118.91 765.32 L119.04 765.33 L119.18 765.33 L119.31 765.34 L119.45 765.35 L119.59 765.35 L119.72 765.36 L119.86 765.37 L119.99 765.37 L120.13 765.38 L120.27 765.38 L120.4 765.38 L120.54 765.39 L120.67 765.39 L120.81 765.4 L120.94 765.4 L121.08 765.4 L121.22 765.41 L121.35 765.41 L121.49 765.41 L121.62 765.41 L121.76 765.42 L121.89 765.42 L122.03 765.42 L122.17 765.43 L122.3 765.43 L122.44 765.43 L122.57 765.43 L122.71 765.44 L122.85 765.44 L122.98 765.44 L123.12 765.45 L123.25 765.45 L123.39 765.45 L123.52 765.45 L123.66 765.46 L123.8 765.46 L124.47 765.47 L125.15 765.49 L125.83 765.5 L126.51 765.51 L127.19 765.53 L127.87 765.54 L128.55 765.55 L129.23 765.57 L129.91 765.58 L130.59 765.59 L131.27 765.6 L131.94 765.62 L132.62 765.63 L133.3 765.64 L133.98 765.66 L134.66 765.67 L135.34 765.68 L136.02 765.69 L136.7 765.71 L137.38 765.72 L138.06 765.73 L138.73 765.74 L139.41 765.76 L140.09 765.77 L140.77 765.78 L141.45 765.79 L142.13 765.81 L142.81 765.82 L143.49 765.83 L144.17 765.84 L144.84 765.85 L145.52 765.87 L146.2 765.88 L146.88 765.89 L147.56 765.9 L148.24 765.91 L148.92 765.93 L149.6 765.94 L150.28 765.95 L150.96 765.96 L151.63 765.97 L152.31 765.99 L152.99 766 L153.67 766.01 L154.35 766.02 L155.03 766.03 L155.71 766.04 L156.39 766.06 L157.07 766.07 L157.75 766.08 L158.43 766.09 L159.1 766.1 L159.78 766.11 L160.46 766.12 L161.14 766.14 L161.82 766.15 L162.5 766.16 L163.18 766.17 L163.86 766.18 L164.54 766.19 L165.22 766.2 L165.89 766.21 L166.57 766.22 L167.25 766.24 L167.93 766.25 L168.61 766.26 L169.29 766.27 L169.97 766.28 L170.65 766.29 L171.33 766.3 L172 766.31 L172.68 766.32 L173.36 766.33 L174.04 766.34 L174.72 766.35 L175.4 766.37 L176.08 766.38" fill="none" stroke="#111" stroke-width="1.35" stroke-linejoin="round"/>
<path d="M39.6 769.9 L40.28 769.9 L40.96 769.9 L41.64 769.9 L42.32 769.9 L43 769.9 L43.67 769.9 L44.35 769.9 L45.03 769.9 L45.71 769.9 L46.39 769.9 L47.07 769.9 L47.75 769.9 L48.43 769.9 L49.11 769.9 L49.79 769.9 L50.46 769.9 L51.14 769.9 L51.82 769.9 L52.5 769.9 L53.18 769.9 L53.86 769.9 L53.99 769.82 L54.13 769.75 L54.27 769.68 L54.4 769.6 L54.54 769.53 L54.67 769.47 L54.81 769.4 L54.95 769.33 L55.08 769.27 L55.22 769.2 L55.35 769.14 L55.49 769.08 L55.62 769.02 L55.76 768.96 L55.9 768.9 L56.03 768.84 L56.17 768.79 L56.3 768.73 L56.44 768.68 L56.58 768.62 L56.71 768.57 L56.85 768.52 L56.98 768.47 L57.12 768.42 L57.25 768.37 L57.39 768.33 L57.53 768.28 L57.66 768.23 L57.8 768.19 L57.93 768.14 L58.07 768.1 L58.2 768.06 L58.34 768.02 L58.48 767.98 L58.61 767.93 L58.75 767.9 L58.88 767.86 L59.02 767.82 L59.16 767.78 L59.29 767.74 L59.43 767.71 L59.56 767.67 L59.7 767.64 L59.83 767.6 L59.97 767.57 L60.11 767.54 L60.24 767.5 L60.38 767.47 L60.51 767.44 L60.65 767.41 L60.78 767.38 L60.92 767.35 L61.06 767.32 L61.19 767.29 L61.33 767.27 L61.46 767.24 L61.6 767.21 L61.74 767.18 L61.87 767.16 L62.01 767.13 L62.69 767.01 L63.37 766.9 L64.04 766.79 L64.72 766.7 L65.4 766.61 L66.08 766.53 L66.76 766.46 L67.44 766.39 L68.12 766.33 L68.8 766.27 L69.48 766.21 L70.16 766.16 L70.83 766.11 L71.51 766.07 L72.19 766.03 L72.87 765.99 L73.55 765.96 L74.23 765.92 L74.91 765.89 L75.59 765.86 L76.27 765.83 L76.94 765.81 L77.62 765.78 L78.3 765.76 L78.98 765.73 L79.66 765.71 L80.34 765.69 L81.02 765.67 L81.7 765.65 L82.38 765.64 L83.06 765.62 L83.73 765.6 L84.41 765.58 L85.09 765.57 L85.77 765.55 L86.45 765.54 L87.13 765.53 L87.81 765.51 L88.49 765.5 L89.17 765.49 L89.85 765.47 L90.53 765.46 L91.2 765.45 L91.88 765.44 L92.56 765.43 L93.24 765.42 L93.92 765.41 L94.6 765.4 L95.28 765.39 L95.96 765.38 L96.64 765.37 L97.31 765.36 L97.99 765.35 L98.67 765.34 L99.35 765.33 L100.03 765.32 L100.71 765.31 L101.39 765.3 L102.07 765.29 L102.75 765.29 L103.43 765.28 L104.1 765.27 L104.78 765.26 L105.46 765.25 L106.14 765.25 L106.82 765.24 L107.5 765.23 L108.18 765.23 L108.86 765.22 L109.54 765.21 L110.22 765.2 L110.9 765.2 L111.57 765.19 L112.25 765.18 L112.93 765.18 L113.61 765.17 L114.29 765.17 L114.97 765.16 L115.65 765.15 L115.78 765.33 L115.92 765.49 L116.06 765.62 L116.19 765.74 L116.33 765.84 L116.46 765.93 L116.6 766 L116.73 766.07 L116.87 766.12 L117.01 766.17 L117.14 766.21 L117.28 766.25 L117.41 766.28 L117.55 766.31 L117.69 766.33 L117.82 766.35 L117.96 766.37 L118.09 766.39 L118.23 766.4 L118.36 766.41 L118.5 766.42 L118.64 766.43 L118.77 766.44 L118.91 766.45 L119.04 766.46 L119.18 766.46 L119.31 766.47 L119.45 766.47 L119.59 766.48 L119.72 766.48 L119.86 766.49 L119.99 766.49 L120.13 766.49 L120.27 766.5 L120.4 766.5 L120.54 766.5 L120.67 766.51 L120.81 766.51 L120.94 766.51 L121.08 766.51 L121.22 766.52 L121.35 766.52 L121.49 766.52 L121.62 766.52 L121.76 766.53 L121.89 766.53 L122.03 766.53 L122.17 766.53 L122.3 766.53 L122.44 766.54 L122.57 766.54 L122.71 766.54 L122.85 766.54 L122.98 766.55 L123.12 766.55 L123.25 766.55 L123.39 766.55 L123.52 766.55 L123.66 766.56 L123.8 766.56 L124.47 766.57 L125.15 766.58 L125.83 766.59 L126.51 766.6 L127.19 766.61 L127.87 766.62 L128.55 766.63 L129.23 766.64 L129.91 766.65 L130.59 766.66 L131.27 766.67 L131.94 766.68 L132.62 766.69 L133.3 766.7 L133.98 766.7 L134.66 766.71 L135.34 766.72 L136.02 766.73 L136.7 766.74 L137.38 766.75 L138.06 766.76 L138.73 766.77 L139.41 766.78 L140.09 766.79 L140.77 766.8 L141.45 766.81 L142.13 766.82 L142.81 766.83 L143.49 766.84 L144.17 766.85 L144.84 766.85 L145.52 766.86 L146.2 766.87 L146.88 766.88 L147.56 766.89 L148.24 766.9 L148.92 766.91 L149.6 766.92 L150.28 766.93 L150.96 766.94 L151.63 766.94 L152.31 766.95 L152.99 766.96 L153.67 766.97 L154.35 766.98 L155.03 766.99 L155.71 767 L156.39 767.01 L157.07 767.01 L157.75 767.02 L158.43 767.03 L159.1 767.04 L159.78 767.05 L160.46 767.06 L161.14 767.07 L161.82 767.07 L162.5 767.08 L163.18 767.09 L163.86 767.1 L164.54 767.11 L165.22 767.12 L165.89 767.13 L166.57 767.13 L167.25 767.14 L167.93 767.15 L168.61 767.16 L169.29 767.17 L169.97 767.17 L170.65 767.18 L171.33 767.19 L172 767.2 L172.68 767.21 L173.36 767.22 L174.04 767.22 L174.72 767.23 L175.4 767.24 L176.08 767.25" fill="none" stroke="#111" stroke-width="1.35" stroke-linejoin="round"/>
<path d="M39.6 769.9 L40.28 769.9 L40.96 769.9 L41.64 769.9 L42.32 769.9 L43 769.9 L43.67 769.9 L44.35 769.9 L45.03 769.9 L45.71 769.9 L46.39 769.9 L47.07 769.9 L47.75 769.9 L48.43 769.9 L49.11 769.9 L49.79 769.9 L50.46 769.9 L51.14 769.9 L51.82 769.9 L52.5 769.9 L53.18 769.9 L53.86 769.9 L53.99 769.84 L54.13 769.79 L54.27 769.73 L54.4 769.68 L54.54 769.63 L54.67 769.58 L54.81 769.53 L54.95 769.48 L55.08 769.43 L55.22 769.38 L55.35 769.33 L55.49 769.29 L55.62 769.24 L55.76 769.2 L55.9 769.16 L56.03 769.11 L56.17 769.07 L56.3 769.03 L56.44 768.99 L56.58 768.95 L56.71 768.91 L56.85 768.88 L56.98 768.84 L57.12 768.8 L57.25 768.77 L57.39 768.73 L57.53 768.7 L57.66 768.66 L57.8 768.63 L57.93 768.6 L58.07 768.56 L58.2 768.53 L58.34 768.5 L58.48 768.47 L58.61 768.44 L58.75 768.41 L58.88 768.38 L59.02 768.35 L59.16 768.33 L59.29 768.3 L59.43 768.27 L59.56 768.25 L59.7 768.22 L59.83 768.19 L59.97 768.17 L60.11 768.14 L60.24 768.12 L60.38 768.1 L60.51 768.07 L60.65 768.05 L60.78 768.03 L60.92 768.01 L61.06 767.98 L61.19 767.96 L61.33 767.94 L61.46 767.92 L61.6 767.9 L61.74 767.88 L61.87 767.86 L62.01 767.84 L62.69 767.75 L63.37 767.67 L64.04 767.59 L64.72 767.52 L65.4 767.46 L66.08 767.4 L66.76 767.34 L67.44 767.29 L68.12 767.24 L68.8 767.2 L69.48 767.16 L70.16 767.12 L70.83 767.09 L71.51 767.06 L72.19 767.03 L72.87 767 L73.55 766.97 L74.23 766.95 L74.91 766.92 L75.59 766.9 L76.27 766.88 L76.94 766.86 L77.62 766.84 L78.3 766.82 L78.98 766.81 L79.66 766.79 L80.34 766.77 L81.02 766.76 L81.7 766.75 L82.38 766.73 L83.06 766.72 L83.73 766.71 L84.41 766.69 L85.09 766.68 L85.77 766.67 L86.45 766.66 L87.13 766.65 L87.81 766.64 L88.49 766.63 L89.17 766.62 L89.85 766.61 L90.53 766.6 L91.2 766.59 L91.88 766.59 L92.56 766.58 L93.24 766.57 L93.92 766.56 L94.6 766.55 L95.28 766.55 L95.96 766.54 L96.64 766.53 L97.31 766.52 L97.99 766.52 L98.67 766.51 L99.35 766.5 L100.03 766.5 L100.71 766.49 L101.39 766.48 L102.07 766.48 L102.75 766.47 L103.43 766.47 L104.1 766.46 L104.78 766.45 L105.46 766.45 L106.14 766.44 L106.82 766.44 L107.5 766.43 L108.18 766.43 L108.86 766.42 L109.54 766.42 L110.22 766.41 L110.9 766.41 L111.57 766.4 L112.25 766.4 L112.93 766.39 L113.61 766.39 L114.29 766.38 L114.97 766.38 L115.65 766.37 L115.78 766.51 L115.92 766.62 L116.06 766.72 L116.19 766.81 L116.33 766.88 L116.46 766.95 L116.6 767 L116.73 767.05 L116.87 767.09 L117.01 767.13 L117.14 767.16 L117.28 767.19 L117.41 767.21 L117.55 767.23 L117.69 767.25 L117.82 767.26 L117.96 767.28 L118.09 767.29 L118.23 767.3 L118.36 767.31 L118.5 767.32 L118.64 767.32 L118.77 767.33 L118.91 767.34 L119.04 767.34 L119.18 767.35 L119.31 767.35 L119.45 767.35 L119.59 767.36 L119.72 767.36 L119.86 767.36 L119.99 767.37 L120.13 767.37 L120.27 767.37 L120.4 767.37 L120.54 767.38 L120.67 767.38 L120.81 767.38 L120.94 767.38 L121.08 767.38 L121.22 767.39 L121.35 767.39 L121.49 767.39 L121.62 767.39 L121.76 767.39 L121.89 767.4 L122.03 767.4 L122.17 767.4 L122.3 767.4 L122.44 767.4 L122.57 767.4 L122.71 767.4 L122.85 767.41 L122.98 767.41 L123.12 767.41 L123.25 767.41 L123.39 767.41 L123.52 767.41 L123.66 767.42 L123.8 767.42 L124.47 767.42 L125.15 767.43 L125.83 767.44 L126.51 767.45 L127.19 767.45 L127.87 767.46 L128.55 767.47 L129.23 767.48 L129.91 767.48 L130.59 767.49 L131.27 767.5 L131.94 767.51 L132.62 767.51 L133.3 767.52 L133.98 767.53 L134.66 767.53 L135.34 767.54 L136.02 767.55 L136.7 767.55 L137.38 767.56 L138.06 767.57 L138.73 767.58 L139.41 767.58 L140.09 767.59 L140.77 767.6 L141.45 767.6 L142.13 767.61 L142.81 767.62 L143.49 767.62 L144.17 767.63 L144.84 767.64 L145.52 767.64 L146.2 767.65 L146.88 767.66 L147.56 767.66 L148.24 767.67 L148.92 767.68 L149.6 767.68 L150.28 767.69 L150.96 767.7 L151.63 767.7 L152.31 767.71 L152.99 767.72 L153.67 767.72 L154.35 767.73 L155.03 767.74 L155.71 767.74 L156.39 767.75 L157.07 767.76 L157.75 767.76 L158.43 767.77 L159.1 767.78 L159.78 767.78 L160.46 767.79 L161.14 767.79 L161.82 767.8 L162.5 767.81 L163.18 767.81 L163.86 767.82 L164.54 767.83 L165.22 767.83 L165.89 767.84 L166.57 767.84 L167.25 767.85 L167.93 767.86 L168.61 767.86 L169.29 767.87 L169.97 767.88 L170.65 767.88 L171.33 767.89 L172 767.89 L172.68 767.9 L173.36 767.91 L174.04 767.91 L174.72 767.92 L175.4 767.92 L176.08 767.93" fill="none" stroke="#111" stroke-width="1.35" stroke-linejoin="round"/>
<path d="M39.6 769.9 L40.28 769.9 L40.96 769.9 L41.64 769.9 L42.32 769.9 L43 769.9 L43.67 769.9 L44.35 769.9 L45.03 769.9 L45.71 769.9 L46.39 769.9 L47.07 769.9 L47.75 769.9 L48.43 769.9 L49.11 769.9 L49.79 769.9 L50.46 769.9 L51.14 769.9 L51.82 769.9 L52.5 769.9 L53.18 769.9 L53.86 769.9 L53.99 769.86 L54.13 769.82 L54.27 769.78 L54.4 769.74 L54.54 769.7 L54.67 769.66 L54.81 769.63 L54.95 769.59 L55.08 769.56 L55.22 769.52 L55.35 769.49 L55.49 769.45 L55.62 769.42 L55.76 769.39 L55.9 769.36 L56.03 769.33 L56.17 769.3 L56.3 769.27 L56.44 769.24 L56.58 769.21 L56.71 769.18 L56.85 769.15 L56.98 769.12 L57.12 769.1 L57.25 769.07 L57.39 769.05 L57.53 769.02 L57.66 769 L57.8 768.97 L57.93 768.95 L58.07 768.92 L58.2 768.9 L58.34 768.88 L58.48 768.86 L58.61 768.83 L58.75 768.81 L58.88 768.79 L59.02 768.77 L59.16 768.75 L59.29 768.73 L59.43 768.71 L59.56 768.69 L59.7 768.67 L59.83 768.65 L59.97 768.64 L60.11 768.62 L60.24 768.6 L60.38 768.58 L60.51 768.57 L60.65 768.55 L60.78 768.53 L60.92 768.52 L61.06 768.5 L61.19 768.48 L61.33 768.47 L61.46 768.45 L61.6 768.44 L61.74 768.43 L61.87 768.41 L62.01 768.4 L62.69 768.33 L63.37 768.27 L64.04 768.21 L64.72 768.16 L65.4 768.12 L66.08 768.07 L66.76 768.03 L67.44 767.99 L68.12 767.96 L68.8 767.93 L69.48 767.9 L70.16 767.87 L70.83 767.85 L71.51 767.82 L72.19 767.8 L72.87 767.78 L73.55 767.76 L74.23 767.74 L74.91 767.72 L75.59 767.71 L76.27 767.69 L76.94 767.68 L77.62 767.66 L78.3 767.65 L78.98 767.64 L79.66 767.63 L80.34 767.62 L81.02 767.6 L81.7 767.59 L82.38 767.58 L83.06 767.58 L83.73 767.57 L84.41 767.56 L85.09 767.55 L85.77 767.54 L86.45 767.53 L87.13 767.53 L87.81 767.52 L88.49 767.51 L89.17 767.5 L89.85 767.5 L90.53 767.49 L91.2 767.48 L91.88 767.48 L92.56 767.47 L93.24 767.47 L93.92 767.46 L94.6 767.45 L95.28 767.45 L95.96 767.44 L96.64 767.44 L97.31 767.43 L97.99 767.43 L98.67 767.42 L99.35 767.42 L100.03 767.41 L100.71 767.41 L101.39 767.4 L102.07 767.4 L102.75 767.4 L103.43 767.39 L104.1 767.39 L104.78 767.38 L105.46 767.38 L106.14 767.37 L106.82 767.37 L107.5 767.37 L108.18 767.36 L108.86 767.36 L109.54 767.35 L110.22 767.35 L110.9 767.35 L111.57 767.34 L112.25 767.34 L112.93 767.34 L113.61 767.33 L114.29 767.33 L114.97 767.33 L115.65 767.32 L115.78 767.42 L115.92 767.51 L116.06 767.58 L116.19 767.64 L116.33 767.7 L116.46 767.74 L116.6 767.78 L116.73 767.82 L116.87 767.85 L117.01 767.88 L117.14 767.9 L117.28 767.92 L117.41 767.93 L117.55 767.95 L117.69 767.96 L117.82 767.97 L117.96 767.98 L118.09 767.99 L118.23 768 L118.36 768.01 L118.5 768.01 L118.64 768.02 L118.77 768.02 L118.91 768.03 L119.04 768.03 L119.18 768.03 L119.31 768.04 L119.45 768.04 L119.59 768.04 L119.72 768.05 L119.86 768.05 L119.99 768.05 L120.13 768.05 L120.27 768.05 L120.4 768.05 L120.54 768.06 L120.67 768.06 L120.81 768.06 L120.94 768.06 L121.08 768.06 L121.22 768.06 L121.35 768.06 L121.49 768.07 L121.62 768.07 L121.76 768.07 L121.89 768.07 L122.03 768.07 L122.17 768.07 L122.3 768.07 L122.44 768.07 L122.57 768.08 L122.71 768.08 L122.85 768.08 L122.98 768.08 L123.12 768.08 L123.25 768.08 L123.39 768.08 L123.52 768.08 L123.66 768.08 L123.8 768.09 L124.47 768.09 L125.15 768.1 L125.83 768.1 L126.51 768.11 L127.19 768.11 L127.87 768.12 L128.55 768.12 L129.23 768.13 L129.91 768.13 L130.59 768.14 L131.27 768.14 L131.94 768.15 L132.62 768.16 L133.3 768.16 L133.98 768.17 L134.66 768.17 L135.34 768.18 L136.02 768.18 L136.7 768.19 L137.38 768.19 L138.06 768.2 L138.73 768.2 L139.41 768.21 L140.09 768.21 L140.77 768.22 L141.45 768.22 L142.13 768.23 L142.81 768.23 L143.49 768.24 L144.17 768.24 L144.84 768.25 L145.52 768.25 L146.2 768.26 L146.88 768.26 L147.56 768.27 L148.24 768.27 L148.92 768.28 L149.6 768.28 L150.28 768.29 L150.96 768.29 L151.63 768.3 L152.31 768.3 L152.99 768.31 L153.67 768.31 L154.35 768.31 L155.03 768.32 L155.71 768.32 L156.39 768.33 L157.07 768.33 L157.75 768.34 L158.43 768.34 L159.1 768.35 L159.78 768.35 L160.46 768.36 L161.14 768.36 L161.82 768.37 L162.5 768.37 L163.18 768.38 L163.86 768.38 L164.54 768.38 L165.22 768.39 L165.89 768.39 L166.57 768.4 L167.25 768.4 L167.93 768.41 L168.61 768.41 L169.29 768.42 L169.97 768.42 L170.65 768.42 L171.33 768.43 L172 768.43 L172.68 768.44 L173.36 768.44 L174.04 768.45 L174.72 768.45 L175.4 768.46 L176.08 768.46" fill="none" stroke="#111" stroke-width="1.35" stroke-linejoin="round"/>
<path d="M39.6 769.9 L40.28 769.9 L40.96 769.9 L41.64 769.9 L42.32 769.9 L43 769.9 L43.67 769.9 L44.35 769.9 L45.03 769.9 L45.71 769.9 L46.39 769.9 L47.07 769.9 L47.75 769.9 L48.43 769.9 L49.11 769.9 L49.79 769.9 L50.46 769.9 L51.14 769.9 L51.82 769.9 L52.5 769.9 L53.18 769.9 L53.86 769.9 L53.99 769.87 L54.13 769.84 L54.27 769.82 L54.4 769.79 L54.54 769.76 L54.67 769.74 L54.81 769.71 L54.95 769.69 L55.08 769.66 L55.22 769.64 L55.35 769.62 L55.49 769.59 L55.62 769.57 L55.76 769.55 L55.9 769.53 L56.03 769.51 L56.17 769.49 L56.3 769.47 L56.44 769.45 L56.58 769.43 L56.71 769.41 L56.85 769.39 L56.98 769.37 L57.12 769.35 L57.25 769.33 L57.39 769.32 L57.53 769.3 L57.66 769.28 L57.8 769.26 L57.93 769.25 L58.07 769.23 L58.2 769.22 L58.34 769.2 L58.48 769.19 L58.61 769.17 L58.75 769.16 L58.88 769.14 L59.02 769.13 L59.16 769.11 L59.29 769.1 L59.43 769.09 L59.56 769.07 L59.7 769.06 L59.83 769.05 L59.97 769.03 L60.11 769.02 L60.24 769.01 L60.38 769 L60.51 768.99 L60.65 768.98 L60.78 768.96 L60.92 768.95 L61.06 768.94 L61.19 768.93 L61.33 768.92 L61.46 768.91 L61.6 768.9 L61.74 768.89 L61.87 768.88 L62.01 768.87 L62.69 768.83 L63.37 768.78 L64.04 768.75 L64.72 768.71 L65.4 768.68 L66.08 768.65 L66.76 768.62 L67.44 768.6 L68.12 768.57 L68.8 768.55 L69.48 768.53 L70.16 768.51 L70.83 768.49 L71.51 768.48 L72.19 768.46 L72.87 768.45 L73.55 768.44 L74.23 768.42 L74.91 768.41 L75.59 768.4 L76.27 768.39 L76.94 768.38 L77.62 768.37 L78.3 768.36 L78.98 768.35 L79.66 768.34 L80.34 768.34 L81.02 768.33 L81.7 768.32 L82.38 768.32 L83.06 768.31 L83.73 768.3 L84.41 768.3 L85.09 768.29 L85.77 768.29 L86.45 768.28 L87.13 768.28 L87.81 768.27 L88.49 768.27 L89.17 768.26 L89.85 768.26 L90.53 768.25 L91.2 768.25 L91.88 768.24 L92.56 768.24 L93.24 768.23 L93.92 768.23 L94.6 768.23 L95.28 768.22 L95.96 768.22 L96.64 768.22 L97.31 768.21 L97.99 768.21 L98.67 768.21 L99.35 768.2 L100.03 768.2 L100.71 768.2 L101.39 768.19 L102.07 768.19 L102.75 768.19 L103.43 768.18 L104.1 768.18 L104.78 768.18 L105.46 768.17 L106.14 768.17 L106.82 768.17 L107.5 768.17 L108.18 768.16 L108.86 768.16 L109.54 768.16 L110.22 768.16 L110.9 768.15 L111.57 768.15 L112.25 768.15 L112.93 768.15 L113.61 768.14 L114.29 768.14 L114.97 768.14 L115.65 768.14 L115.78 768.2 L115.92 768.26 L116.06 768.31 L116.19 768.36 L116.33 768.39 L116.46 768.42 L116.6 768.45 L116.73 768.48 L116.87 768.5 L117.01 768.51 L117.14 768.53 L117.28 768.54 L117.41 768.56 L117.55 768.57 L117.69 768.57 L117.82 768.58 L117.96 768.59 L118.09 768.59 L118.23 768.6 L118.36 768.6 L118.5 768.61 L118.64 768.61 L118.77 768.62 L118.91 768.62 L119.04 768.62 L119.18 768.62 L119.31 768.63 L119.45 768.63 L119.59 768.63 L119.72 768.63 L119.86 768.63 L119.99 768.63 L120.13 768.64 L120.27 768.64 L120.4 768.64 L120.54 768.64 L120.67 768.64 L120.81 768.64 L120.94 768.64 L121.08 768.64 L121.22 768.64 L121.35 768.64 L121.49 768.65 L121.62 768.65 L121.76 768.65 L121.89 768.65 L122.03 768.65 L122.17 768.65 L122.3 768.65 L122.44 768.65 L122.57 768.65 L122.71 768.65 L122.85 768.65 L122.98 768.65 L123.12 768.65 L123.25 768.66 L123.39 768.66 L123.52 768.66 L123.66 768.66 L123.8 768.66 L124.47 768.66 L125.15 768.67 L125.83 768.67 L126.51 768.67 L127.19 768.68 L127.87 768.68 L128.55 768.68 L129.23 768.69 L129.91 768.69 L130.59 768.7 L131.27 768.7 L131.94 768.7 L132.62 768.71 L133.3 768.71 L133.98 768.71 L134.66 768.72 L135.34 768.72 L136.02 768.72 L136.7 768.73 L137.38 768.73 L138.06 768.73 L138.73 768.74 L139.41 768.74 L140.09 768.74 L140.77 768.75 L141.45 768.75 L142.13 768.76 L142.81 768.76 L143.49 768.76 L144.17 768.77 L144.84 768.77 L145.52 768.77 L146.2 768.78 L146.88 768.78 L147.56 768.78 L148.24 768.79 L148.92 768.79 L149.6 768.79 L150.28 768.8 L150.96 768.8 L151.63 768.8 L152.31 768.81 L152.99 768.81 L153.67 768.81 L154.35 768.82 L155.03 768.82 L155.71 768.82 L156.39 768.83 L157.07 768.83 L157.75 768.83 L158.43 768.83 L159.1 768.84 L159.78 768.84 L160.46 768.84 L161.14 768.85 L161.82 768.85 L162.5 768.85 L163.18 768.86 L163.86 768.86 L164.54 768.86 L165.22 768.87 L165.89 768.87 L166.57 768.87 L167.25 768.88 L167.93 768.88 L168.61 768.88 L169.29 768.88 L169.97 768.89 L170.65 768.89 L171.33 768.89 L172 768.9 L172.68 768.9 L173.36 768.9 L174.04 768.91 L174.72 768.91 L175.4 768.91 L176.08 768.91" fill="none" stroke="#111" stroke-width="1.35" stroke-linejoin="round"/>
<path d="M39.6 769.9 L40.28 769.9 L40.96 769.9 L41.64 769.9 L42.32 769.9 L43 769.9 L43.67 769.9 L44.35 769.9 L45.03 769.9 L45.71 769.9 L46.39 769.9 L47.07 769.9 L47.75 769.9 L48.43 769.9 L49.11 769.9 L49.79 769.9 L50.46 769.9 L51.14 769.9 L51.82 769.9 L52.5 769.9 L53.18 769.9 L53.86 769.9 L53.99 769.89 L54.13 769.87 L54.27 769.86 L54.4 769.85 L54.54 769.84 L54.67 769.83 L54.81 769.81 L54.95 769.8 L55.08 769.79 L55.22 769.78 L55.35 769.77 L55.49 769.76 L55.62 769.75 L55.76 769.74 L55.9 769.73 L56.03 769.72 L56.17 769.71 L56.3 769.7 L56.44 769.69 L56.58 769.68 L56.71 769.67 L56.85 769.66 L56.98 769.65 L57.12 769.65 L57.25 769.64 L57.39 769.63 L57.53 769.62 L57.66 769.61 L57.8 769.61 L57.93 769.6 L58.07 769.59 L58.2 769.58 L58.34 769.58 L58.48 769.57 L58.61 769.56 L58.75 769.56 L58.88 769.55 L59.02 769.54 L59.16 769.54 L59.29 769.53 L59.43 769.52 L59.56 769.52 L59.7 769.51 L59.83 769.51 L59.97 769.5 L60.11 769.49 L60.24 769.49 L60.38 769.48 L60.51 769.48 L60.65 769.47 L60.78 769.47 L60.92 769.46 L61.06 769.46 L61.19 769.45 L61.33 769.45 L61.46 769.44 L61.6 769.44 L61.74 769.43 L61.87 769.43 L62.01 769.43 L62.69 769.4 L63.37 769.39 L64.04 769.37 L64.72 769.35 L65.4 769.34 L66.08 769.32 L66.76 769.31 L67.44 769.3 L68.12 769.29 L68.8 769.28 L69.48 769.27 L70.16 769.26 L70.83 769.25 L71.51 769.24 L72.19 769.24 L72.87 769.23 L73.55 769.22 L74.23 769.22 L74.91 769.21 L75.59 769.21 L76.27 769.2 L76.94 769.2 L77.62 769.19 L78.3 769.19 L78.98 769.19 L79.66 769.18 L80.34 769.18 L81.02 769.18 L81.7 769.17 L82.38 769.17 L83.06 769.17 L83.73 769.16 L84.41 769.16 L85.09 769.16 L85.77 769.16 L86.45 769.15 L87.13 769.15 L87.81 769.15 L88.49 769.15 L89.17 769.14 L89.85 769.14 L90.53 769.14 L91.2 769.14 L91.88 769.14 L92.56 769.13 L93.24 769.13 L93.92 769.13 L94.6 769.13 L95.28 769.13 L95.96 769.12 L96.64 769.12 L97.31 769.12 L97.99 769.12 L98.67 769.12 L99.35 769.12 L100.03 769.11 L100.71 769.11 L101.39 769.11 L102.07 769.11 L102.75 769.11 L103.43 769.11 L104.1 769.11 L104.78 769.1 L105.46 769.1 L106.14 769.1 L106.82 769.1 L107.5 769.1 L108.18 769.1 L108.86 769.1 L109.54 769.1 L110.22 769.1 L110.9 769.09 L111.57 769.09 L112.25 769.09 L112.93 769.09 L113.61 769.09 L114.29 769.09 L114.97 769.09 L115.65 769.09 L115.78 769.12 L115.92 769.14 L116.06 769.17 L116.19 769.19 L116.33 769.2 L116.46 769.22 L116.6 769.23 L116.73 769.24 L116.87 769.25 L117.01 769.26 L117.14 769.27 L117.28 769.27 L117.41 769.28 L117.55 769.28 L117.69 769.29 L117.82 769.29 L117.96 769.29 L118.09 769.3 L118.23 769.3 L118.36 769.3 L118.5 769.3 L118.64 769.31 L118.77 769.31 L118.91 769.31 L119.04 769.31 L119.18 769.31 L119.31 769.31 L119.45 769.31 L119.59 769.31 L119.72 769.31 L119.86 769.31 L119.99 769.32 L120.13 769.32 L120.27 769.32 L120.4 769.32 L120.54 769.32 L120.67 769.32 L120.81 769.32 L120.94 769.32 L121.08 769.32 L121.22 769.32 L121.35 769.32 L121.49 769.32 L121.62 769.32 L121.76 769.32 L121.89 769.32 L122.03 769.32 L122.17 769.32 L122.3 769.32 L122.44 769.32 L122.57 769.32 L122.71 769.32 L122.85 769.32 L122.98 769.32 L123.12 769.33 L123.25 769.33 L123.39 769.33 L123.52 769.33 L123.66 769.33 L123.8 769.33 L124.47 769.33 L125.15 769.33 L125.83 769.33 L126.51 769.33 L127.19 769.34 L127.87 769.34 L128.55 769.34 L129.23 769.34 L129.91 769.34 L130.59 769.34 L131.27 769.35 L131.94 769.35 L132.62 769.35 L133.3 769.35 L133.98 769.35 L134.66 769.35 L135.34 769.36 L136.02 769.36 L136.7 769.36 L137.38 769.36 L138.06 769.36 L138.73 769.36 L139.41 769.37 L140.09 769.37 L140.77 769.37 L141.45 769.37 L142.13 769.37 L142.81 769.37 L143.49 769.37 L144.17 769.38 L144.84 769.38 L145.52 769.38 L146.2 769.38 L146.88 769.38 L147.56 769.38 L148.24 769.39 L148.92 769.39 L149.6 769.39 L150.28 769.39 L150.96 769.39 L151.63 769.39 L152.31 769.39 L152.99 769.4 L153.67 769.4 L154.35 769.4 L155.03 769.4 L155.71 769.4 L156.39 769.4 L157.07 769.41 L157.75 769.41 L158.43 769.41 L159.1 769.41 L159.78 769.41 L160.46 769.41 L161.14 769.41 L161.82 769.42 L162.5 769.42 L163.18 769.42 L163.86 769.42 L164.54 769.42 L165.22 769.42 L165.89 769.42 L166.57 769.43 L167.25 769.43 L167.93 769.43 L168.61 769.43 L169.29 769.43 L169.97 769.43 L170.65 769.43 L171.33 769.44 L172 769.44 L172.68 769.44 L173.36 769.44 L174.04 769.44 L174.72 769.44 L175.4 769.44 L176.08 769.45" fill="none" stroke="#111" stroke-width="1.35" stroke-linejoin="round"/>
<path d="M40.1 768 L45.03 767.9 L49.11 768.1 L51.14 768.9 L53.18 769.6 L53.99 769.7" fill="none" stroke="#1a1a1a" stroke-width="1.6" stroke-linejoin="round"/>
<text x="182.5" y="631" font-size="9.4" text-anchor="start" font-weight="normal" fill="#1e1e1e" stroke="#1e1e1e" stroke-width="0.25">Protein S (nM)</text>
<line x1="182.5" y1="631.4" x2="242.1" y2="631.4" stroke="#c8c8c8" stroke-width="0.8"/>
<line x1="184" y1="749.6" x2="193.7" y2="749.6" stroke="#111" stroke-width="1.3"/>
<text x="194.5" y="752.6" font-size="9.2" text-anchor="start" font-weight="normal" fill="#1e1e1e" stroke="#1e1e1e" stroke-width="0.25">4000</text>
<line x1="184" y1="756.9" x2="193.7" y2="756.9" stroke="#111" stroke-width="1.3"/>
<text x="194.5" y="759.9" font-size="9.2" text-anchor="start" font-weight="normal" fill="#1e1e1e" stroke="#1e1e1e" stroke-width="0.25">1000</text>
<line x1="184" y1="764.2" x2="193.7" y2="764.2" stroke="#111" stroke-width="1.3"/>
<text x="194.5" y="767.2" font-size="9.2" text-anchor="start" font-weight="normal" fill="#1e1e1e" stroke="#1e1e1e" stroke-width="0.25">250</text>
<line x1="184" y1="771.3" x2="193.7" y2="771.3" stroke="#111" stroke-width="1.3"/>
<text x="194.5" y="774.3" font-size="9.2" text-anchor="start" font-weight="normal" fill="#1e1e1e" stroke="#1e1e1e" stroke-width="0.25">62.5</text>
<line x1="218.7" y1="750" x2="228.3" y2="750" stroke="#111" stroke-width="1.3"/>
<text x="229.1" y="753" font-size="9.2" text-anchor="start" font-weight="normal" fill="#1e1e1e" stroke="#1e1e1e" stroke-width="0.25">2000</text>
<line x1="218.7" y1="757.9" x2="228.3" y2="757.9" stroke="#111" stroke-width="1.3"/>
<text x="229.1" y="760.9" font-size="9.2" text-anchor="start" font-weight="normal" fill="#1e1e1e" stroke="#1e1e1e" stroke-width="0.25">500</text>
<line x1="218.7" y1="765.6" x2="228.3" y2="765.6" stroke="#111" stroke-width="1.3"/>
<text x="229.1" y="768.6" font-size="9.2" text-anchor="start" font-weight="normal" fill="#1e1e1e" stroke="#1e1e1e" stroke-width="0.25">125</text>
<line x1="218.7" y1="772.3" x2="228.3" y2="772.3" stroke="#111" stroke-width="1.3"/>
<text x="229.1" y="775.3" font-size="9.2" text-anchor="start" font-weight="normal" fill="#1e1e1e" stroke="#1e1e1e" stroke-width="0.25">0</text>
<text transform="translate(16.3 700.7) rotate(-90)" font-size="10" text-anchor="middle" fill="#1e1e1e" stroke="#1e1e1e" stroke-width="0.25">RU</text>
<text x="106.6" y="795.3" font-size="10" text-anchor="middle" font-weight="normal" fill="#1e1e1e" stroke="#1e1e1e" stroke-width="0.25">Time (seconds)</text>
<text x="263.6" y="620.8" font-size="16.5" text-anchor="start" font-weight="bold" fill="#000" stroke="#000" stroke-width="0.25">H</text>
<line x1="300.4" y1="633.9" x2="300.4" y2="770.9" stroke="#666" stroke-width="1"/>
<line x1="298.2" y1="634.5" x2="300.4" y2="634.5" stroke="#555" stroke-width="1"/>
<text x="298" y="637.12" font-size="9.5" text-anchor="end" font-weight="normal" fill="#1e1e1e" stroke="#1e1e1e" stroke-width="0.25">250</text>
<line x1="298.2" y1="661.66" x2="300.4" y2="661.66" stroke="#555" stroke-width="1"/>
<text x="298" y="664.28" font-size="9.5" text-anchor="end" font-weight="normal" fill="#1e1e1e" stroke="#1e1e1e" stroke-width="0.25">200</text>
<line x1="298.2" y1="688.82" x2="300.4" y2="688.82" stroke="#555" stroke-width="1"/>
<text x="298" y="691.44" font-size="9.5" text-anchor="end" font-weight="normal" fill="#1e1e1e" stroke="#1e1e1e" stroke-width="0.25">150</text>
<line x1="298.2" y1="715.98" x2="300.4" y2="715.98" stroke="#555" stroke-width="1"/>
<text x="298" y="718.6" font-size="9.5" text-anchor="end" font-weight="normal" fill="#1e1e1e" stroke="#1e1e1e" stroke-width="0.25">100</text>
<line x1="298.2" y1="743.14" x2="300.4" y2="743.14" stroke="#555" stroke-width="1"/>
<text x="298" y="745.76" font-size="9.5" text-anchor="end" font-weight="normal" fill="#1e1e1e" stroke="#1e1e1e" stroke-width="0.25">50</text>
<line x1="298.2" y1="770.3" x2="300.4" y2="770.3" stroke="#555" stroke-width="1"/>
<text x="298" y="772.92" font-size="9.5" text-anchor="end" font-weight="normal" fill="#1e1e1e" stroke="#1e1e1e" stroke-width="0.25">0</text>
<line x1="299.8" y1="770.3" x2="437.4" y2="770.3" stroke="#666" stroke-width="1"/>
<line x1="300.4" y1="770.3" x2="300.4" y2="772.5" stroke="#555" stroke-width="1"/>
<text x="300.4" y="781.8" font-size="9.5" text-anchor="middle" font-weight="normal" fill="#1e1e1e" stroke="#1e1e1e" stroke-width="0.25">0</text>
<line x1="334.5" y1="770.3" x2="334.5" y2="772.5" stroke="#555" stroke-width="1"/>
<text x="334.5" y="781.8" font-size="9.5" text-anchor="middle" font-weight="normal" fill="#1e1e1e" stroke="#1e1e1e" stroke-width="0.25">1000</text>
<line x1="368.6" y1="770.3" x2="368.6" y2="772.5" stroke="#555" stroke-width="1"/>
<text x="368.6" y="781.8" font-size="9.5" text-anchor="middle" font-weight="normal" fill="#1e1e1e" stroke="#1e1e1e" stroke-width="0.25">2000</text>
<line x1="402.7" y1="770.3" x2="402.7" y2="772.5" stroke="#555" stroke-width="1"/>
<text x="402.7" y="781.8" font-size="9.5" text-anchor="middle" font-weight="normal" fill="#1e1e1e" stroke="#1e1e1e" stroke-width="0.25">3000</text>
<line x1="436.8" y1="770.3" x2="436.8" y2="772.5" stroke="#555" stroke-width="1"/>
<text x="436.8" y="781.8" font-size="9.5" text-anchor="middle" font-weight="normal" fill="#1e1e1e" stroke="#1e1e1e" stroke-width="0.25">4000</text>
<text x="366.6" y="797.8" font-size="10" text-anchor="middle" font-weight="normal" fill="#1e1e1e" stroke="#1e1e1e" stroke-width="0.25">Protein S (nM)</text>
<text transform="translate(277.6 701.6) rotate(-90)" font-size="10" text-anchor="middle" fill="#1e1e1e" stroke="#1e1e1e" stroke-width="0.25">Maximum RU</text>
<path d="M300.4 770.3 L302.1 768.57 L303.81 766.86 L305.51 765.17 L307.22 763.49 L308.92 761.83 L310.63 760.18 L312.33 758.55 L314.04 756.93 L315.75 755.33 L317.45 753.75 L319.15 752.18 L320.86 750.62 L322.56 749.08 L324.27 747.55 L325.97 746.04 L327.68 744.53 L329.38 743.05 L331.09 741.57 L332.79 740.11 L334.5 738.66 L336.2 737.23 L337.91 735.81 L339.61 734.4 L341.32 733 L343.02 731.61 L344.73 730.24 L346.43 728.88 L348.14 727.53 L349.84 726.19 L351.55 724.86 L353.25 723.55 L354.96 722.24 L356.66 720.95 L358.37 719.67 L360.07 718.39 L361.78 717.13 L363.48 715.88 L365.19 714.64 L366.89 713.41 L368.6 712.19 L370.3 710.98 L372.01 709.78 L373.71 708.59 L375.42 707.4 L377.12 706.23 L378.83 705.07 L380.53 703.91 L382.24 702.77 L383.94 701.63 L385.65 700.51 L387.35 699.39 L389.06 698.28 L390.76 697.18 L392.47 696.09 L394.17 695 L395.88 693.93 L397.58 692.86 L399.29 691.8 L401 690.75 L402.7 689.7 L404.4 688.67 L406.11 687.64 L407.81 686.62 L409.52 685.61 L411.22 684.6 L412.93 683.61 L414.63 682.62 L416.34 681.63 L418.04 680.66 L419.75 679.69 L421.45 678.73 L423.16 677.77 L424.86 676.82 L426.57 675.88 L428.27 674.95 L429.98 674.02 L431.68 673.1 L433.39 672.18 L435.09 671.28 L436.8 670.37" fill="none" stroke="#111" stroke-width="1.3" stroke-linejoin="round"/>
<path d="M300.4 770.3 L302.1 769.29 L303.81 768.29 L305.51 767.29 L307.22 766.29 L308.92 765.3 L310.63 764.31 L312.33 763.33 L314.04 762.36 L315.75 761.38 L317.45 760.42 L319.15 759.46 L320.86 758.5 L322.56 757.54 L324.27 756.59 L325.97 755.65 L327.68 754.71 L329.38 753.77 L331.09 752.84 L332.79 751.91 L334.5 750.99 L336.2 750.07 L337.91 749.16 L339.61 748.25 L341.32 747.34 L343.02 746.44 L344.73 745.54 L346.43 744.65 L348.14 743.76 L349.84 742.87 L351.55 741.99 L353.25 741.11 L354.96 740.24 L356.66 739.37 L358.37 738.5 L360.07 737.64 L361.78 736.78 L363.48 735.93 L365.19 735.07 L366.89 734.23 L368.6 733.38 L370.3 732.54 L372.01 731.71 L373.71 730.88 L375.42 730.05 L377.12 729.22 L378.83 728.4 L380.53 727.58 L382.24 726.77 L383.94 725.96 L385.65 725.15 L387.35 724.35 L389.06 723.55 L390.76 722.75 L392.47 721.96 L394.17 721.17 L395.88 720.38 L397.58 719.59 L399.29 718.81 L401 718.04 L402.7 717.26 L404.4 716.49 L406.11 715.73 L407.81 714.96 L409.52 714.2 L411.22 713.44 L412.93 712.69 L414.63 711.94 L416.34 711.19 L418.04 710.45 L419.75 709.7 L421.45 708.96 L423.16 708.23 L424.86 707.5 L426.57 706.77 L428.27 706.04 L429.98 705.32 L431.68 704.59 L433.39 703.88 L435.09 703.16 L436.8 702.45" fill="none" stroke="#111" stroke-width="1.3" stroke-linejoin="round"/>
<path d="M300.4 770.3 L302.1 769.96 L303.81 769.62 L305.51 769.28 L307.22 768.95 L308.92 768.63 L310.63 768.3 L312.33 767.98 L314.04 767.66 L315.75 767.35 L317.45 767.04 L319.15 766.73 L320.86 766.43 L322.56 766.13 L324.27 765.83 L325.97 765.54 L327.68 765.24 L329.38 764.96 L331.09 764.67 L332.79 764.39 L334.5 764.11 L336.2 763.83 L337.91 763.56 L339.61 763.29 L341.32 763.02 L343.02 762.75 L344.73 762.49 L346.43 762.23 L348.14 761.97 L349.84 761.71 L351.55 761.46 L353.25 761.21 L354.96 760.96 L356.66 760.71 L358.37 760.47 L360.07 760.23 L361.78 759.99 L363.48 759.75 L365.19 759.51 L366.89 759.28 L368.6 759.05 L370.3 758.82 L372.01 758.6 L373.71 758.37 L375.42 758.15 L377.12 757.93 L378.83 757.71 L380.53 757.49 L382.24 757.28 L383.94 757.07 L385.65 756.85 L387.35 756.65 L389.06 756.44 L390.76 756.23 L392.47 756.03 L394.17 755.83 L395.88 755.63 L397.58 755.43 L399.29 755.23 L401 755.04 L402.7 754.84 L404.4 754.65 L406.11 754.46 L407.81 754.27 L409.52 754.08 L411.22 753.9 L412.93 753.71 L414.63 753.53 L416.34 753.35 L418.04 753.17 L419.75 752.99 L421.45 752.82 L423.16 752.64 L424.86 752.47 L426.57 752.29 L428.27 752.12 L429.98 751.95 L431.68 751.78 L433.39 751.62 L435.09 751.45 L436.8 751.29" fill="none" stroke="#111" stroke-width="1.3" stroke-linejoin="round"/>
<line x1="436.8" y1="650.25" x2="436.8" y2="690.45" stroke="#333" stroke-width="1.15"/>
<line x1="433.8" y1="650.25" x2="439.8" y2="650.25" stroke="#333" stroke-width="1.15"/>
<line x1="433.8" y1="690.45" x2="439.8" y2="690.45" stroke="#333" stroke-width="1.15"/>
<line x1="436.8" y1="682.84" x2="436.8" y2="721.96" stroke="#333" stroke-width="1.15"/>
<line x1="433.8" y1="682.84" x2="439.8" y2="682.84" stroke="#333" stroke-width="1.15"/>
<line x1="433.8" y1="721.96" x2="439.8" y2="721.96" stroke="#333" stroke-width="1.15"/>
<line x1="368.6" y1="701.59" x2="368.6" y2="723.58" stroke="#333" stroke-width="1.15"/>
<line x1="365.6" y1="701.59" x2="371.6" y2="701.59" stroke="#333" stroke-width="1.15"/>
<line x1="365.6" y1="723.58" x2="371.6" y2="723.58" stroke="#333" stroke-width="1.15"/>
<line x1="368.6" y1="723.58" x2="368.6" y2="743.47" stroke="#333" stroke-width="1.15"/>
<line x1="365.6" y1="723.58" x2="371.6" y2="723.58" stroke="#333" stroke-width="1.15"/>
<line x1="365.6" y1="743.47" x2="371.6" y2="743.47" stroke="#333" stroke-width="1.15"/>
<line x1="334.5" y1="733.47" x2="334.5" y2="744.61" stroke="#333" stroke-width="1.15"/>
<line x1="331.5" y1="733.47" x2="337.5" y2="733.47" stroke="#333" stroke-width="1.15"/>
<line x1="331.5" y1="744.61" x2="337.5" y2="744.61" stroke="#333" stroke-width="1.15"/>
<line x1="334.5" y1="744.61" x2="334.5" y2="755.47" stroke="#333" stroke-width="1.15"/>
<line x1="331.5" y1="744.61" x2="337.5" y2="744.61" stroke="#333" stroke-width="1.15"/>
<line x1="331.5" y1="755.47" x2="337.5" y2="755.47" stroke="#333" stroke-width="1.15"/>
<line x1="317.45" y1="749.93" x2="317.45" y2="754.55" stroke="#333" stroke-width="1.15"/>
<line x1="314.45" y1="749.93" x2="320.45" y2="749.93" stroke="#333" stroke-width="1.15"/>
<line x1="314.45" y1="754.55" x2="320.45" y2="754.55" stroke="#333" stroke-width="1.15"/>
<line x1="317.45" y1="759.98" x2="317.45" y2="762.7" stroke="#333" stroke-width="1.15"/>
<line x1="314.45" y1="759.98" x2="320.45" y2="759.98" stroke="#333" stroke-width="1.15"/>
<line x1="314.45" y1="762.7" x2="320.45" y2="762.7" stroke="#333" stroke-width="1.15"/>
<rect x="366.26" y="721.24" width="4.68" height="4.68" fill="#8a8a8a"/>
<rect x="300.19" y="765.79" width="4.68" height="4.68" fill="#000"/>
<rect x="302.32" y="763.61" width="4.68" height="4.68" fill="#000"/>
<rect x="306.58" y="758.51" width="4.68" height="4.68" fill="#000"/>
<rect x="315.11" y="749.71" width="4.68" height="4.68" fill="#000"/>
<rect x="332.16" y="736.45" width="4.68" height="4.68" fill="#000"/>
<rect x="366.26" y="709.84" width="4.68" height="4.68" fill="#000"/>
<rect x="434.46" y="668.01" width="4.68" height="4.68" fill="#000"/>
<path d="M302.53 765.7 L305.5 771.05 L299.56 771.05 Z" fill="#000"/>
<path d="M304.66 764.61 L307.63 769.96 L301.69 769.96 Z" fill="#000"/>
<path d="M308.92 762.44 L311.89 767.79 L305.95 767.79 Z" fill="#000"/>
<path d="M317.45 758.31 L320.42 763.66 L314.48 763.66 Z" fill="#000"/>
<path d="M334.5 748.48 L337.47 753.83 L331.53 753.83 Z" fill="#000"/>
<path d="M368.6 730.39 L371.57 735.74 L365.63 735.74 Z" fill="#000"/>
<path d="M436.8 699.43 L439.77 704.78 L433.83 704.78 Z" fill="#000"/>
<path d="M302.53 772.73 L305.5 767.38 L299.56 767.38 Z" fill="#000"/>
<path d="M304.66 772.18 L307.63 766.84 L301.69 766.84 Z" fill="#000"/>
<path d="M308.92 771.64 L311.89 766.29 L305.95 766.29 Z" fill="#000"/>
<path d="M317.45 771.1 L320.42 765.75 L314.48 765.75 Z" fill="#000"/>
<path d="M334.5 767.57 L337.47 762.22 L331.53 762.22 Z" fill="#000"/>
<path d="M368.6 762.3 L371.57 756.95 L365.63 756.95 Z" fill="#000"/>
<path d="M436.8 754.26 L439.77 748.91 L433.83 748.91 Z" fill="#000"/>
<rect x="447.55" y="667.55" width="4.5" height="4.5" fill="#000"/>
<text x="456.6" y="673.5" font-size="8.2" text-anchor="start" font-weight="normal" fill="#1e1e1e" stroke="#1e1e1e" stroke-width="0.25">WT TFPI</text>
<path d="M450.3 699.63 L453.27 704.98 L447.33 704.98 Z" fill="#000"/>
<text x="456.6" y="705.7" font-size="8.2" text-anchor="start" font-weight="normal" fill="#1e1e1e" stroke="#1e1e1e" stroke-width="0.25">TFPI R199Q</text>
<path d="M450.3 754.07 L453.27 748.72 L447.33 748.72 Z" fill="#000"/>
<text x="456.6" y="754.1" font-size="8.2" text-anchor="start" font-weight="normal" fill="#1e1e1e" stroke="#1e1e1e" stroke-width="0.25">TFPI E226Q</text>
</svg>
</body></html>
